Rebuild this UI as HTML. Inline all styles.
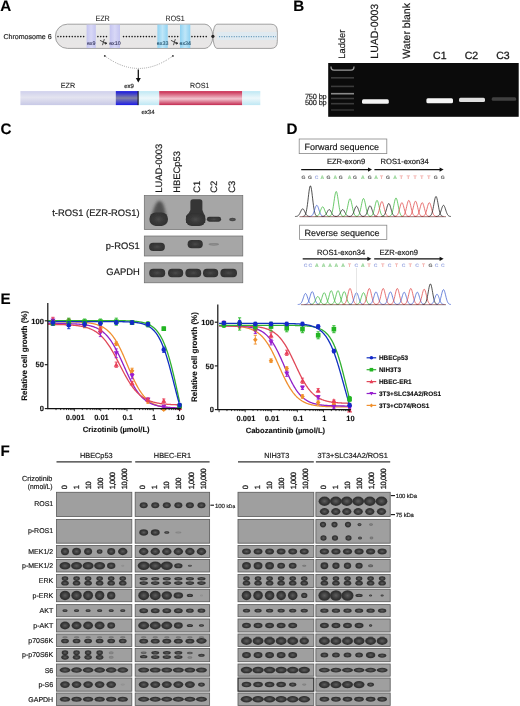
<!DOCTYPE html><html><head><meta charset="utf-8"><style>html,body{margin:0;padding:0;background:#fff;}svg{display:block;filter:blur(0.35px);}text{font-family:"Liberation Sans", sans-serif;text-rendering:geometricPrecision;}</style></head><body>
<svg width="520" height="706" viewBox="0 0 520 706">
<rect width="520" height="706" fill="#fff"/>
<defs>
<linearGradient id="chrom" x1="0" y1="0" x2="0" y2="1"><stop offset="0" stop-color="#ececec"/><stop offset="0.5" stop-color="#e6e6e6"/><stop offset="1" stop-color="#e9e6e6"/></linearGradient>
<linearGradient id="ezrex" x1="0" y1="0" x2="1" y2="0"><stop offset="0" stop-color="#c4c4f0"/><stop offset="0.5" stop-color="#d8d8f6"/><stop offset="1" stop-color="#c4c4f0"/></linearGradient>
<linearGradient id="rosex" x1="0" y1="0" x2="1" y2="0"><stop offset="0" stop-color="#8fd2f2"/><stop offset="0.5" stop-color="#bfe6f8"/><stop offset="1" stop-color="#8fd2f2"/></linearGradient>
<linearGradient id="ezrbar" x1="0" y1="0" x2="0" y2="1"><stop offset="0" stop-color="#cfd0ec"/><stop offset="0.45" stop-color="#e4e4f0"/><stop offset="1" stop-color="#c8c9e6"/></linearGradient>
<linearGradient id="ex9bar" x1="0" y1="0" x2="0" y2="1"><stop offset="0" stop-color="#1616e0"/><stop offset="0.5" stop-color="#8484a4"/><stop offset="1" stop-color="#1a1ae8"/></linearGradient>
<linearGradient id="cyanbar" x1="0" y1="0" x2="0" y2="1"><stop offset="0" stop-color="#bfe8f4"/><stop offset="0.5" stop-color="#eef8fb"/><stop offset="1" stop-color="#bfe8f4"/></linearGradient>
<linearGradient id="redbar" x1="0" y1="0" x2="0" y2="1"><stop offset="0" stop-color="#c8284e"/><stop offset="0.55" stop-color="#f2c4cf"/><stop offset="1" stop-color="#c42a50"/></linearGradient>
<filter id="blur05" x="-20%" y="-50%" width="140%" height="200%"><feGaussianBlur stdDeviation="0.5"/></filter>
<filter id="blur06" x="-20%" y="-50%" width="140%" height="200%"><feGaussianBlur stdDeviation="0.6"/></filter>
<filter id="bb" x="-50%" y="-50%" width="200%" height="200%"><feGaussianBlur stdDeviation="0.7"/></filter>
<radialGradient id="bandg" cx="0.5" cy="0.5" r="0.5"><stop offset="0" stop-color="#5e5e5e"/><stop offset="0.45" stop-color="#444"/><stop offset="0.8" stop-color="#303030"/><stop offset="1" stop-color="#383838"/></radialGradient>
<filter id="bb2" x="-50%" y="-50%" width="200%" height="200%"><feGaussianBlur stdDeviation="0.75"/></filter>
<filter id="blur15" x="-50%" y="-50%" width="200%" height="200%"><feGaussianBlur stdDeviation="1.4"/></filter>
<radialGradient id="bandc" cx="0.5" cy="0.5" r="0.5"><stop offset="0" stop-color="#4a4a4a"/><stop offset="0.5" stop-color="#3a3a3a"/><stop offset="1" stop-color="#323232"/></radialGradient>
</defs>
<text x="0.2" y="10.6" font-size="15.2" text-anchor="start" font-weight="bold" fill="#000" stroke="#000" stroke-width="0.12">A</text>
<text x="293.3" y="10.6" font-size="15.2" text-anchor="start" font-weight="bold" fill="#000" stroke="#000" stroke-width="0.12">B</text>
<text x="0.6" y="134.4" font-size="15.2" text-anchor="start" font-weight="bold" fill="#000" stroke="#000" stroke-width="0.12">C</text>
<text x="286.4" y="134.4" font-size="15.2" text-anchor="start" font-weight="bold" fill="#000" stroke="#000" stroke-width="0.12">D</text>
<text x="0.6" y="303.6" font-size="15.2" text-anchor="start" font-weight="bold" fill="#000" stroke="#000" stroke-width="0.12">E</text>
<text x="0.6" y="455.9" font-size="15.2" text-anchor="start" font-weight="bold" fill="#000" stroke="#000" stroke-width="0.12">F</text>
<text x="3.4" y="38.8" font-size="7.05" text-anchor="start" fill="#222" stroke="#222" stroke-width="0.18">Chromosome 6</text>
<text x="102.55" y="20.7" font-size="7.7" text-anchor="middle" fill="#2a2a2a" textLength="14.3" lengthAdjust="spacingAndGlyphs" stroke="#2a2a2a" stroke-width="0.1">EZR</text>
<text x="175.1" y="20.7" font-size="7.7" text-anchor="middle" fill="#2a2a2a" textLength="19.0" lengthAdjust="spacingAndGlyphs" stroke="#2a2a2a" stroke-width="0.1">ROS1</text>
<path d="M67.4 24.2 L205 24.2 A7.8 12.1 0 0 1 205 48.4 L67.4 48.4 A12 12.1 0 0 1 67.4 24.2 Z" fill="url(#chrom)" stroke="#8c8c8c" stroke-width="0.8"/>
<path d="M216.9 24.2 L271 24.2 Q277.3 24.2 277.3 31 L277.3 41.6 Q277.3 48.4 271 48.4 L216.9 48.4 A3.9 12.1 0 0 1 216.9 24.2 Z" fill="url(#chrom)" stroke="#8c8c8c" stroke-width="0.8"/>
<rect x="86.6" y="24.599999999999998" width="9.200000000000003" height="23.4" fill="url(#ezrex)"/>
<rect x="109.7" y="24.599999999999998" width="10.299999999999997" height="23.4" fill="url(#ezrex)"/>
<rect x="157.4" y="24.599999999999998" width="10.299999999999983" height="23.4" fill="url(#rosex)"/>
<rect x="180" y="24.599999999999998" width="10.300000000000011" height="23.4" fill="url(#rosex)"/>
<rect x="217" y="32" width="60" height="8" fill="#dcebf5" opacity="0.7"/>
<g fill="#151515"><circle cx="58.00" cy="36.599999999999994" r="0.78"/><circle cx="60.85" cy="36.599999999999994" r="0.78"/><circle cx="63.70" cy="36.599999999999994" r="0.78"/><circle cx="66.55" cy="36.599999999999994" r="0.78"/><circle cx="69.40" cy="36.599999999999994" r="0.78"/><circle cx="72.25" cy="36.599999999999994" r="0.78"/><circle cx="75.10" cy="36.599999999999994" r="0.78"/><circle cx="77.95" cy="36.599999999999994" r="0.78"/><circle cx="80.80" cy="36.599999999999994" r="0.78"/><circle cx="83.65" cy="36.599999999999994" r="0.78"/><circle cx="97.90" cy="36.599999999999994" r="0.78"/><circle cx="100.75" cy="36.599999999999994" r="0.78"/><circle cx="103.60" cy="36.599999999999994" r="0.78"/><circle cx="106.45" cy="36.599999999999994" r="0.78"/><circle cx="123.55" cy="36.599999999999994" r="0.78"/><circle cx="126.40" cy="36.599999999999994" r="0.78"/><circle cx="129.25" cy="36.599999999999994" r="0.78"/><circle cx="132.10" cy="36.599999999999994" r="0.78"/><circle cx="134.95" cy="36.599999999999994" r="0.78"/><circle cx="137.80" cy="36.599999999999994" r="0.78"/><circle cx="140.65" cy="36.599999999999994" r="0.78"/><circle cx="143.50" cy="36.599999999999994" r="0.78"/><circle cx="146.35" cy="36.599999999999994" r="0.78"/><circle cx="149.20" cy="36.599999999999994" r="0.78"/><circle cx="152.05" cy="36.599999999999994" r="0.78"/><circle cx="154.90" cy="36.599999999999994" r="0.78"/><circle cx="169.15" cy="36.599999999999994" r="0.78"/><circle cx="172.00" cy="36.599999999999994" r="0.78"/><circle cx="174.85" cy="36.599999999999994" r="0.78"/><circle cx="177.70" cy="36.599999999999994" r="0.78"/><circle cx="191.95" cy="36.599999999999994" r="0.78"/><circle cx="194.80" cy="36.599999999999994" r="0.78"/><circle cx="197.65" cy="36.599999999999994" r="0.78"/><circle cx="200.50" cy="36.599999999999994" r="0.78"/><circle cx="203.35" cy="36.599999999999994" r="0.78"/><circle cx="206.20" cy="36.599999999999994" r="0.78"/></g>
<line x1="219" y1="36.599999999999994" x2="276" y2="36.599999999999994" stroke="#6a9cbc" stroke-width="1.1" stroke-dasharray="1.1 1.35"/>
<circle cx="212.9" cy="36.3" r="1.6" fill="#222"/>
<text x="91.2" y="44.7" font-size="5.3" text-anchor="middle" fill="#34345a" stroke="#34345a" stroke-width="0.1">ex9</text>
<text x="114.9" y="44.7" font-size="5.3" text-anchor="middle" fill="#34345a" stroke="#34345a" stroke-width="0.1">ex10</text>
<text x="162.6" y="44.7" font-size="5.3" text-anchor="middle" fill="#24506a" stroke="#24506a" stroke-width="0.1">ex33</text>
<text x="185.2" y="44.7" font-size="5.3" text-anchor="middle" fill="#24506a" stroke="#24506a" stroke-width="0.1">ex34</text>
<g transform="translate(103.3,42.3)" stroke="#333" stroke-width="0.85" fill="none" stroke-linecap="round"><path d="M-3 -1.8 L2.2 0.9 M0.9 -2.8 L-0.7 2.5"/><circle cx="2.4" cy="1.0" r="0.8" fill="#2a2a2a"/></g>
<g transform="translate(174.3,42.3)" stroke="#333" stroke-width="0.85" fill="none" stroke-linecap="round"><path d="M-3 -1.8 L2.2 0.9 M0.9 -2.8 L-0.7 2.5"/><circle cx="2.4" cy="1.0" r="0.8" fill="#2a2a2a"/></g>
<path d="M104.8 55.9 Q138.7 81 172.9 55.9" fill="none" stroke="#666" stroke-width="0.7" stroke-dasharray="0.8 1.2"/>
<circle cx="104.8" cy="55.9" r="0.9" fill="#333"/><circle cx="172.9" cy="55.9" r="0.9" fill="#333"/>
<line x1="138.3" y1="69.6" x2="138.3" y2="79" stroke="#111" stroke-width="1.3"/>
<path d="M135.8 78 L140.8 78 L138.3 82.6 Z" fill="#111"/>
<rect x="20.4" y="91.1" width="95.5" height="14.0" fill="url(#ezrbar)"/>
<rect x="115.8" y="91.1" width="22.5" height="14.0" fill="url(#ex9bar)"/>
<rect x="137.6" y="91.1" width="1.2" height="14.0" fill="#111"/>
<rect x="138.8" y="91.1" width="20.4" height="14.0" fill="url(#cyanbar)"/>
<rect x="159.2" y="91.1" width="83.1" height="14.0" fill="url(#redbar)"/>
<rect x="242.3" y="91.1" width="18" height="14.0" fill="url(#cyanbar)"/>
<text x="68.0" y="87.5" font-size="7.4" text-anchor="middle" fill="#2a2a2a" textLength="14.5" lengthAdjust="spacingAndGlyphs" stroke="#2a2a2a" stroke-width="0.1">EZR</text>
<text x="199.7" y="87.5" font-size="7.4" text-anchor="middle" fill="#2a2a2a" textLength="19.2" lengthAdjust="spacingAndGlyphs" stroke="#2a2a2a" stroke-width="0.1">ROS1</text>
<text x="129.0" y="88.0" font-size="6.0" text-anchor="middle" fill="#222" stroke="#222" stroke-width="0.18">ex9</text>
<text x="148.0" y="113.6" font-size="6.0" text-anchor="middle" fill="#222" stroke="#222" stroke-width="0.18">ex34</text>
<text x="58.7" y="0" font-size="1" text-anchor="start" fill="#1a1a1a" stroke="#1a1a1a" stroke-width="0.18"></text>
<text x="344.55" y="58.70" font-size="9.3" fill="#1a1a1a" stroke="#1a1a1a" stroke-width="0.18" text-anchor="start" transform="rotate(-90 344.55 58.70)">Ladder</text>
<text x="377.98" y="58.70" font-size="10.5" fill="#1a1a1a" stroke="#1a1a1a" stroke-width="0.18" text-anchor="start" transform="rotate(-90 377.98 58.70)">LUAD-0003</text>
<text x="410.28" y="58.70" font-size="10.5" fill="#1a1a1a" stroke="#1a1a1a" stroke-width="0.18" text-anchor="start" transform="rotate(-90 410.28 58.70)">Water blank</text>
<text x="439.8" y="59.2" font-size="10.5" text-anchor="middle" fill="#1a1a1a" stroke="#1a1a1a" stroke-width="0.3">C1</text>
<text x="471.5" y="59.2" font-size="10.5" text-anchor="middle" fill="#1a1a1a" stroke="#1a1a1a" stroke-width="0.3">C2</text>
<text x="503" y="59.2" font-size="10.5" text-anchor="middle" fill="#1a1a1a" stroke="#1a1a1a" stroke-width="0.3">C3</text>
<rect x="328.2" y="63" width="190.5" height="53.8" fill="#0b0b0b"/>
<g filter="url(#blur06)">
<path d="M331 66.5 Q331 70.2 334 70.2 L351 70.2 Q354 70.2 354 66.5" fill="none" stroke="#9a9a9a" stroke-width="1.3"/>
<rect x="331" y="77.0" width="23" height="1.6" fill="#3a3a3a"/>
<rect x="331" y="85.60000000000001" width="23" height="1.6" fill="#3a3a3a"/>
<rect x="331" y="92.9" width="23" height="1.6" fill="#8a8a8a"/>
<rect x="331" y="97.7" width="23" height="1.6" fill="#3c3c3c"/>
<rect x="331" y="102.9" width="23" height="1.6" fill="#3a3a3a"/>
<rect x="331" y="109.2" width="23" height="1.6" fill="#303030"/>
</g>
<g filter="url(#blur05)">
<rect x="362" y="99.3" width="26.8" height="4.4" rx="1.5" fill="#f4f4f4"/>
<rect x="426.4" y="98.2" width="26.6" height="5" rx="1.5" fill="#f6f6f6"/>
<rect x="459" y="97.8" width="26" height="4.2" rx="1.5" fill="#dedede"/>
<rect x="491.7" y="97.3" width="24.5" height="3.4" rx="1.5" fill="#404040"/>
</g>
<text x="326.6" y="98.8" font-size="7.4" text-anchor="end" fill="#222" letter-spacing="-0.15" stroke="#222" stroke-width="0.18">750 bp</text>
<text x="326.6" y="105.3" font-size="7.4" text-anchor="end" fill="#222" letter-spacing="-0.15" stroke="#222" stroke-width="0.18">500 bp</text>
<text x="162.38" y="192.70" font-size="9.4" fill="#1a1a1a" stroke="#1a1a1a" stroke-width="0.18" text-anchor="start" transform="rotate(-90 162.38 192.70)">LUAD-0003</text>
<text x="180.08" y="192.70" font-size="9.4" fill="#1a1a1a" stroke="#1a1a1a" stroke-width="0.18" text-anchor="start" transform="rotate(-90 180.08 192.70)">HBECp53</text>
<text x="199.88" y="192.70" font-size="9.4" fill="#1a1a1a" stroke="#1a1a1a" stroke-width="0.18" text-anchor="start" transform="rotate(-90 199.88 192.70)">C1</text>
<text x="216.68" y="192.70" font-size="9.4" fill="#1a1a1a" stroke="#1a1a1a" stroke-width="0.18" text-anchor="start" transform="rotate(-90 216.68 192.70)">C2</text>
<text x="234.88" y="192.70" font-size="9.4" fill="#1a1a1a" stroke="#1a1a1a" stroke-width="0.18" text-anchor="start" transform="rotate(-90 234.88 192.70)">C3</text>
<text x="139.7" y="216.0" font-size="9.4" text-anchor="end" fill="#1a1a1a" stroke="#1a1a1a" stroke-width="0.18">t-ROS1 (EZR-ROS1)</text>
<text x="139.7" y="249.3" font-size="9.4" text-anchor="end" fill="#1a1a1a" stroke="#1a1a1a" stroke-width="0.18">p-ROS1</text>
<text x="139.7" y="275.3" font-size="9.4" text-anchor="end" fill="#1a1a1a" stroke="#1a1a1a" stroke-width="0.18">GAPDH</text>
<rect x="144.3" y="195.6" width="98.50" height="33.90" fill="#a6a6a6" stroke="#6a6a6a" stroke-width="0.7"/>
<rect x="144.3" y="236.0" width="98.50" height="20.00" fill="#a6a6a6" stroke="#6a6a6a" stroke-width="0.7"/>
<rect x="144.3" y="262.8" width="98.50" height="20.00" fill="#a6a6a6" stroke="#6a6a6a" stroke-width="0.7"/>
<path d="M151.5 216 Q154.5 205 157.5 201.5 Q159.5 200.5 161.5 201.5 Q164.5 205 166 216 Z" fill="#3e3e3e" opacity="0.8" filter="url(#blur15)"/>
<rect x="149.45" y="212.50" width="18.50" height="13.40" rx="6.2" fill="url(#bandc)" opacity="1.0" filter="url(#bb2)"/>
<path d="M186 223 L186 216 Q189.5 213 190.4 210 L190.4 201.8 Q190.4 199.2 193 199.2 L199.8 199.2 Q202.4 199.2 202.4 201.8 L202.4 210 Q203.3 213 205.2 216 L205.2 223 Z" fill="#363636" filter="url(#bb2)"/>
<rect x="185.80" y="213.10" width="19.60" height="12.80" rx="6" fill="url(#bandc)" opacity="1.0" filter="url(#bb2)"/>
<rect x="206.90" y="216.85" width="14.20" height="4.90" rx="2.4" fill="url(#bandc)" opacity="1.0" filter="url(#bb2)"/>
<ellipse cx="232.50" cy="219.50" rx="3.25" ry="1.70" fill="url(#bandc)" opacity="0.85" filter="url(#bb2)"/>
<rect x="149.10" y="242.70" width="15.80" height="8.40" rx="4" fill="url(#bandc)" opacity="1.0" filter="url(#bb2)"/>
<rect x="187.60" y="239.90" width="15.20" height="8.40" rx="4" fill="url(#bandc)" opacity="1.0" filter="url(#bb2)"/>
<ellipse cx="213.80" cy="244.30" rx="5.25" ry="1.40" fill="url(#bandg)" opacity="0.3" filter="url(#bb2)"/>
<rect x="149.20" y="268.80" width="16.00" height="8.40" rx="4" fill="url(#bandc)" opacity="1.0" filter="url(#bb2)"/>
<rect x="168.00" y="268.80" width="15.20" height="8.40" rx="4" fill="url(#bandc)" opacity="1.0" filter="url(#bb2)"/>
<rect x="185.40" y="268.80" width="15.80" height="8.40" rx="4" fill="url(#bandc)" opacity="1.0" filter="url(#bb2)"/>
<rect x="203.00" y="268.80" width="15.20" height="8.40" rx="4" fill="url(#bandc)" opacity="1.0" filter="url(#bb2)"/>
<rect x="220.40" y="268.80" width="16.60" height="8.40" rx="4" fill="url(#bandc)" opacity="1.0" filter="url(#bb2)"/>
<rect x="299.2" y="139" width="87.6" height="14.6" fill="#fff" stroke="#888" stroke-width="0.8"/>
<text x="304.5" y="150.2" font-size="9.0" text-anchor="start" fill="#1a1a1a" stroke="#1a1a1a" stroke-width="0.18">Forward sequence</text>
<line x1="301.2" y1="169.6" x2="369" y2="169.6" stroke="#111" stroke-width="1.2"/>
<path d="M368 167.5 L372 169.6 L368 171.7 Z" fill="#111"/>
<line x1="374.4" y1="169.6" x2="440.6" y2="169.6" stroke="#111" stroke-width="1.2"/>
<path d="M439.6 167.5 L443.6 169.6 L439.6 171.7 Z" fill="#111"/>
<text x="326.9" y="164.3" font-size="7.6" text-anchor="start" fill="#1a1a1a" stroke="#1a1a1a" stroke-width="0.18">EZR-exon9</text>
<text x="380.5" y="164.3" font-size="7.6" text-anchor="start" fill="#1a1a1a" stroke="#1a1a1a" stroke-width="0.18">ROS1-exon34</text>
<text x="303.5" y="178.6" font-size="5.0" text-anchor="middle" font-weight="bold" fill="#666" stroke="#666" stroke-width="0.12">G</text>
<text x="310" y="178.6" font-size="5.0" text-anchor="middle" font-weight="bold" fill="#666" stroke="#666" stroke-width="0.12">G</text>
<text x="316.5" y="178.6" font-size="5.0" text-anchor="middle" font-weight="bold" fill="#a4b0e4" stroke="#a4b0e4" stroke-width="0.12">C</text>
<text x="322.4" y="178.6" font-size="5.0" text-anchor="middle" font-weight="bold" fill="#96d496" stroke="#96d496" stroke-width="0.12">A</text>
<text x="328.5" y="178.6" font-size="5.0" text-anchor="middle" font-weight="bold" fill="#666" stroke="#666" stroke-width="0.12">G</text>
<text x="335.2" y="178.6" font-size="5.0" text-anchor="middle" font-weight="bold" fill="#96d496" stroke="#96d496" stroke-width="0.12">A</text>
<text x="340.8" y="178.6" font-size="5.0" text-anchor="middle" font-weight="bold" fill="#666" stroke="#666" stroke-width="0.12">G</text>
<text x="349.6" y="178.6" font-size="5.0" text-anchor="middle" font-weight="bold" fill="#96d496" stroke="#96d496" stroke-width="0.12">A</text>
<text x="355" y="178.6" font-size="5.0" text-anchor="middle" font-weight="bold" fill="#666" stroke="#666" stroke-width="0.12">G</text>
<text x="362.7" y="178.6" font-size="5.0" text-anchor="middle" font-weight="bold" fill="#96d496" stroke="#96d496" stroke-width="0.12">A</text>
<text x="369.6" y="178.6" font-size="5.0" text-anchor="middle" font-weight="bold" fill="#666" stroke="#666" stroke-width="0.12">G</text>
<text x="376" y="178.6" font-size="5.0" text-anchor="middle" font-weight="bold" fill="#96d496" stroke="#96d496" stroke-width="0.12">A</text>
<text x="381.6" y="178.6" font-size="5.0" text-anchor="middle" font-weight="bold" fill="#f2aaa6" stroke="#f2aaa6" stroke-width="0.12">T</text>
<text x="388" y="178.6" font-size="5.0" text-anchor="middle" font-weight="bold" fill="#666" stroke="#666" stroke-width="0.12">G</text>
<text x="395" y="178.6" font-size="5.0" text-anchor="middle" font-weight="bold" fill="#96d496" stroke="#96d496" stroke-width="0.12">A</text>
<text x="401.2" y="178.6" font-size="5.0" text-anchor="middle" font-weight="bold" fill="#f2aaa6" stroke="#f2aaa6" stroke-width="0.12">T</text>
<text x="408.4" y="178.6" font-size="5.0" text-anchor="middle" font-weight="bold" fill="#f2aaa6" stroke="#f2aaa6" stroke-width="0.12">T</text>
<text x="415" y="178.6" font-size="5.0" text-anchor="middle" font-weight="bold" fill="#f2aaa6" stroke="#f2aaa6" stroke-width="0.12">T</text>
<text x="421.9" y="178.6" font-size="5.0" text-anchor="middle" font-weight="bold" fill="#f2aaa6" stroke="#f2aaa6" stroke-width="0.12">T</text>
<text x="428.8" y="178.6" font-size="5.0" text-anchor="middle" font-weight="bold" fill="#f2aaa6" stroke="#f2aaa6" stroke-width="0.12">T</text>
<text x="435.8" y="178.6" font-size="5.0" text-anchor="middle" font-weight="bold" fill="#666" stroke="#666" stroke-width="0.12">G</text>
<text x="442.7" y="178.6" font-size="5.0" text-anchor="middle" font-weight="bold" fill="#666" stroke="#666" stroke-width="0.12">G</text>
<polyline points="294.96,216.49 295.36,216.48 295.76,216.46 296.16,216.42 296.56,216.37 296.96,216.28 297.36,216.15 297.76,215.95 298.16,215.67 298.56,215.29 298.96,214.80 299.36,214.20 299.76,213.48 300.16,212.67 300.56,211.81 300.96,210.95 301.36,210.16 301.76,209.50 302.16,209.04 302.56,208.82 302.96,208.86 303.36,209.15 303.76,209.68 304.16,210.39 304.56,211.20 304.96,212.07 305.36,212.92 305.76,213.70 306.16,214.39 306.56,214.96 306.96,215.42 307.36,215.76 307.76,216.02 308.16,216.19 308.56,216.31 308.96,216.39 309.36,216.44 309.76,216.46 310.16,216.48" fill="none" stroke="#1a1a1a" stroke-width="0.9" opacity="0.85"/>
<polyline points="302.66,216.45 303.06,216.41 303.46,216.33 303.86,216.20 304.26,215.98 304.66,215.63 305.06,215.10 305.46,214.31 305.86,213.20 306.26,211.69 306.66,209.74 307.06,207.31 307.46,204.45 307.86,201.22 308.26,197.79 308.66,194.37 309.06,191.22 309.46,188.60 309.86,186.75 310.26,185.87 310.66,186.02 311.06,187.21 311.46,189.31 311.86,192.12 312.26,195.38 312.66,198.83 313.06,202.22 313.46,205.35 313.86,208.09 314.26,210.37 314.66,212.19 315.06,213.57 315.46,214.58 315.86,215.28 316.26,215.75 316.66,216.06 317.06,216.25 317.46,216.36 317.86,216.43" fill="none" stroke="#1a1a1a" stroke-width="0.9" opacity="0.85"/>
<polyline points="309.06,216.48 309.46,216.47 309.86,216.44 310.26,216.39 310.66,216.31 311.06,216.18 311.46,215.99 311.86,215.70 312.26,215.30 312.66,214.75 313.06,214.03 313.46,213.15 313.86,212.10 314.26,210.93 314.66,209.68 315.06,208.43 315.46,207.28 315.86,206.32 316.26,205.65 316.66,205.32 317.06,205.38 317.46,205.82 317.86,206.58 318.26,207.61 318.66,208.80 319.06,210.05 319.46,211.29 319.86,212.43 320.26,213.43 320.66,214.26 321.06,214.93 321.46,215.43 321.86,215.80 322.26,216.05 322.66,216.23 323.06,216.34 323.46,216.41 323.86,216.45 324.26,216.47" fill="none" stroke="#4060d0" stroke-width="0.9" opacity="0.85"/>
<polyline points="314.96,216.49 315.36,216.47 315.76,216.45 316.16,216.41 316.56,216.34 316.96,216.23 317.36,216.06 317.76,215.81 318.16,215.46 318.56,214.98 318.96,214.36 319.36,213.60 319.76,212.69 320.16,211.67 320.56,210.59 320.96,209.51 321.36,208.51 321.76,207.68 322.16,207.10 322.56,206.82 322.96,206.87 323.36,207.25 323.76,207.91 324.16,208.80 324.56,209.83 324.96,210.92 325.36,211.99 325.76,212.98 326.16,213.84 326.56,214.56 326.96,215.14 327.36,215.57 327.76,215.89 328.16,216.11 328.56,216.26 328.96,216.36 329.36,216.42 329.76,216.46 330.16,216.48" fill="none" stroke="#3cb83c" stroke-width="0.9" opacity="0.85"/>
<polyline points="321.46,216.49 321.86,216.48 322.26,216.46 322.66,216.43 323.06,216.38 323.46,216.30 323.86,216.18 324.26,216.01 324.66,215.76 325.06,215.42 325.46,214.98 325.86,214.44 326.26,213.79 326.66,213.07 327.06,212.30 327.46,211.53 327.86,210.82 328.26,210.23 328.66,209.81 329.06,209.61 329.46,209.65 329.86,209.92 330.26,210.39 330.66,211.02 331.06,211.75 331.46,212.53 331.86,213.29 332.26,213.99 332.66,214.61 333.06,215.12 333.46,215.53 333.86,215.84 334.26,216.07 334.66,216.23 335.06,216.33 335.46,216.40 335.86,216.44 336.26,216.47 336.66,216.48" fill="none" stroke="#1a1a1a" stroke-width="0.9" opacity="0.85"/>
<polyline points="328.46,216.46 328.86,216.43 329.26,216.36 329.66,216.26 330.06,216.08 330.46,215.79 330.86,215.36 331.26,214.72 331.66,213.81 332.06,212.58 332.46,210.99 332.86,209.02 333.26,206.68 333.66,204.06 334.06,201.27 334.46,198.48 334.86,195.91 335.26,193.78 335.66,192.28 336.06,191.55 336.46,191.68 336.86,192.65 337.26,194.36 337.66,196.65 338.06,199.30 338.46,202.11 338.86,204.87 339.26,207.42 339.66,209.65 340.06,211.51 340.46,212.99 340.86,214.11 341.26,214.93 341.66,215.51 342.06,215.89 342.46,216.14 342.86,216.29 343.26,216.39 343.66,216.44" fill="none" stroke="#3cb83c" stroke-width="0.9" opacity="0.85"/>
<polyline points="334.96,216.49 335.36,216.48 335.76,216.46 336.16,216.43 336.56,216.38 336.96,216.30 337.36,216.18 337.76,216.01 338.16,215.76 338.56,215.42 338.96,214.98 339.36,214.44 339.76,213.79 340.16,213.07 340.56,212.30 340.96,211.53 341.36,210.82 341.76,210.23 342.16,209.81 342.56,209.61 342.96,209.65 343.36,209.92 343.76,210.39 344.16,211.02 344.56,211.75 344.96,212.53 345.36,213.29 345.76,213.99 346.16,214.61 346.56,215.12 346.96,215.53 347.36,215.84 347.76,216.07 348.16,216.23 348.56,216.33 348.96,216.40 349.36,216.44 349.76,216.47 350.16,216.48" fill="none" stroke="#1a1a1a" stroke-width="0.9" opacity="0.85"/>
<polyline points="342.26,216.47 342.66,216.45 343.06,216.40 343.46,216.33 343.86,216.20 344.26,216.00 344.66,215.69 345.06,215.24 345.46,214.60 345.86,213.73 346.26,212.60 346.66,211.20 347.06,209.55 347.46,207.69 347.86,205.71 348.26,203.74 348.66,201.92 349.06,200.41 349.46,199.35 349.86,198.84 350.26,198.93 350.66,199.61 351.06,200.83 351.46,202.44 351.86,204.33 352.26,206.31 352.66,208.27 353.06,210.07 353.46,211.65 353.86,212.97 354.26,214.01 354.66,214.81 355.06,215.39 355.46,215.80 355.86,216.07 356.26,216.24 356.66,216.35 357.06,216.42 357.46,216.46" fill="none" stroke="#3cb83c" stroke-width="0.9" opacity="0.85"/>
<polyline points="348.76,216.48 349.16,216.47 349.56,216.44 349.96,216.40 350.36,216.33 350.76,216.21 351.16,216.03 351.56,215.76 351.96,215.39 352.36,214.89 352.76,214.23 353.16,213.42 353.56,212.46 353.96,211.37 354.36,210.22 354.76,209.08 355.16,208.02 355.56,207.14 355.96,206.52 356.36,206.22 356.76,206.28 357.16,206.67 357.56,207.38 357.96,208.32 358.36,209.42 358.76,210.57 359.16,211.71 359.56,212.76 359.96,213.68 360.36,214.44 360.76,215.05 361.16,215.52 361.56,215.85 361.96,216.09 362.36,216.25 362.76,216.35 363.16,216.42 363.56,216.45 363.96,216.47" fill="none" stroke="#1a1a1a" stroke-width="0.9" opacity="0.85"/>
<polyline points="355.76,216.47 356.16,216.45 356.56,216.40 356.96,216.32 357.36,216.20 357.76,215.99 358.16,215.68 358.56,215.22 358.96,214.56 359.36,213.68 359.76,212.54 360.16,211.11 360.56,209.43 360.96,207.54 361.36,205.53 361.76,203.53 362.16,201.68 362.56,200.14 362.96,199.06 363.36,198.54 363.76,198.63 364.16,199.33 364.56,200.56 364.96,202.21 365.36,204.12 365.76,206.14 366.16,208.13 366.56,209.96 366.96,211.57 367.36,212.91 367.76,213.97 368.16,214.78 368.56,215.37 368.96,215.78 369.36,216.06 369.76,216.24 370.16,216.35 370.56,216.42 370.96,216.46" fill="none" stroke="#3cb83c" stroke-width="0.9" opacity="0.85"/>
<polyline points="362.26,216.48 362.66,216.47 363.06,216.44 363.46,216.40 363.86,216.32 364.26,216.20 364.66,216.01 365.06,215.74 365.46,215.35 365.86,214.82 366.26,214.14 366.66,213.30 367.06,212.30 367.46,211.18 367.86,209.98 368.26,208.79 368.66,207.69 369.06,206.78 369.46,206.13 369.86,205.82 370.26,205.88 370.66,206.29 371.06,207.02 371.46,208.00 371.86,209.14 372.26,210.34 372.66,211.52 373.06,212.61 373.46,213.57 373.86,214.36 374.26,215.00 374.66,215.48 375.06,215.83 375.46,216.07 375.86,216.24 376.26,216.35 376.66,216.41 377.06,216.45 377.46,216.47" fill="none" stroke="#1a1a1a" stroke-width="0.9" opacity="0.85"/>
<polyline points="369.26,216.48 369.66,216.45 370.06,216.41 370.46,216.34 370.86,216.23 371.26,216.04 371.66,215.76 372.06,215.35 372.46,214.77 372.86,213.98 373.26,212.95 373.66,211.68 374.06,210.18 374.46,208.49 374.86,206.69 375.26,204.90 375.66,203.24 376.06,201.87 376.46,200.90 376.86,200.43 377.26,200.52 377.66,201.14 378.06,202.24 378.46,203.72 378.86,205.43 379.26,207.23 379.66,209.01 380.06,210.65 380.46,212.09 380.86,213.29 381.26,214.24 381.66,214.96 382.06,215.49 382.46,215.86 382.86,216.11 383.26,216.27 383.66,216.37 384.06,216.43 384.46,216.46" fill="none" stroke="#3cb83c" stroke-width="0.9" opacity="0.85"/>
<polyline points="374.16,216.48 374.56,216.46 374.96,216.42 375.36,216.35 375.76,216.25 376.16,216.08 376.56,215.82 376.96,215.44 377.36,214.90 377.76,214.17 378.16,213.22 378.56,212.04 378.96,210.65 379.36,209.08 379.76,207.42 380.16,205.76 380.56,204.23 380.96,202.96 381.36,202.06 381.76,201.63 382.16,201.71 382.56,202.29 382.96,203.31 383.36,204.67 383.76,206.25 384.16,207.92 384.56,209.57 384.96,211.09 385.36,212.42 385.76,213.53 386.16,214.41 386.56,215.08 386.96,215.57 387.36,215.91 387.76,216.14 388.16,216.29 388.56,216.38 388.96,216.43 389.36,216.46" fill="none" stroke="#e04848" stroke-width="0.9" opacity="0.85"/>
<polyline points="381.06,216.48 381.46,216.46 381.86,216.43 382.26,216.37 382.66,216.28 383.06,216.13 383.46,215.91 383.86,215.57 384.26,215.10 384.66,214.46 385.06,213.64 385.46,212.61 385.86,211.40 386.26,210.03 386.66,208.58 387.06,207.13 387.46,205.79 387.86,204.68 388.26,203.90 388.66,203.53 389.06,203.59 389.46,204.10 389.86,204.99 390.26,206.18 390.66,207.56 391.06,209.02 391.46,210.45 391.86,211.78 392.26,212.94 392.66,213.91 393.06,214.67 393.46,215.26 393.86,215.68 394.26,215.98 394.66,216.18 395.06,216.31 395.46,216.39 395.86,216.44 396.26,216.47" fill="none" stroke="#1a1a1a" stroke-width="0.9" opacity="0.85"/>
<polyline points="388.26,216.47 388.66,216.45 389.06,216.40 389.46,216.32 389.86,216.19 390.26,215.98 390.66,215.65 391.06,215.18 391.46,214.51 391.86,213.60 392.26,212.43 392.66,210.96 393.06,209.24 393.46,207.29 393.86,205.23 394.26,203.17 394.66,201.27 395.06,199.69 395.46,198.57 395.86,198.04 396.26,198.13 396.66,198.85 397.06,200.12 397.46,201.81 397.86,203.78 398.26,205.85 398.66,207.89 399.06,209.78 399.46,211.43 399.86,212.81 400.26,213.90 400.66,214.73 401.06,215.34 401.46,215.76 401.86,216.05 402.26,216.23 402.66,216.35 403.06,216.42 403.46,216.46" fill="none" stroke="#3cb83c" stroke-width="0.9" opacity="0.85"/>
<polyline points="394.16,216.48 394.56,216.46 394.96,216.42 395.36,216.36 395.76,216.27 396.16,216.11 396.56,215.87 396.96,215.51 397.36,215.02 397.76,214.34 398.16,213.46 398.56,212.37 398.96,211.08 399.36,209.63 399.76,208.09 400.16,206.55 400.56,205.14 400.96,203.96 401.36,203.13 401.76,202.73 402.16,202.80 402.56,203.34 402.96,204.28 403.36,205.54 403.76,207.01 404.16,208.56 404.56,210.08 404.96,211.49 405.36,212.72 405.76,213.75 406.16,214.56 406.56,215.18 406.96,215.63 407.36,215.95 407.76,216.16 408.16,216.30 408.56,216.39 408.96,216.44 409.36,216.47" fill="none" stroke="#e04848" stroke-width="0.9" opacity="0.85"/>
<polyline points="401.06,216.48 401.46,216.45 401.86,216.41 402.26,216.34 402.66,216.23 403.06,216.04 403.46,215.76 403.86,215.35 404.26,214.77 404.66,213.98 405.06,212.95 405.46,211.68 405.86,210.18 406.26,208.49 406.66,206.69 407.06,204.90 407.46,203.24 407.86,201.87 408.26,200.90 408.66,200.43 409.06,200.52 409.46,201.14 409.86,202.24 410.26,203.72 410.66,205.43 411.06,207.23 411.46,209.01 411.86,210.65 412.26,212.09 412.66,213.29 413.06,214.24 413.46,214.96 413.86,215.49 414.26,215.86 414.66,216.11 415.06,216.27 415.46,216.37 415.86,216.43 416.26,216.46" fill="none" stroke="#e04848" stroke-width="0.9" opacity="0.85"/>
<polyline points="407.76,216.48 408.16,216.45 408.56,216.42 408.96,216.35 409.36,216.24 409.76,216.07 410.16,215.80 410.56,215.41 410.96,214.85 411.36,214.10 411.76,213.13 412.16,211.92 412.56,210.49 412.96,208.89 413.36,207.18 413.76,205.47 414.16,203.90 414.56,202.59 414.96,201.68 415.36,201.23 415.76,201.31 416.16,201.90 416.56,202.95 416.96,204.35 417.36,205.98 417.76,207.69 418.16,209.38 418.56,210.94 418.96,212.31 419.36,213.45 419.76,214.35 420.16,215.04 420.56,215.54 420.96,215.89 421.36,216.13 421.76,216.28 422.16,216.37 422.56,216.43 422.96,216.46" fill="none" stroke="#e04848" stroke-width="0.9" opacity="0.85"/>
<polyline points="414.46,216.48 414.86,216.46 415.26,216.42 415.66,216.36 416.06,216.27 416.46,216.11 416.86,215.87 417.26,215.51 417.66,215.02 418.06,214.34 418.46,213.46 418.86,212.37 419.26,211.08 419.66,209.63 420.06,208.09 420.46,206.55 420.86,205.14 421.26,203.96 421.66,203.13 422.06,202.73 422.46,202.80 422.86,203.34 423.26,204.28 423.66,205.54 424.06,207.01 424.46,208.56 424.86,210.08 425.26,211.49 425.66,212.72 426.06,213.75 426.46,214.56 426.86,215.18 427.26,215.63 427.66,215.95 428.06,216.16 428.46,216.30 428.86,216.39 429.26,216.44 429.66,216.47" fill="none" stroke="#e04848" stroke-width="0.9" opacity="0.85"/>
<polyline points="421.56,216.48 421.96,216.46 422.36,216.42 422.76,216.36 423.16,216.27 423.56,216.11 423.96,215.87 424.36,215.51 424.76,215.02 425.16,214.34 425.56,213.46 425.96,212.37 426.36,211.08 426.76,209.63 427.16,208.09 427.56,206.55 427.96,205.14 428.36,203.96 428.76,203.13 429.16,202.73 429.56,202.80 429.96,203.34 430.36,204.28 430.76,205.54 431.16,207.01 431.56,208.56 431.96,210.08 432.36,211.49 432.76,212.72 433.16,213.75 433.56,214.56 433.96,215.18 434.36,215.63 434.76,215.95 435.16,216.16 435.56,216.30 435.96,216.39 436.36,216.44 436.76,216.47" fill="none" stroke="#e04848" stroke-width="0.9" opacity="0.85"/>
<polyline points="428.26,216.47 428.66,216.44 429.06,216.39 429.46,216.30 429.86,216.16 430.26,215.93 430.66,215.58 431.06,215.07 431.46,214.35 431.86,213.37 432.26,212.09 432.66,210.52 433.06,208.65 433.46,206.55 433.86,204.31 434.26,202.09 434.66,200.03 435.06,198.32 435.46,197.12 435.86,196.54 436.26,196.65 436.66,197.42 437.06,198.79 437.46,200.62 437.86,202.74 438.26,204.99 438.66,207.20 439.06,209.24 439.46,211.02 439.86,212.51 440.26,213.69 440.66,214.59 441.06,215.25 441.46,215.70 441.86,216.01 442.26,216.21 442.66,216.34 443.06,216.41 443.46,216.45" fill="none" stroke="#1a1a1a" stroke-width="0.9" opacity="0.85"/>
<polyline points="435.76,216.48 436.16,216.47 436.56,216.44 436.96,216.39 437.36,216.31 437.76,216.18 438.16,215.99 438.56,215.70 438.96,215.30 439.36,214.75 439.76,214.03 440.16,213.15 440.56,212.10 440.96,210.93 441.36,209.68 441.76,208.43 442.16,207.28 442.56,206.32 442.96,205.65 443.36,205.32 443.76,205.38 444.16,205.82 444.56,206.58 444.96,207.61 445.36,208.80 445.76,210.05 446.16,211.29 446.56,212.43 446.96,213.43 447.36,214.26 447.76,214.93 448.16,215.43 448.56,215.80 448.96,216.05 449.36,216.23 449.76,216.34 450.16,216.41 450.56,216.45 450.96,216.47" fill="none" stroke="#1a1a1a" stroke-width="0.9" opacity="0.85"/>
<line x1="299.5" y1="216.5" x2="446" y2="216.5" stroke="#c04040" stroke-width="0.7" opacity="0.6"/>
<line x1="299.5" y1="216.8" x2="446" y2="216.8" stroke="#222" stroke-width="0.6" opacity="0.6"/>
<rect x="299.6" y="225.2" width="87.2" height="14.4" fill="#fff" stroke="#888" stroke-width="0.8"/>
<text x="304.5" y="236.3" font-size="9.0" text-anchor="start" fill="#1a1a1a" stroke="#1a1a1a" stroke-width="0.18">Reverse sequence</text>
<line x1="302.7" y1="258.8" x2="368.4" y2="258.8" stroke="#111" stroke-width="1.2"/>
<path d="M367.4 256.7 L371.4 258.8 L367.4 260.90000000000003 Z" fill="#111"/>
<line x1="374.2" y1="258.8" x2="440.6" y2="258.8" stroke="#111" stroke-width="1.2"/>
<path d="M439.6 256.7 L443.6 258.8 L439.6 260.90000000000003 Z" fill="#111"/>
<text x="317.0" y="255.0" font-size="7.6" text-anchor="start" fill="#1a1a1a" stroke="#1a1a1a" stroke-width="0.18">ROS1-exon34</text>
<text x="379.5" y="255.0" font-size="7.6" text-anchor="start" fill="#1a1a1a" stroke="#1a1a1a" stroke-width="0.18">EZR-exon9</text>
<text x="305.5" y="266.8" font-size="5.0" text-anchor="middle" font-weight="bold" fill="#a4b0e4" stroke="#a4b0e4" stroke-width="0.12">C</text>
<text x="310.4" y="266.8" font-size="5.0" text-anchor="middle" font-weight="bold" fill="#a4b0e4" stroke="#a4b0e4" stroke-width="0.12">C</text>
<text x="316.8" y="266.8" font-size="5.0" text-anchor="middle" font-weight="bold" fill="#96d496" stroke="#96d496" stroke-width="0.12">A</text>
<text x="323.5" y="266.8" font-size="5.0" text-anchor="middle" font-weight="bold" fill="#96d496" stroke="#96d496" stroke-width="0.12">A</text>
<text x="330" y="266.8" font-size="5.0" text-anchor="middle" font-weight="bold" fill="#96d496" stroke="#96d496" stroke-width="0.12">A</text>
<text x="336.2" y="266.8" font-size="5.0" text-anchor="middle" font-weight="bold" fill="#96d496" stroke="#96d496" stroke-width="0.12">A</text>
<text x="343" y="266.8" font-size="5.0" text-anchor="middle" font-weight="bold" fill="#96d496" stroke="#96d496" stroke-width="0.12">A</text>
<text x="349.6" y="266.8" font-size="5.0" text-anchor="middle" font-weight="bold" fill="#f2aaa6" stroke="#f2aaa6" stroke-width="0.12">T</text>
<text x="356.2" y="266.8" font-size="5.0" text-anchor="middle" font-weight="bold" fill="#a4b0e4" stroke="#a4b0e4" stroke-width="0.12">C</text>
<text x="362.7" y="266.8" font-size="5.0" text-anchor="middle" font-weight="bold" fill="#96d496" stroke="#96d496" stroke-width="0.12">A</text>
<text x="369" y="266.8" font-size="5.0" text-anchor="middle" font-weight="bold" fill="#f2aaa6" stroke="#f2aaa6" stroke-width="0.12">T</text>
<text x="375.5" y="266.8" font-size="5.0" text-anchor="middle" font-weight="bold" fill="#a4b0e4" stroke="#a4b0e4" stroke-width="0.12">C</text>
<text x="382.7" y="266.8" font-size="5.0" text-anchor="middle" font-weight="bold" fill="#f2aaa6" stroke="#f2aaa6" stroke-width="0.12">T</text>
<text x="389.6" y="266.8" font-size="5.0" text-anchor="middle" font-weight="bold" fill="#a4b0e4" stroke="#a4b0e4" stroke-width="0.12">C</text>
<text x="396.5" y="266.8" font-size="5.0" text-anchor="middle" font-weight="bold" fill="#f2aaa6" stroke="#f2aaa6" stroke-width="0.12">T</text>
<text x="403.5" y="266.8" font-size="5.0" text-anchor="middle" font-weight="bold" fill="#a4b0e4" stroke="#a4b0e4" stroke-width="0.12">C</text>
<text x="410.4" y="266.8" font-size="5.0" text-anchor="middle" font-weight="bold" fill="#f2aaa6" stroke="#f2aaa6" stroke-width="0.12">T</text>
<text x="417" y="266.8" font-size="5.0" text-anchor="middle" font-weight="bold" fill="#a4b0e4" stroke="#a4b0e4" stroke-width="0.12">C</text>
<text x="423.5" y="266.8" font-size="5.0" text-anchor="middle" font-weight="bold" fill="#f2aaa6" stroke="#f2aaa6" stroke-width="0.12">T</text>
<text x="430.4" y="266.8" font-size="5.0" text-anchor="middle" font-weight="bold" fill="#666" stroke="#666" stroke-width="0.12">G</text>
<text x="436.5" y="266.8" font-size="5.0" text-anchor="middle" font-weight="bold" fill="#a4b0e4" stroke="#a4b0e4" stroke-width="0.12">C</text>
<text x="442.7" y="266.8" font-size="5.0" text-anchor="middle" font-weight="bold" fill="#a4b0e4" stroke="#a4b0e4" stroke-width="0.12">C</text>
<polyline points="297.76,304.48 298.16,304.47 298.56,304.44 298.96,304.39 299.36,304.31 299.76,304.19 300.16,304.00 300.56,303.71 300.96,303.32 301.36,302.78 301.76,302.08 302.16,301.21 302.56,300.18 302.96,299.03 303.36,297.80 303.76,296.57 304.16,295.44 304.56,294.50 304.96,293.84 305.36,293.52 305.76,293.58 306.16,294.01 306.56,294.76 306.96,295.77 307.36,296.93 307.76,298.17 308.16,299.38 308.56,300.50 308.96,301.49 309.36,302.30 309.76,302.96 310.16,303.45 310.56,303.81 310.96,304.06 311.36,304.23 311.76,304.34 312.16,304.41 312.56,304.45 312.96,304.47" fill="none" stroke="#4060d0" stroke-width="0.9" opacity="0.85"/>
<polyline points="304.46,304.48 304.86,304.46 305.26,304.43 305.66,304.37 306.06,304.28 306.46,304.13 306.86,303.91 307.26,303.58 307.66,303.11 308.06,302.48 308.46,301.66 308.86,300.64 309.26,299.44 309.66,298.08 310.06,296.64 310.46,295.20 310.86,293.88 311.26,292.78 311.66,292.00 312.06,291.63 312.46,291.69 312.86,292.19 313.26,293.08 313.66,294.26 314.06,295.63 314.46,297.08 314.86,298.50 315.26,299.81 315.66,300.97 316.06,301.93 316.46,302.69 316.86,303.27 317.26,303.69 317.66,303.99 318.06,304.19 318.46,304.31 318.86,304.39 319.26,304.44 319.66,304.47" fill="none" stroke="#4060d0" stroke-width="0.9" opacity="0.85"/>
<polyline points="310.06,304.49 310.46,304.48 310.86,304.46 311.26,304.42 311.66,304.36 312.06,304.27 312.46,304.13 312.86,303.93 313.26,303.64 313.66,303.25 314.06,302.74 314.46,302.11 314.86,301.36 315.26,300.52 315.66,299.63 316.06,298.73 316.46,297.91 316.86,297.23 317.26,296.75 317.66,296.52 318.06,296.56 318.46,296.87 318.86,297.42 319.26,298.15 319.66,299.00 320.06,299.90 320.46,300.78 320.86,301.59 321.26,302.31 321.66,302.90 322.06,303.38 322.46,303.74 322.86,304.00 323.26,304.18 323.66,304.31 324.06,304.38 324.46,304.43 324.86,304.46 325.26,304.48" fill="none" stroke="#3cb83c" stroke-width="0.9" opacity="0.85"/>
<polyline points="316.46,304.48 316.86,304.47 317.26,304.44 317.66,304.38 318.06,304.30 318.46,304.17 318.86,303.96 319.26,303.66 319.66,303.23 320.06,302.65 320.46,301.90 320.86,300.97 321.26,299.87 321.66,298.63 322.06,297.31 322.46,296.00 322.86,294.78 323.26,293.78 323.66,293.07 324.06,292.72 324.46,292.79 324.86,293.24 325.26,294.05 325.66,295.13 326.06,296.38 326.46,297.71 326.86,299.01 327.26,300.21 327.66,301.27 328.06,302.15 328.46,302.84 328.86,303.37 329.26,303.76 329.66,304.03 330.06,304.21 330.46,304.33 330.86,304.40 331.26,304.45 331.66,304.47" fill="none" stroke="#3cb83c" stroke-width="0.9" opacity="0.85"/>
<polyline points="323.46,304.48 323.86,304.46 324.26,304.42 324.66,304.36 325.06,304.27 325.46,304.11 325.86,303.87 326.26,303.51 326.66,303.02 327.06,302.34 327.46,301.46 327.86,300.37 328.26,299.08 328.66,297.63 329.06,296.09 329.46,294.55 329.86,293.14 330.26,291.96 330.66,291.13 331.06,290.73 331.46,290.80 331.86,291.34 332.26,292.28 332.66,293.54 333.06,295.01 333.46,296.56 333.86,298.08 334.26,299.49 334.66,300.72 335.06,301.75 335.46,302.56 335.86,303.18 336.26,303.63 336.66,303.95 337.06,304.16 337.46,304.30 337.86,304.39 338.26,304.44 338.66,304.47" fill="none" stroke="#3cb83c" stroke-width="0.9" opacity="0.85"/>
<polyline points="330.26,304.48 330.66,304.46 331.06,304.42 331.46,304.36 331.86,304.27 332.26,304.11 332.66,303.87 333.06,303.51 333.46,303.02 333.86,302.34 334.26,301.46 334.66,300.37 335.06,299.08 335.46,297.63 335.86,296.09 336.26,294.55 336.66,293.14 337.06,291.96 337.46,291.13 337.86,290.73 338.26,290.80 338.66,291.34 339.06,292.28 339.46,293.54 339.86,295.01 340.26,296.56 340.66,298.08 341.06,299.49 341.46,300.72 341.86,301.75 342.26,302.56 342.66,303.18 343.06,303.63 343.46,303.95 343.86,304.16 344.26,304.30 344.66,304.39 345.06,304.44 345.46,304.47" fill="none" stroke="#3cb83c" stroke-width="0.9" opacity="0.85"/>
<polyline points="336.46,304.48 336.86,304.46 337.26,304.43 337.66,304.37 338.06,304.28 338.46,304.13 338.86,303.91 339.26,303.58 339.66,303.11 340.06,302.48 340.46,301.66 340.86,300.64 341.26,299.44 341.66,298.08 342.06,296.64 342.46,295.20 342.86,293.88 343.26,292.78 343.66,292.00 344.06,291.63 344.46,291.69 344.86,292.19 345.26,293.08 345.66,294.26 346.06,295.63 346.46,297.08 346.86,298.50 347.26,299.81 347.66,300.97 348.06,301.93 348.46,302.69 348.86,303.27 349.26,303.69 349.66,303.99 350.06,304.19 350.46,304.31 350.86,304.39 351.26,304.44 351.66,304.47" fill="none" stroke="#3cb83c" stroke-width="0.9" opacity="0.85"/>
<polyline points="342.26,304.48 342.66,304.45 343.06,304.41 343.46,304.34 343.86,304.23 344.26,304.05 344.66,303.77 345.06,303.36 345.46,302.78 345.86,301.99 346.26,300.98 346.66,299.71 347.06,298.22 347.46,296.54 347.86,294.75 348.26,292.97 348.66,291.32 349.06,289.96 349.46,289.00 349.86,288.53 350.26,288.62 350.66,289.24 351.06,290.33 351.46,291.79 351.86,293.49 352.26,295.29 352.66,297.06 353.06,298.69 353.46,300.12 353.86,301.31 354.26,302.25 354.66,302.97 355.06,303.50 355.46,303.86 355.86,304.11 356.26,304.27 356.66,304.37 357.06,304.43 357.46,304.46" fill="none" stroke="#e04848" stroke-width="0.9" opacity="0.85"/>
<polyline points="348.76,304.48 349.16,304.47 349.56,304.44 349.96,304.38 350.36,304.30 350.76,304.17 351.16,303.96 351.56,303.66 351.96,303.23 352.36,302.65 352.76,301.90 353.16,300.97 353.56,299.87 353.96,298.63 354.36,297.31 354.76,296.00 355.16,294.78 355.56,293.78 355.96,293.07 356.36,292.72 356.76,292.79 357.16,293.24 357.56,294.05 357.96,295.13 358.36,296.38 358.76,297.71 359.16,299.01 359.56,300.21 359.96,301.27 360.36,302.15 360.76,302.84 361.16,303.37 361.56,303.76 361.96,304.03 362.36,304.21 362.76,304.33 363.16,304.40 363.56,304.45 363.96,304.47" fill="none" stroke="#4060d0" stroke-width="0.9" opacity="0.85"/>
<polyline points="355.76,304.48 356.16,304.47 356.56,304.44 356.96,304.38 357.36,304.30 357.76,304.17 358.16,303.96 358.56,303.66 358.96,303.23 359.36,302.65 359.76,301.90 360.16,300.97 360.56,299.87 360.96,298.63 361.36,297.31 361.76,296.00 362.16,294.78 362.56,293.78 362.96,293.07 363.36,292.72 363.76,292.79 364.16,293.24 364.56,294.05 364.96,295.13 365.36,296.38 365.76,297.71 366.16,299.01 366.56,300.21 366.96,301.27 367.36,302.15 367.76,302.84 368.16,303.37 368.56,303.76 368.96,304.03 369.36,304.21 369.76,304.33 370.16,304.40 370.56,304.45 370.96,304.47" fill="none" stroke="#3cb83c" stroke-width="0.9" opacity="0.85"/>
<polyline points="361.56,304.48 361.96,304.45 362.36,304.41 362.76,304.34 363.16,304.23 363.56,304.05 363.96,303.77 364.36,303.36 364.76,302.78 365.16,301.99 365.56,300.98 365.96,299.71 366.36,298.22 366.76,296.54 367.16,294.75 367.56,292.97 367.96,291.32 368.36,289.96 368.76,289.00 369.16,288.53 369.56,288.62 369.96,289.24 370.36,290.33 370.76,291.79 371.16,293.49 371.56,295.29 371.96,297.06 372.36,298.69 372.76,300.12 373.16,301.31 373.56,302.25 373.96,302.97 374.36,303.50 374.76,303.86 375.16,304.11 375.56,304.27 375.96,304.37 376.36,304.43 376.76,304.46" fill="none" stroke="#e04848" stroke-width="0.9" opacity="0.85"/>
<polyline points="368.26,304.48 368.66,304.46 369.06,304.43 369.46,304.38 369.86,304.29 370.26,304.14 370.66,303.92 371.06,303.60 371.46,303.14 371.86,302.53 372.26,301.72 372.66,300.73 373.06,299.55 373.46,298.23 373.86,296.82 374.26,295.42 374.66,294.12 375.06,293.05 375.46,292.29 375.86,291.93 376.26,291.99 376.66,292.48 377.06,293.34 377.46,294.49 377.86,295.83 378.26,297.25 378.66,298.64 379.06,299.92 379.46,301.05 379.86,301.99 380.26,302.73 380.66,303.30 381.06,303.71 381.46,304.00 381.86,304.19 382.26,304.32 382.66,304.40 383.06,304.44 383.46,304.47" fill="none" stroke="#4060d0" stroke-width="0.9" opacity="0.85"/>
<polyline points="375.46,304.48 375.86,304.45 376.26,304.41 376.66,304.34 377.06,304.23 377.46,304.05 377.86,303.77 378.26,303.36 378.66,302.78 379.06,301.99 379.46,300.98 379.86,299.71 380.26,298.22 380.66,296.54 381.06,294.75 381.46,292.97 381.86,291.32 382.26,289.96 382.66,289.00 383.06,288.53 383.46,288.62 383.86,289.24 384.26,290.33 384.66,291.79 385.06,293.49 385.46,295.29 385.86,297.06 386.26,298.69 386.66,300.12 387.06,301.31 387.46,302.25 387.86,302.97 388.26,303.50 388.66,303.86 389.06,304.11 389.46,304.27 389.86,304.37 390.26,304.43 390.66,304.46" fill="none" stroke="#e04848" stroke-width="0.9" opacity="0.85"/>
<polyline points="382.66,304.48 383.06,304.46 383.46,304.43 383.86,304.38 384.26,304.29 384.66,304.14 385.06,303.92 385.46,303.60 385.86,303.14 386.26,302.53 386.66,301.72 387.06,300.73 387.46,299.55 387.86,298.23 388.26,296.82 388.66,295.42 389.06,294.12 389.46,293.05 389.86,292.29 390.26,291.93 390.66,291.99 391.06,292.48 391.46,293.34 391.86,294.49 392.26,295.83 392.66,297.25 393.06,298.64 393.46,299.92 393.86,301.05 394.26,301.99 394.66,302.73 395.06,303.30 395.46,303.71 395.86,304.00 396.26,304.19 396.66,304.32 397.06,304.40 397.46,304.44 397.86,304.47" fill="none" stroke="#4060d0" stroke-width="0.9" opacity="0.85"/>
<polyline points="389.56,304.48 389.96,304.45 390.36,304.41 390.76,304.34 391.16,304.23 391.56,304.05 391.96,303.77 392.36,303.36 392.76,302.78 393.16,301.99 393.56,300.98 393.96,299.71 394.36,298.22 394.76,296.54 395.16,294.75 395.56,292.97 395.96,291.32 396.36,289.96 396.76,289.00 397.16,288.53 397.56,288.62 397.96,289.24 398.36,290.33 398.76,291.79 399.16,293.49 399.56,295.29 399.96,297.06 400.36,298.69 400.76,300.12 401.16,301.31 401.56,302.25 401.96,302.97 402.36,303.50 402.76,303.86 403.16,304.11 403.56,304.27 403.96,304.37 404.36,304.43 404.76,304.46" fill="none" stroke="#e04848" stroke-width="0.9" opacity="0.85"/>
<polyline points="396.46,304.48 396.86,304.46 397.26,304.43 397.66,304.38 398.06,304.29 398.46,304.15 398.86,303.94 399.26,303.62 399.66,303.18 400.06,302.57 400.46,301.79 400.86,300.82 401.26,299.67 401.66,298.38 402.06,297.00 402.46,295.63 402.86,294.37 403.26,293.32 403.66,292.58 404.06,292.23 404.46,292.29 404.86,292.77 405.26,293.61 405.66,294.73 406.06,296.04 406.46,297.42 406.86,298.78 407.26,300.03 407.66,301.13 408.06,302.05 408.46,302.77 408.86,303.33 409.26,303.73 409.66,304.01 410.06,304.20 410.46,304.32 410.86,304.40 411.26,304.44 411.66,304.47" fill="none" stroke="#4060d0" stroke-width="0.9" opacity="0.85"/>
<polyline points="403.06,304.48 403.46,304.45 403.86,304.41 404.26,304.34 404.66,304.23 405.06,304.05 405.46,303.77 405.86,303.36 406.26,302.78 406.66,301.99 407.06,300.98 407.46,299.71 407.86,298.22 408.26,296.54 408.66,294.75 409.06,292.97 409.46,291.32 409.86,289.96 410.26,289.00 410.66,288.53 411.06,288.62 411.46,289.24 411.86,290.33 412.26,291.79 412.66,293.49 413.06,295.29 413.46,297.06 413.86,298.69 414.26,300.12 414.66,301.31 415.06,302.25 415.46,302.97 415.86,303.50 416.26,303.86 416.66,304.11 417.06,304.27 417.46,304.37 417.86,304.43 418.26,304.46" fill="none" stroke="#e04848" stroke-width="0.9" opacity="0.85"/>
<polyline points="409.56,304.48 409.96,304.46 410.36,304.43 410.76,304.38 411.16,304.29 411.56,304.15 411.96,303.94 412.36,303.62 412.76,303.18 413.16,302.57 413.56,301.79 413.96,300.82 414.36,299.67 414.76,298.38 415.16,297.00 415.56,295.63 415.96,294.37 416.36,293.32 416.76,292.58 417.16,292.23 417.56,292.29 417.96,292.77 418.36,293.61 418.76,294.73 419.16,296.04 419.56,297.42 419.96,298.78 420.36,300.03 420.76,301.13 421.16,302.05 421.56,302.77 421.96,303.33 422.36,303.73 422.76,304.01 423.16,304.20 423.56,304.32 423.96,304.40 424.36,304.44 424.76,304.47" fill="none" stroke="#4060d0" stroke-width="0.9" opacity="0.85"/>
<polyline points="416.46,304.48 416.86,304.45 417.26,304.42 417.66,304.35 418.06,304.24 418.46,304.07 418.86,303.80 419.26,303.41 419.66,302.85 420.06,302.10 420.46,301.13 420.86,299.92 421.26,298.49 421.66,296.89 422.06,295.18 422.46,293.47 422.86,291.90 423.26,290.59 423.66,289.68 424.06,289.23 424.46,289.31 424.86,289.90 425.26,290.95 425.66,292.35 426.06,293.98 426.46,295.69 426.86,297.38 427.26,298.94 427.66,300.31 428.06,301.45 428.46,302.35 428.86,303.04 429.26,303.54 429.66,303.89 430.06,304.13 430.46,304.28 430.86,304.37 431.26,304.43 431.66,304.46" fill="none" stroke="#e04848" stroke-width="0.9" opacity="0.85"/>
<polyline points="422.66,304.47 423.06,304.44 423.46,304.39 423.86,304.30 424.26,304.15 424.66,303.92 425.06,303.56 425.46,303.03 425.86,302.28 426.26,301.27 426.66,299.96 427.06,298.34 427.46,296.41 427.86,294.25 428.26,291.95 428.66,289.65 429.06,287.54 429.46,285.78 429.86,284.54 430.26,283.94 430.66,284.05 431.06,284.85 431.46,286.26 431.86,288.14 432.26,290.33 432.66,292.64 433.06,294.92 433.46,297.02 433.86,298.86 434.26,300.39 434.66,301.61 435.06,302.53 435.46,303.21 435.86,303.68 436.26,304.00 436.66,304.20 437.06,304.33 437.46,304.41 437.86,304.45" fill="none" stroke="#1a1a1a" stroke-width="0.9" opacity="0.85"/>
<polyline points="429.26,304.48 429.66,304.47 430.06,304.44 430.46,304.40 430.86,304.33 431.26,304.21 431.66,304.03 432.06,303.76 432.46,303.39 432.86,302.89 433.26,302.23 433.66,301.42 434.06,300.46 434.46,299.37 434.86,298.22 435.26,297.08 435.66,296.02 436.06,295.14 436.46,294.52 436.86,294.22 437.26,294.28 437.66,294.67 438.06,295.38 438.46,296.32 438.86,297.42 439.26,298.57 439.66,299.71 440.06,300.76 440.46,301.68 440.86,302.44 441.26,303.05 441.66,303.52 442.06,303.85 442.46,304.09 442.86,304.25 443.26,304.35 443.66,304.42 444.06,304.45 444.46,304.47" fill="none" stroke="#4060d0" stroke-width="0.9" opacity="0.85"/>
<polyline points="435.76,304.48 436.16,304.46 436.56,304.42 436.96,304.35 437.36,304.25 437.76,304.08 438.16,303.82 438.56,303.44 438.96,302.90 439.36,302.17 439.76,301.22 440.16,300.04 440.56,298.65 440.96,297.08 441.36,295.42 441.76,293.76 442.16,292.23 442.56,290.96 442.96,290.06 443.36,289.63 443.76,289.71 444.16,290.29 444.56,291.31 444.96,292.67 445.36,294.25 445.76,295.92 446.16,297.57 446.56,299.09 446.96,300.42 447.36,301.53 447.76,302.41 448.16,303.08 448.56,303.57 448.96,303.91 449.36,304.14 449.76,304.29 450.16,304.38 450.56,304.43 450.96,304.46" fill="none" stroke="#4060d0" stroke-width="0.9" opacity="0.85"/>
<line x1="301" y1="304.5" x2="446" y2="304.5" stroke="#c04040" stroke-width="0.7" opacity="0.6"/>
<line x1="301" y1="304.8" x2="446" y2="304.8" stroke="#222" stroke-width="0.6" opacity="0.6"/>
<line x1="356.5" y1="268" x2="356.5" y2="304" stroke="#ccc" stroke-width="0.5"/>
<polyline points="48.10,321.69 48.63,321.69 49.15,321.69 49.68,321.70 50.20,321.70 50.73,321.70 51.26,321.70 51.78,321.70 52.31,321.70 52.83,321.70 53.36,321.70 53.89,321.71 54.41,321.71 54.94,321.71 55.46,321.71 55.99,321.71 56.52,321.71 57.04,321.72 57.57,321.72 58.09,321.72 58.62,321.72 59.15,321.73 59.67,321.73 60.20,321.73 60.72,321.74 61.25,321.74 61.78,321.74 62.30,321.75 62.83,321.75 63.35,321.76 63.88,321.76 64.41,321.76 64.93,321.77 65.46,321.78 65.98,321.78 66.51,321.79 67.04,321.79 67.56,321.80 68.09,321.81 68.61,321.82 69.14,321.82 69.67,321.83 70.19,321.84 70.72,321.85 71.24,321.86 71.77,321.87 72.30,321.88 72.82,321.90 73.35,321.91 73.87,321.92 74.40,321.94 74.93,321.95 75.45,321.97 75.98,321.99 76.50,322.00 77.03,322.02 77.56,322.04 78.08,322.06 78.61,322.09 79.13,322.11 79.66,322.14 80.19,322.16 80.71,322.19 81.24,322.22 81.76,322.26 82.29,322.29 82.82,322.32 83.34,322.36 83.87,322.40 84.39,322.45 84.92,322.49 85.45,322.54 85.97,322.59 86.50,322.64 87.02,322.70 87.55,322.76 88.08,322.82 88.60,322.89 89.13,322.96 89.65,323.03 90.18,323.11 90.71,323.20 91.23,323.29 91.76,323.38 92.28,323.48 92.81,323.58 93.34,323.69 93.86,323.81 94.39,323.93 94.91,324.06 95.44,324.20 95.97,324.34 96.49,324.50 97.02,324.66 97.54,324.83 98.07,325.01 98.60,325.20 99.12,325.39 99.65,325.60 100.17,325.83 100.70,326.06 101.23,326.31 101.75,326.56 102.28,326.84 102.80,327.12 103.33,327.42 103.86,327.74 104.38,328.07 104.91,328.42 105.43,328.79 105.96,329.18 106.49,329.58 107.01,330.00 107.54,330.45 108.06,330.91 108.59,331.40 109.12,331.91 109.64,332.44 110.17,332.99 110.69,333.57 111.22,334.17 111.75,334.80 112.27,335.46 112.80,336.14 113.32,336.84 113.85,337.58 114.38,338.34 114.90,339.13 115.43,339.95 115.95,340.79 116.48,341.66 117.01,342.56 117.53,343.49 118.06,344.44 118.58,345.42 119.11,346.43 119.64,347.46 120.16,348.52 120.69,349.60 121.21,350.70 121.74,351.82 122.27,352.96 122.79,354.13 123.32,355.30 123.84,356.50 124.37,357.71 124.90,358.93 125.42,360.16 125.95,361.40 126.47,362.64 127.00,363.89 127.53,365.14 128.05,366.39 128.58,367.64 129.10,368.88 129.63,370.12 130.16,371.35 130.68,372.57 131.21,373.78 131.73,374.97 132.26,376.15 132.79,377.31 133.31,378.46 133.84,379.58 134.36,380.68 134.89,381.76 135.42,382.82 135.94,383.85 136.47,384.86 136.99,385.84 137.52,386.79 138.05,387.72 138.57,388.62 139.10,389.49 139.62,390.33 140.15,391.15 140.68,391.94 141.20,392.70 141.73,393.43 142.25,394.14 142.78,394.82 143.31,395.48 143.83,396.11 144.36,396.71 144.88,397.29 145.41,397.84 145.94,398.37 146.46,398.88 146.99,399.37 147.51,399.83 148.04,400.27 148.57,400.70 149.09,401.10 149.62,401.49 150.14,401.85 150.67,402.20 151.20,402.54 151.72,402.85 152.25,403.15 152.77,403.44 153.30,403.71 153.83,403.97 154.35,404.22 154.88,404.45 155.40,404.67 155.93,404.88 156.46,405.08 156.98,405.27 157.51,405.45 158.03,405.62 158.56,405.78 159.09,405.94 159.61,406.08 160.14,406.22 160.66,406.35 161.19,406.47 161.72,406.59 162.24,406.70 162.77,406.80 163.29,406.90 163.82,406.99 164.35,407.08 164.87,407.16 165.40,407.24 165.92,407.32 166.45,407.39 166.98,407.46 167.50,407.52 168.03,407.58 168.55,407.64 169.08,407.69 169.61,407.74 170.13,407.79 170.66,407.83 171.18,407.87 171.71,407.91 172.24,407.95 172.76,407.99 173.29,408.02 173.81,408.05 174.34,408.09 174.87,408.11 175.39,408.14 175.92,408.17 176.44,408.19 176.97,408.21 177.50,408.23 178.02,408.26 178.55,408.27 179.07,408.29 179.60,408.31" fill="none" stroke="#f09030" stroke-width="1.3"/>
<polyline points="48.10,323.46 48.63,323.47 49.15,323.47 49.68,323.47 50.20,323.47 50.73,323.47 51.26,323.48 51.78,323.48 52.31,323.48 52.83,323.48 53.36,323.49 53.89,323.49 54.41,323.49 54.94,323.49 55.46,323.50 55.99,323.50 56.52,323.51 57.04,323.51 57.57,323.51 58.09,323.52 58.62,323.52 59.15,323.53 59.67,323.53 60.20,323.54 60.72,323.55 61.25,323.55 61.78,323.56 62.30,323.57 62.83,323.57 63.35,323.58 63.88,323.59 64.41,323.60 64.93,323.61 65.46,323.62 65.98,323.63 66.51,323.64 67.04,323.65 67.56,323.66 68.09,323.68 68.61,323.69 69.14,323.70 69.67,323.72 70.19,323.73 70.72,323.75 71.24,323.77 71.77,323.79 72.30,323.81 72.82,323.83 73.35,323.85 73.87,323.88 74.40,323.90 74.93,323.93 75.45,323.96 75.98,323.99 76.50,324.02 77.03,324.05 77.56,324.08 78.08,324.12 78.61,324.16 79.13,324.20 79.66,324.24 80.19,324.29 80.71,324.34 81.24,324.39 81.76,324.44 82.29,324.50 82.82,324.56 83.34,324.62 83.87,324.69 84.39,324.76 84.92,324.83 85.45,324.91 85.97,324.99 86.50,325.08 87.02,325.17 87.55,325.26 88.08,325.37 88.60,325.47 89.13,325.59 89.65,325.71 90.18,325.83 90.71,325.96 91.23,326.10 91.76,326.25 92.28,326.40 92.81,326.56 93.34,326.74 93.86,326.92 94.39,327.11 94.91,327.30 95.44,327.51 95.97,327.73 96.49,327.96 97.02,328.21 97.54,328.46 98.07,328.73 98.60,329.01 99.12,329.31 99.65,329.62 100.17,329.94 100.70,330.28 101.23,330.64 101.75,331.01 102.28,331.40 102.80,331.81 103.33,332.23 103.86,332.68 104.38,333.14 104.91,333.63 105.43,334.13 105.96,334.66 106.49,335.21 107.01,335.78 107.54,336.38 108.06,336.99 108.59,337.64 109.12,338.30 109.64,338.99 110.17,339.70 110.69,340.44 111.22,341.21 111.75,342.00 112.27,342.81 112.80,343.65 113.32,344.51 113.85,345.40 114.38,346.31 114.90,347.24 115.43,348.20 115.95,349.18 116.48,350.18 117.01,351.20 117.53,352.24 118.06,353.30 118.58,354.38 119.11,355.47 119.64,356.58 120.16,357.70 120.69,358.84 121.21,359.98 121.74,361.13 122.27,362.29 122.79,363.46 123.32,364.63 123.84,365.80 124.37,366.97 124.90,368.14 125.42,369.30 125.95,370.46 126.47,371.61 127.00,372.76 127.53,373.89 128.05,375.01 128.58,376.12 129.10,377.21 129.63,378.29 130.16,379.35 130.68,380.39 131.21,381.41 131.73,382.41 132.26,383.39 132.79,384.35 133.31,385.29 133.84,386.20 134.36,387.08 134.89,387.95 135.42,388.79 135.94,389.60 136.47,390.39 136.99,391.15 137.52,391.89 138.05,392.60 138.57,393.29 139.10,393.96 139.62,394.60 140.15,395.22 140.68,395.81 141.20,396.38 141.73,396.93 142.25,397.46 142.78,397.97 143.31,398.45 143.83,398.92 144.36,399.36 144.88,399.79 145.41,400.20 145.94,400.59 146.46,400.96 146.99,401.32 147.51,401.65 148.04,401.98 148.57,402.29 149.09,402.58 149.62,402.86 150.14,403.13 150.67,403.39 151.20,403.63 151.72,403.86 152.25,404.08 152.77,404.29 153.30,404.49 153.83,404.68 154.35,404.86 154.88,405.03 155.40,405.19 155.93,405.35 156.46,405.49 156.98,405.63 157.51,405.76 158.03,405.89 158.56,406.01 159.09,406.12 159.61,406.23 160.14,406.33 160.66,406.43 161.19,406.52 161.72,406.61 162.24,406.69 162.77,406.77 163.29,406.84 163.82,406.91 164.35,406.98 164.87,407.04 165.40,407.10 165.92,407.15 166.45,407.21 166.98,407.26 167.50,407.31 168.03,407.35 168.55,407.40 169.08,407.44 169.61,407.47 170.13,407.51 170.66,407.55 171.18,407.58 171.71,407.61 172.24,407.64 172.76,407.67 173.29,407.69 173.81,407.72 174.34,407.74 174.87,407.76 175.39,407.79 175.92,407.81 176.44,407.83 176.97,407.84 177.50,407.86 178.02,407.88 178.55,407.89 179.07,407.91 179.60,407.92" fill="none" stroke="#9020c8" stroke-width="1.3"/>
<polyline points="48.10,324.39 48.63,324.40 49.15,324.40 49.68,324.41 50.20,324.41 50.73,324.42 51.26,324.42 51.78,324.43 52.31,324.44 52.83,324.44 53.36,324.45 53.89,324.46 54.41,324.46 54.94,324.47 55.46,324.48 55.99,324.49 56.52,324.50 57.04,324.51 57.57,324.52 58.09,324.53 58.62,324.54 59.15,324.55 59.67,324.56 60.20,324.57 60.72,324.59 61.25,324.60 61.78,324.62 62.30,324.63 62.83,324.65 63.35,324.67 63.88,324.69 64.41,324.71 64.93,324.73 65.46,324.75 65.98,324.77 66.51,324.79 67.04,324.82 67.56,324.84 68.09,324.87 68.61,324.90 69.14,324.93 69.67,324.96 70.19,325.00 70.72,325.03 71.24,325.07 71.77,325.11 72.30,325.15 72.82,325.19 73.35,325.24 73.87,325.28 74.40,325.33 74.93,325.39 75.45,325.44 75.98,325.50 76.50,325.56 77.03,325.62 77.56,325.69 78.08,325.76 78.61,325.84 79.13,325.91 79.66,326.00 80.19,326.08 80.71,326.17 81.24,326.26 81.76,326.36 82.29,326.47 82.82,326.58 83.34,326.69 83.87,326.81 84.39,326.94 84.92,327.07 85.45,327.21 85.97,327.35 86.50,327.50 87.02,327.66 87.55,327.83 88.08,328.00 88.60,328.18 89.13,328.38 89.65,328.58 90.18,328.78 90.71,329.00 91.23,329.23 91.76,329.47 92.28,329.72 92.81,329.98 93.34,330.26 93.86,330.54 94.39,330.84 94.91,331.15 95.44,331.47 95.97,331.81 96.49,332.16 97.02,332.53 97.54,332.91 98.07,333.31 98.60,333.72 99.12,334.15 99.65,334.60 100.17,335.06 100.70,335.54 101.23,336.04 101.75,336.56 102.28,337.09 102.80,337.65 103.33,338.22 103.86,338.81 104.38,339.42 104.91,340.06 105.43,340.71 105.96,341.38 106.49,342.07 107.01,342.78 107.54,343.52 108.06,344.27 108.59,345.04 109.12,345.83 109.64,346.64 110.17,347.46 110.69,348.31 111.22,349.17 111.75,350.05 112.27,350.95 112.80,351.86 113.32,352.79 113.85,353.73 114.38,354.68 114.90,355.65 115.43,356.63 115.95,357.61 116.48,358.61 117.01,359.61 117.53,360.62 118.06,361.64 118.58,362.66 119.11,363.68 119.64,364.70 120.16,365.72 120.69,366.74 121.21,367.76 121.74,368.78 122.27,369.79 122.79,370.79 123.32,371.79 123.84,372.77 124.37,373.75 124.90,374.72 125.42,375.67 125.95,376.61 126.47,377.54 127.00,378.45 127.53,379.35 128.05,380.23 128.58,381.09 129.10,381.94 129.63,382.76 130.16,383.57 130.68,384.36 131.21,385.13 131.73,385.88 132.26,386.62 132.79,387.33 133.31,388.02 133.84,388.69 134.36,389.34 134.89,389.98 135.42,390.59 135.94,391.18 136.47,391.75 136.99,392.31 137.52,392.84 138.05,393.36 138.57,393.86 139.10,394.34 139.62,394.80 140.15,395.25 140.68,395.68 141.20,396.09 141.73,396.49 142.25,396.87 142.78,397.24 143.31,397.59 143.83,397.93 144.36,398.25 144.88,398.56 145.41,398.86 145.94,399.14 146.46,399.42 146.99,399.68 147.51,399.93 148.04,400.17 148.57,400.40 149.09,400.62 149.62,400.82 150.14,401.02 150.67,401.22 151.20,401.40 151.72,401.57 152.25,401.74 152.77,401.90 153.30,402.05 153.83,402.19 154.35,402.33 154.88,402.46 155.40,402.59 155.93,402.71 156.46,402.82 156.98,402.93 157.51,403.04 158.03,403.14 158.56,403.23 159.09,403.32 159.61,403.40 160.14,403.49 160.66,403.56 161.19,403.64 161.72,403.71 162.24,403.78 162.77,403.84 163.29,403.90 163.82,403.96 164.35,404.01 164.87,404.07 165.40,404.12 165.92,404.16 166.45,404.21 166.98,404.25 167.50,404.29 168.03,404.33 168.55,404.37 169.08,404.40 169.61,404.44 170.13,404.47 170.66,404.50 171.18,404.53 171.71,404.56 172.24,404.58 172.76,404.61 173.29,404.63 173.81,404.65 174.34,404.67 174.87,404.69 175.39,404.71 175.92,404.73 176.44,404.75 176.97,404.77 177.50,404.78 178.02,404.80 178.55,404.81 179.07,404.83 179.60,404.84" fill="none" stroke="#e04858" stroke-width="1.3"/>
<polyline points="48.10,320.54 48.63,320.54 49.15,320.54 49.68,320.54 50.20,320.54 50.73,320.54 51.26,320.54 51.78,320.54 52.31,320.54 52.83,320.54 53.36,320.54 53.89,320.54 54.41,320.54 54.94,320.54 55.46,320.54 55.99,320.54 56.52,320.54 57.04,320.54 57.57,320.54 58.09,320.54 58.62,320.54 59.15,320.54 59.67,320.54 60.20,320.54 60.72,320.54 61.25,320.54 61.78,320.54 62.30,320.54 62.83,320.54 63.35,320.54 63.88,320.54 64.41,320.54 64.93,320.54 65.46,320.54 65.98,320.54 66.51,320.54 67.04,320.54 67.56,320.54 68.09,320.54 68.61,320.54 69.14,320.54 69.67,320.54 70.19,320.54 70.72,320.54 71.24,320.54 71.77,320.54 72.30,320.54 72.82,320.54 73.35,320.54 73.87,320.54 74.40,320.54 74.93,320.54 75.45,320.54 75.98,320.54 76.50,320.54 77.03,320.54 77.56,320.54 78.08,320.54 78.61,320.54 79.13,320.54 79.66,320.54 80.19,320.54 80.71,320.54 81.24,320.54 81.76,320.54 82.29,320.54 82.82,320.54 83.34,320.54 83.87,320.54 84.39,320.54 84.92,320.54 85.45,320.54 85.97,320.54 86.50,320.54 87.02,320.54 87.55,320.54 88.08,320.54 88.60,320.54 89.13,320.54 89.65,320.54 90.18,320.54 90.71,320.54 91.23,320.54 91.76,320.54 92.28,320.54 92.81,320.54 93.34,320.54 93.86,320.54 94.39,320.54 94.91,320.54 95.44,320.54 95.97,320.54 96.49,320.54 97.02,320.54 97.54,320.54 98.07,320.54 98.60,320.55 99.12,320.55 99.65,320.55 100.17,320.55 100.70,320.55 101.23,320.55 101.75,320.55 102.28,320.55 102.80,320.55 103.33,320.55 103.86,320.55 104.38,320.55 104.91,320.56 105.43,320.56 105.96,320.56 106.49,320.56 107.01,320.56 107.54,320.56 108.06,320.56 108.59,320.57 109.12,320.57 109.64,320.57 110.17,320.57 110.69,320.58 111.22,320.58 111.75,320.58 112.27,320.58 112.80,320.59 113.32,320.59 113.85,320.59 114.38,320.60 114.90,320.60 115.43,320.61 115.95,320.61 116.48,320.62 117.01,320.62 117.53,320.63 118.06,320.63 118.58,320.64 119.11,320.64 119.64,320.65 120.16,320.66 120.69,320.67 121.21,320.68 121.74,320.69 122.27,320.70 122.79,320.71 123.32,320.72 123.84,320.73 124.37,320.74 124.90,320.76 125.42,320.77 125.95,320.79 126.47,320.80 127.00,320.82 127.53,320.84 128.05,320.86 128.58,320.88 129.10,320.90 129.63,320.93 130.16,320.96 130.68,320.98 131.21,321.01 131.73,321.04 132.26,321.08 132.79,321.11 133.31,321.15 133.84,321.19 134.36,321.24 134.89,321.28 135.42,321.33 135.94,321.38 136.47,321.44 136.99,321.50 137.52,321.56 138.05,321.63 138.57,321.70 139.10,321.78 139.62,321.86 140.15,321.95 140.68,322.04 141.20,322.14 141.73,322.25 142.25,322.36 142.78,322.48 143.31,322.61 143.83,322.75 144.36,322.89 144.88,323.05 145.41,323.21 145.94,323.38 146.46,323.57 146.99,323.77 147.51,323.98 148.04,324.20 148.57,324.44 149.09,324.69 149.62,324.96 150.14,325.24 150.67,325.55 151.20,325.87 151.72,326.21 152.25,326.57 152.77,326.96 153.30,327.37 153.83,327.80 154.35,328.26 154.88,328.74 155.40,329.26 155.93,329.80 156.46,330.38 156.98,330.99 157.51,331.63 158.03,332.31 158.56,333.03 159.09,333.79 159.61,334.58 160.14,335.43 160.66,336.31 161.19,337.24 161.72,338.22 162.24,339.25 162.77,340.33 163.29,341.47 163.82,342.65 164.35,343.89 164.87,345.19 165.40,346.54 165.92,347.95 166.45,349.42 166.98,350.95 167.50,352.54 168.03,354.19 168.55,355.90 169.08,357.66 169.61,359.48 170.13,361.36 170.66,363.30 171.18,365.28 171.71,367.32 172.24,369.41 172.76,371.55 173.29,373.72 173.81,375.94 174.34,378.20 174.87,380.48 175.39,382.80 175.92,385.14 176.44,387.50 176.97,389.87 177.50,392.25 178.02,394.64 178.55,397.03 179.07,399.41 179.60,401.78" fill="none" stroke="#30b030" stroke-width="1.3"/>
<polyline points="48.10,321.54 48.63,321.54 49.15,321.54 49.68,321.54 50.20,321.54 50.73,321.54 51.26,321.54 51.78,321.54 52.31,321.54 52.83,321.54 53.36,321.54 53.89,321.54 54.41,321.54 54.94,321.54 55.46,321.54 55.99,321.54 56.52,321.54 57.04,321.54 57.57,321.54 58.09,321.54 58.62,321.54 59.15,321.54 59.67,321.54 60.20,321.54 60.72,321.54 61.25,321.54 61.78,321.54 62.30,321.54 62.83,321.54 63.35,321.54 63.88,321.54 64.41,321.54 64.93,321.54 65.46,321.54 65.98,321.54 66.51,321.54 67.04,321.54 67.56,321.54 68.09,321.54 68.61,321.54 69.14,321.54 69.67,321.54 70.19,321.54 70.72,321.54 71.24,321.54 71.77,321.54 72.30,321.54 72.82,321.54 73.35,321.54 73.87,321.54 74.40,321.54 74.93,321.54 75.45,321.54 75.98,321.54 76.50,321.54 77.03,321.54 77.56,321.54 78.08,321.54 78.61,321.54 79.13,321.54 79.66,321.54 80.19,321.54 80.71,321.54 81.24,321.54 81.76,321.54 82.29,321.54 82.82,321.54 83.34,321.54 83.87,321.54 84.39,321.54 84.92,321.54 85.45,321.54 85.97,321.54 86.50,321.54 87.02,321.54 87.55,321.54 88.08,321.54 88.60,321.54 89.13,321.54 89.65,321.54 90.18,321.54 90.71,321.54 91.23,321.54 91.76,321.54 92.28,321.54 92.81,321.54 93.34,321.54 93.86,321.54 94.39,321.54 94.91,321.54 95.44,321.54 95.97,321.54 96.49,321.54 97.02,321.54 97.54,321.55 98.07,321.55 98.60,321.55 99.12,321.55 99.65,321.55 100.17,321.55 100.70,321.55 101.23,321.55 101.75,321.55 102.28,321.55 102.80,321.55 103.33,321.55 103.86,321.55 104.38,321.56 104.91,321.56 105.43,321.56 105.96,321.56 106.49,321.56 107.01,321.56 107.54,321.56 108.06,321.57 108.59,321.57 109.12,321.57 109.64,321.57 110.17,321.58 110.69,321.58 111.22,321.58 111.75,321.58 112.27,321.59 112.80,321.59 113.32,321.59 113.85,321.60 114.38,321.60 114.90,321.61 115.43,321.61 115.95,321.62 116.48,321.62 117.01,321.63 117.53,321.63 118.06,321.64 118.58,321.65 119.11,321.66 119.64,321.66 120.16,321.67 120.69,321.68 121.21,321.69 121.74,321.70 122.27,321.71 122.79,321.73 123.32,321.74 123.84,321.75 124.37,321.77 124.90,321.78 125.42,321.80 125.95,321.82 126.47,321.84 127.00,321.86 127.53,321.88 128.05,321.90 128.58,321.93 129.10,321.96 129.63,321.99 130.16,322.02 130.68,322.05 131.21,322.08 131.73,322.12 132.26,322.16 132.79,322.20 133.31,322.25 133.84,322.30 134.36,322.35 134.89,322.41 135.42,322.47 135.94,322.53 136.47,322.60 136.99,322.67 137.52,322.75 138.05,322.83 138.57,322.92 139.10,323.01 139.62,323.11 140.15,323.22 140.68,323.33 141.20,323.46 141.73,323.59 142.25,323.72 142.78,323.87 143.31,324.03 143.83,324.20 144.36,324.38 144.88,324.57 145.41,324.77 145.94,324.99 146.46,325.22 146.99,325.46 147.51,325.72 148.04,326.00 148.57,326.30 149.09,326.61 149.62,326.95 150.14,327.30 150.67,327.68 151.20,328.08 151.72,328.51 152.25,328.96 152.77,329.44 153.30,329.95 153.83,330.48 154.35,331.05 154.88,331.66 155.40,332.29 155.93,332.97 156.46,333.68 156.98,334.43 157.51,335.22 158.03,336.05 158.56,336.93 159.09,337.85 159.61,338.82 160.14,339.83 160.66,340.90 161.19,342.01 161.72,343.18 162.24,344.40 162.77,345.67 163.29,346.99 163.82,348.36 164.35,349.79 164.87,351.28 165.40,352.81 165.92,354.40 166.45,356.03 166.98,357.72 167.50,359.46 168.03,361.24 168.55,363.06 169.08,364.92 169.61,366.83 170.13,368.76 170.66,370.73 171.18,372.73 171.71,374.75 172.24,376.79 172.76,378.84 173.29,380.91 173.81,382.98 174.34,385.06 174.87,387.13 175.39,389.20 175.92,391.25 176.44,393.28 176.97,395.30 177.50,397.29 178.02,399.26 178.55,401.19 179.07,403.08 179.60,404.94" fill="none" stroke="#1030c0" stroke-width="1.3"/>
<path d="M52.93 319.92 L52.93 323.43 M51.33 319.92 L54.53 319.92 M51.33 323.43 L54.53 323.43" stroke="#f0902a" stroke-width="0.9" fill="none"/>
<path d="M52.93 319.15 L55.23 321.68 L52.93 324.21 L50.63 321.68 Z" fill="#f0902a"/>
<path d="M68.76 319.04 L68.76 322.56 M67.16 319.04 L70.36 319.04 M67.16 322.56 L70.36 322.56" stroke="#f0902a" stroke-width="0.9" fill="none"/>
<path d="M68.76 318.27 L71.06 320.80 L68.76 323.33 L66.46 320.80 Z" fill="#f0902a"/>
<path d="M84.59 322.56 L84.59 327.82 M82.99 322.56 L86.19 322.56 M82.99 327.82 L86.19 327.82" stroke="#f0902a" stroke-width="0.9" fill="none"/>
<path d="M84.59 322.66 L86.89 325.19 L84.59 327.72 L82.29 325.19 Z" fill="#f0902a"/>
<path d="M100.43 326.95 L100.43 330.46 M98.83 326.95 L102.03 326.95 M98.83 330.46 L102.03 330.46" stroke="#f0902a" stroke-width="0.9" fill="none"/>
<path d="M100.43 326.17 L102.73 328.70 L100.43 331.23 L98.13 328.70 Z" fill="#f0902a"/>
<path d="M116.26 341.87 L116.26 345.38 M114.66 341.87 L117.86 341.87 M114.66 345.38 L117.86 345.38" stroke="#f0902a" stroke-width="0.9" fill="none"/>
<path d="M116.26 341.10 L118.56 343.63 L116.26 346.16 L113.96 343.63 Z" fill="#f0902a"/>
<path d="M132.10 368.21 L132.10 373.48 M130.50 368.21 L133.70 368.21 M130.50 373.48 L133.70 373.48" stroke="#f0902a" stroke-width="0.9" fill="none"/>
<path d="M132.10 368.32 L134.40 370.85 L132.10 373.38 L129.80 370.85 Z" fill="#f0902a"/>
<path d="M147.93 399.82 L147.93 403.33 M146.33 399.82 L149.53 399.82 M146.33 403.33 L149.53 403.33" stroke="#f0902a" stroke-width="0.9" fill="none"/>
<path d="M147.93 399.05 L150.23 401.58 L147.93 404.11 L145.63 401.58 Z" fill="#f0902a"/>
<path d="M163.77 408.60 L163.77 410.36 M162.17 408.60 L165.37 408.60 M162.17 410.36 L165.37 410.36" stroke="#f0902a" stroke-width="0.9" fill="none"/>
<path d="M163.77 406.95 L166.07 409.48 L163.77 412.01 L161.47 409.48 Z" fill="#f0902a"/>
<path d="M179.60 407.72 L179.60 409.48 M178.00 407.72 L181.20 407.72 M178.00 409.48 L181.20 409.48" stroke="#f0902a" stroke-width="0.9" fill="none"/>
<path d="M179.60 406.07 L181.90 408.60 L179.60 411.13 L177.30 408.60 Z" fill="#f0902a"/>
<path d="M52.93 318.17 L52.93 323.43 M51.33 318.17 L54.53 318.17 M51.33 323.43 L54.53 323.43" stroke="#9a1ed0" stroke-width="0.9" fill="none"/>
<path d="M52.93 323.33 L55.46 318.73 L50.40 318.73 Z" fill="#9a1ed0"/>
<path d="M68.76 320.80 L68.76 326.07 M67.16 320.80 L70.36 320.80 M67.16 326.07 L70.36 326.07" stroke="#9a1ed0" stroke-width="0.9" fill="none"/>
<path d="M68.76 325.96 L71.29 321.36 L66.23 321.36 Z" fill="#9a1ed0"/>
<path d="M84.59 322.56 L84.59 326.07 M82.99 322.56 L86.19 322.56 M82.99 326.07 L86.19 326.07" stroke="#9a1ed0" stroke-width="0.9" fill="none"/>
<path d="M84.59 326.84 L87.12 322.24 L82.06 322.24 Z" fill="#9a1ed0"/>
<path d="M100.43 329.58 L100.43 336.60 M98.83 329.58 L102.03 329.58 M98.83 336.60 L102.03 336.60" stroke="#9a1ed0" stroke-width="0.9" fill="none"/>
<path d="M100.43 335.62 L102.96 331.02 L97.90 331.02 Z" fill="#9a1ed0"/>
<path d="M116.26 348.90 L116.26 357.68 M114.66 348.90 L117.86 348.90 M114.66 357.68 L117.86 357.68" stroke="#9a1ed0" stroke-width="0.9" fill="none"/>
<path d="M116.26 355.82 L118.79 351.22 L113.73 351.22 Z" fill="#9a1ed0"/>
<path d="M132.10 373.48 L132.10 378.75 M130.50 373.48 L133.70 373.48 M130.50 378.75 L133.70 378.75" stroke="#9a1ed0" stroke-width="0.9" fill="none"/>
<path d="M132.10 378.64 L134.63 374.04 L129.57 374.04 Z" fill="#9a1ed0"/>
<path d="M147.93 398.06 L147.93 401.58 M146.33 398.06 L149.53 398.06 M146.33 401.58 L149.53 401.58" stroke="#9a1ed0" stroke-width="0.9" fill="none"/>
<path d="M147.93 402.35 L150.46 397.75 L145.40 397.75 Z" fill="#9a1ed0"/>
<path d="M163.77 405.97 L163.77 407.72 M162.17 405.97 L165.37 405.97 M162.17 407.72 L165.37 407.72" stroke="#9a1ed0" stroke-width="0.9" fill="none"/>
<path d="M163.77 409.37 L166.30 404.77 L161.24 404.77 Z" fill="#9a1ed0"/>
<path d="M179.60 407.72 L179.60 409.48 M178.00 407.72 L181.20 407.72 M178.00 409.48 L181.20 409.48" stroke="#9a1ed0" stroke-width="0.9" fill="none"/>
<path d="M179.60 411.13 L182.13 406.53 L177.07 406.53 Z" fill="#9a1ed0"/>
<path d="M52.93 317.29 L52.93 322.56 M51.33 317.29 L54.53 317.29 M51.33 322.56 L54.53 322.56" stroke="#e8405a" stroke-width="0.9" fill="none"/>
<path d="M52.93 317.39 L55.46 321.99 L50.40 321.99 Z" fill="#e8405a"/>
<path d="M68.76 319.04 L68.76 322.56 M67.16 319.04 L70.36 319.04 M67.16 322.56 L70.36 322.56" stroke="#e8405a" stroke-width="0.9" fill="none"/>
<path d="M68.76 318.27 L71.29 322.87 L66.23 322.87 Z" fill="#e8405a"/>
<path d="M84.59 321.68 L84.59 325.19 M82.99 321.68 L86.19 321.68 M82.99 325.19 L86.19 325.19" stroke="#e8405a" stroke-width="0.9" fill="none"/>
<path d="M84.59 320.90 L87.12 325.50 L82.06 325.50 Z" fill="#e8405a"/>
<path d="M100.43 326.95 L100.43 332.21 M98.83 326.95 L102.03 326.95 M98.83 332.21 L102.03 332.21" stroke="#e8405a" stroke-width="0.9" fill="none"/>
<path d="M100.43 327.05 L102.96 331.65 L97.90 331.65 Z" fill="#e8405a"/>
<path d="M116.26 362.07 L116.26 367.33 M114.66 362.07 L117.86 362.07 M114.66 367.33 L117.86 367.33" stroke="#e8405a" stroke-width="0.9" fill="none"/>
<path d="M116.26 362.17 L118.79 366.77 L113.73 366.77 Z" fill="#e8405a"/>
<path d="M132.10 381.38 L132.10 384.89 M130.50 381.38 L133.70 381.38 M130.50 384.89 L133.70 384.89" stroke="#e8405a" stroke-width="0.9" fill="none"/>
<path d="M132.10 380.61 L134.63 385.21 L129.57 385.21 Z" fill="#e8405a"/>
<path d="M147.93 398.06 L147.93 401.58 M146.33 398.06 L149.53 398.06 M146.33 401.58 L149.53 401.58" stroke="#e8405a" stroke-width="0.9" fill="none"/>
<path d="M147.93 397.29 L150.46 401.89 L145.40 401.89 Z" fill="#e8405a"/>
<path d="M163.77 398.94 L163.77 402.45 M162.17 398.94 L165.37 398.94 M162.17 402.45 L165.37 402.45" stroke="#e8405a" stroke-width="0.9" fill="none"/>
<path d="M163.77 398.17 L166.30 402.77 L161.24 402.77 Z" fill="#e8405a"/>
<path d="M179.60 406.84 L179.60 408.60 M178.00 406.84 L181.20 406.84 M178.00 408.60 L181.20 408.60" stroke="#e8405a" stroke-width="0.9" fill="none"/>
<path d="M179.60 405.19 L182.13 409.79 L177.07 409.79 Z" fill="#e8405a"/>
<path d="M52.93 321.68 L52.93 325.19 M51.33 321.68 L54.53 321.68 M51.33 325.19 L54.53 325.19" stroke="#22b522" stroke-width="0.9" fill="none"/>
<rect x="50.63" y="321.13" width="4.60" height="4.60" fill="#22b522"/>
<path d="M68.76 318.17 L68.76 325.19 M67.16 318.17 L70.36 318.17 M67.16 325.19 L70.36 325.19" stroke="#22b522" stroke-width="0.9" fill="none"/>
<rect x="66.46" y="319.38" width="4.60" height="4.60" fill="#22b522"/>
<path d="M84.59 319.04 L84.59 324.31 M82.99 319.04 L86.19 319.04 M82.99 324.31 L86.19 324.31" stroke="#22b522" stroke-width="0.9" fill="none"/>
<rect x="82.29" y="319.38" width="4.60" height="4.60" fill="#22b522"/>
<path d="M100.43 319.04 L100.43 324.31 M98.83 319.04 L102.03 319.04 M98.83 324.31 L102.03 324.31" stroke="#22b522" stroke-width="0.9" fill="none"/>
<rect x="98.13" y="319.38" width="4.60" height="4.60" fill="#22b522"/>
<path d="M116.26 318.17 L116.26 325.19 M114.66 318.17 L117.86 318.17 M114.66 325.19 L117.86 325.19" stroke="#22b522" stroke-width="0.9" fill="none"/>
<rect x="113.96" y="319.38" width="4.60" height="4.60" fill="#22b522"/>
<path d="M132.10 320.80 L132.10 324.31 M130.50 320.80 L133.70 320.80 M130.50 324.31 L133.70 324.31" stroke="#22b522" stroke-width="0.9" fill="none"/>
<rect x="129.80" y="320.26" width="4.60" height="4.60" fill="#22b522"/>
<path d="M147.93 321.68 L147.93 326.95 M146.33 321.68 L149.53 321.68 M146.33 326.95 L149.53 326.95" stroke="#22b522" stroke-width="0.9" fill="none"/>
<rect x="145.63" y="322.01" width="4.60" height="4.60" fill="#22b522"/>
<path d="M163.77 326.95 L163.77 330.46 M162.17 326.95 L165.37 326.95 M162.17 330.46 L165.37 330.46" stroke="#22b522" stroke-width="0.9" fill="none"/>
<rect x="161.47" y="326.40" width="4.60" height="4.60" fill="#22b522"/>
<path d="M179.60 404.21 L179.60 407.72 M178.00 404.21 L181.20 404.21 M178.00 407.72 L181.20 407.72" stroke="#22b522" stroke-width="0.9" fill="none"/>
<rect x="177.30" y="403.67" width="4.60" height="4.60" fill="#22b522"/>
<path d="M52.93 319.92 L52.93 325.19 M51.33 319.92 L54.53 319.92 M51.33 325.19 L54.53 325.19" stroke="#1428c8" stroke-width="0.9" fill="none"/>
<circle cx="52.93" cy="322.56" r="2.3" fill="#1428c8"/>
<path d="M68.76 321.68 L68.76 328.70 M67.16 321.68 L70.36 321.68 M67.16 328.70 L70.36 328.70" stroke="#1428c8" stroke-width="0.9" fill="none"/>
<circle cx="68.76" cy="325.19" r="2.3" fill="#1428c8"/>
<path d="M84.59 321.68 L84.59 326.95 M82.99 321.68 L86.19 321.68 M82.99 326.95 L86.19 326.95" stroke="#1428c8" stroke-width="0.9" fill="none"/>
<circle cx="84.59" cy="324.31" r="2.3" fill="#1428c8"/>
<path d="M100.43 321.68 L100.43 325.19 M98.83 321.68 L102.03 321.68 M98.83 325.19 L102.03 325.19" stroke="#1428c8" stroke-width="0.9" fill="none"/>
<circle cx="100.43" cy="323.43" r="2.3" fill="#1428c8"/>
<path d="M116.26 320.80 L116.26 324.31 M114.66 320.80 L117.86 320.80 M114.66 324.31 L117.86 324.31" stroke="#1428c8" stroke-width="0.9" fill="none"/>
<circle cx="116.26" cy="322.56" r="2.3" fill="#1428c8"/>
<path d="M132.10 320.80 L132.10 324.31 M130.50 320.80 L133.70 320.80 M130.50 324.31 L133.70 324.31" stroke="#1428c8" stroke-width="0.9" fill="none"/>
<circle cx="132.10" cy="322.56" r="2.3" fill="#1428c8"/>
<path d="M147.93 322.56 L147.93 326.07 M146.33 322.56 L149.53 322.56 M146.33 326.07 L149.53 326.07" stroke="#1428c8" stroke-width="0.9" fill="none"/>
<circle cx="147.93" cy="324.31" r="2.3" fill="#1428c8"/>
<path d="M163.77 347.14 L163.77 352.41 M162.17 347.14 L165.37 347.14 M162.17 352.41 L165.37 352.41" stroke="#1428c8" stroke-width="0.9" fill="none"/>
<circle cx="163.77" cy="349.77" r="2.3" fill="#1428c8"/>
<path d="M179.60 403.33 L179.60 406.84 M178.00 403.33 L181.20 403.33 M178.00 406.84 L181.20 406.84" stroke="#1428c8" stroke-width="0.9" fill="none"/>
<circle cx="179.60" cy="405.09" r="2.3" fill="#1428c8"/>
<path d="M47.8 303 L47.8 408.6 L180.79999999999998 408.6" fill="none" stroke="#111" stroke-width="1.2"/>
<line x1="44.8" y1="408.60" x2="47.8" y2="408.60" stroke="#111" stroke-width="1.1"/>
<text x="44.0" y="411.3" font-size="7.6" text-anchor="end" font-weight="bold" fill="#111" stroke="#111" stroke-width="0.12">0</text>
<line x1="44.8" y1="364.70" x2="47.8" y2="364.70" stroke="#111" stroke-width="1.1"/>
<text x="44.0" y="367.40000000000003" font-size="7.6" text-anchor="end" font-weight="bold" fill="#111" stroke="#111" stroke-width="0.12">50</text>
<line x1="44.8" y1="320.80" x2="47.8" y2="320.80" stroke="#111" stroke-width="1.1"/>
<text x="44.0" y="323.5" font-size="7.6" text-anchor="end" font-weight="bold" fill="#111" stroke="#111" stroke-width="0.12">100</text>
<line x1="56.02" y1="408.6" x2="56.02" y2="410.1" stroke="#111" stroke-width="0.8"/>
<line x1="60.65" y1="408.6" x2="60.65" y2="410.1" stroke="#111" stroke-width="0.8"/>
<line x1="63.93" y1="408.6" x2="63.93" y2="410.1" stroke="#111" stroke-width="0.8"/>
<line x1="66.48" y1="408.6" x2="66.48" y2="410.1" stroke="#111" stroke-width="0.8"/>
<line x1="68.57" y1="408.6" x2="68.57" y2="410.1" stroke="#111" stroke-width="0.8"/>
<line x1="70.33" y1="408.6" x2="70.33" y2="410.1" stroke="#111" stroke-width="0.8"/>
<line x1="71.85" y1="408.6" x2="71.85" y2="410.1" stroke="#111" stroke-width="0.8"/>
<line x1="73.20" y1="408.6" x2="73.20" y2="410.1" stroke="#111" stroke-width="0.8"/>
<line x1="74.40" y1="408.6" x2="74.40" y2="411.20000000000005" stroke="#111" stroke-width="0.8"/>
<line x1="82.32" y1="408.6" x2="82.32" y2="410.1" stroke="#111" stroke-width="0.8"/>
<line x1="86.95" y1="408.6" x2="86.95" y2="410.1" stroke="#111" stroke-width="0.8"/>
<line x1="90.23" y1="408.6" x2="90.23" y2="410.1" stroke="#111" stroke-width="0.8"/>
<line x1="92.78" y1="408.6" x2="92.78" y2="410.1" stroke="#111" stroke-width="0.8"/>
<line x1="94.87" y1="408.6" x2="94.87" y2="410.1" stroke="#111" stroke-width="0.8"/>
<line x1="96.63" y1="408.6" x2="96.63" y2="410.1" stroke="#111" stroke-width="0.8"/>
<line x1="98.15" y1="408.6" x2="98.15" y2="410.1" stroke="#111" stroke-width="0.8"/>
<line x1="99.50" y1="408.6" x2="99.50" y2="410.1" stroke="#111" stroke-width="0.8"/>
<line x1="100.70" y1="408.6" x2="100.70" y2="411.20000000000005" stroke="#111" stroke-width="0.8"/>
<line x1="108.62" y1="408.6" x2="108.62" y2="410.1" stroke="#111" stroke-width="0.8"/>
<line x1="113.25" y1="408.6" x2="113.25" y2="410.1" stroke="#111" stroke-width="0.8"/>
<line x1="116.53" y1="408.6" x2="116.53" y2="410.1" stroke="#111" stroke-width="0.8"/>
<line x1="119.08" y1="408.6" x2="119.08" y2="410.1" stroke="#111" stroke-width="0.8"/>
<line x1="121.17" y1="408.6" x2="121.17" y2="410.1" stroke="#111" stroke-width="0.8"/>
<line x1="122.93" y1="408.6" x2="122.93" y2="410.1" stroke="#111" stroke-width="0.8"/>
<line x1="124.45" y1="408.6" x2="124.45" y2="410.1" stroke="#111" stroke-width="0.8"/>
<line x1="125.80" y1="408.6" x2="125.80" y2="410.1" stroke="#111" stroke-width="0.8"/>
<line x1="127.00" y1="408.6" x2="127.00" y2="411.20000000000005" stroke="#111" stroke-width="0.8"/>
<line x1="134.92" y1="408.6" x2="134.92" y2="410.1" stroke="#111" stroke-width="0.8"/>
<line x1="139.55" y1="408.6" x2="139.55" y2="410.1" stroke="#111" stroke-width="0.8"/>
<line x1="142.83" y1="408.6" x2="142.83" y2="410.1" stroke="#111" stroke-width="0.8"/>
<line x1="145.38" y1="408.6" x2="145.38" y2="410.1" stroke="#111" stroke-width="0.8"/>
<line x1="147.47" y1="408.6" x2="147.47" y2="410.1" stroke="#111" stroke-width="0.8"/>
<line x1="149.23" y1="408.6" x2="149.23" y2="410.1" stroke="#111" stroke-width="0.8"/>
<line x1="150.75" y1="408.6" x2="150.75" y2="410.1" stroke="#111" stroke-width="0.8"/>
<line x1="152.10" y1="408.6" x2="152.10" y2="410.1" stroke="#111" stroke-width="0.8"/>
<line x1="153.30" y1="408.6" x2="153.30" y2="411.20000000000005" stroke="#111" stroke-width="0.8"/>
<line x1="161.22" y1="408.6" x2="161.22" y2="410.1" stroke="#111" stroke-width="0.8"/>
<line x1="165.85" y1="408.6" x2="165.85" y2="410.1" stroke="#111" stroke-width="0.8"/>
<line x1="169.13" y1="408.6" x2="169.13" y2="410.1" stroke="#111" stroke-width="0.8"/>
<line x1="171.68" y1="408.6" x2="171.68" y2="410.1" stroke="#111" stroke-width="0.8"/>
<line x1="173.77" y1="408.6" x2="173.77" y2="410.1" stroke="#111" stroke-width="0.8"/>
<line x1="175.53" y1="408.6" x2="175.53" y2="410.1" stroke="#111" stroke-width="0.8"/>
<line x1="177.05" y1="408.6" x2="177.05" y2="410.1" stroke="#111" stroke-width="0.8"/>
<line x1="178.40" y1="408.6" x2="178.40" y2="410.1" stroke="#111" stroke-width="0.8"/>
<line x1="179.60" y1="408.6" x2="179.60" y2="411.20000000000005" stroke="#111" stroke-width="0.8"/>
<text x="75.19999999999999" y="420.0" font-size="7.5" text-anchor="middle" font-weight="bold" fill="#111" stroke="#111" stroke-width="0.12">0.001</text>
<text x="101.49999999999999" y="420.0" font-size="7.5" text-anchor="middle" font-weight="bold" fill="#111" stroke="#111" stroke-width="0.12">0.01</text>
<text x="127.8" y="420.0" font-size="7.5" text-anchor="middle" font-weight="bold" fill="#111" stroke="#111" stroke-width="0.12">0.1</text>
<text x="154.1" y="420.0" font-size="7.5" text-anchor="middle" font-weight="bold" fill="#111" stroke="#111" stroke-width="0.12">1</text>
<text x="180.4" y="420.0" font-size="7.5" text-anchor="middle" font-weight="bold" fill="#111" stroke="#111" stroke-width="0.12">10</text>
<text x="116.2" y="432.20000000000005" font-size="7.6" text-anchor="middle" font-weight="bold" fill="#111" stroke="#111" stroke-width="0.12">Crizotinib (µmol/L)</text>
<text x="26.80" y="355.80" font-size="8.0" fill="#111" font-weight="bold" stroke="#111" stroke-width="0.12" text-anchor="middle" transform="rotate(-90 26.80 355.80)">Relative cell growth (%)</text>
<polyline points="219.10,325.80 219.62,325.81 220.14,325.82 220.67,325.82 221.19,325.83 221.71,325.84 222.23,325.85 222.75,325.86 223.28,325.87 223.80,325.88 224.32,325.89 224.84,325.90 225.36,325.91 225.89,325.92 226.41,325.94 226.93,325.95 227.45,325.97 227.97,325.98 228.50,326.00 229.02,326.02 229.54,326.04 230.06,326.06 230.58,326.08 231.11,326.10 231.63,326.13 232.15,326.15 232.67,326.18 233.19,326.21 233.72,326.24 234.24,326.27 234.76,326.30 235.28,326.34 235.80,326.37 236.33,326.41 236.85,326.46 237.37,326.50 237.89,326.55 238.41,326.60 238.94,326.65 239.46,326.71 239.98,326.77 240.50,326.83 241.02,326.89 241.55,326.96 242.07,327.04 242.59,327.12 243.11,327.20 243.63,327.29 244.16,327.38 244.68,327.48 245.20,327.58 245.72,327.69 246.24,327.80 246.77,327.92 247.29,328.05 247.81,328.19 248.33,328.33 248.85,328.48 249.38,328.64 249.90,328.81 250.42,328.98 250.94,329.17 251.46,329.37 251.99,329.58 252.51,329.79 253.03,330.02 253.55,330.27 254.07,330.52 254.60,330.79 255.12,331.07 255.64,331.37 256.16,331.68 256.68,332.00 257.21,332.35 257.73,332.71 258.25,333.09 258.77,333.48 259.29,333.90 259.82,334.33 260.34,334.78 260.86,335.26 261.38,335.76 261.90,336.27 262.43,336.82 262.95,337.38 263.47,337.97 263.99,338.58 264.51,339.22 265.04,339.88 265.56,340.56 266.08,341.28 266.60,342.01 267.12,342.78 267.65,343.57 268.17,344.38 268.69,345.22 269.21,346.09 269.73,346.98 270.26,347.90 270.78,348.84 271.30,349.81 271.82,350.79 272.34,351.80 272.87,352.83 273.39,353.88 273.91,354.95 274.43,356.04 274.95,357.14 275.48,358.26 276.00,359.39 276.52,360.53 277.04,361.68 277.56,362.84 278.09,364.00 278.61,365.17 279.13,366.34 279.65,367.51 280.17,368.67 280.70,369.84 281.22,371.00 281.74,372.15 282.26,373.29 282.78,374.42 283.31,375.53 283.83,376.64 284.35,377.72 284.87,378.79 285.39,379.84 285.92,380.87 286.44,381.88 286.96,382.87 287.48,383.83 288.00,384.77 288.53,385.69 289.05,386.58 289.57,387.45 290.09,388.29 290.61,389.11 291.14,389.90 291.66,390.66 292.18,391.40 292.70,392.11 293.22,392.80 293.75,393.46 294.27,394.09 294.79,394.71 295.31,395.29 295.83,395.86 296.36,396.40 296.88,396.92 297.40,397.41 297.92,397.89 298.44,398.34 298.97,398.78 299.49,399.19 300.01,399.59 300.53,399.97 301.05,400.33 301.58,400.67 302.10,401.00 302.62,401.31 303.14,401.60 303.66,401.89 304.19,402.15 304.71,402.41 305.23,402.65 305.75,402.88 306.27,403.10 306.80,403.31 307.32,403.50 307.84,403.69 308.36,403.87 308.88,404.03 309.41,404.19 309.93,404.34 310.45,404.49 310.97,404.62 311.49,404.75 312.02,404.87 312.54,404.99 313.06,405.10 313.58,405.20 314.10,405.30 314.63,405.39 315.15,405.48 315.67,405.56 316.19,405.64 316.71,405.71 317.24,405.78 317.76,405.85 318.28,405.91 318.80,405.97 319.32,406.02 319.85,406.08 320.37,406.13 320.89,406.17 321.41,406.22 321.93,406.26 322.46,406.30 322.98,406.34 323.50,406.37 324.02,406.41 324.54,406.44 325.07,406.47 325.59,406.50 326.11,406.52 326.63,406.55 327.15,406.57 327.68,406.60 328.20,406.62 328.72,406.64 329.24,406.66 329.76,406.67 330.29,406.69 330.81,406.71 331.33,406.72 331.85,406.74 332.37,406.75 332.90,406.76 333.42,406.77 333.94,406.79 334.46,406.80 334.98,406.81 335.51,406.82 336.03,406.83 336.55,406.83 337.07,406.84 337.59,406.85 338.12,406.86 338.64,406.86 339.16,406.87 339.68,406.88 340.20,406.88 340.73,406.89 341.25,406.89 341.77,406.90 342.29,406.90 342.81,406.91 343.34,406.91 343.86,406.91 344.38,406.92 344.90,406.92 345.42,406.92 345.95,406.93 346.47,406.93 346.99,406.93 347.51,406.93 348.03,406.94 348.56,406.94 349.08,406.94 349.60,406.94" fill="none" stroke="#f09030" stroke-width="1.3"/>
<polyline points="219.10,325.74 219.62,325.74 220.14,325.75 220.67,325.75 221.19,325.75 221.71,325.76 222.23,325.76 222.75,325.77 223.28,325.77 223.80,325.77 224.32,325.78 224.84,325.78 225.36,325.79 225.89,325.80 226.41,325.80 226.93,325.81 227.45,325.82 227.97,325.82 228.50,325.83 229.02,325.84 229.54,325.85 230.06,325.86 230.58,325.87 231.11,325.88 231.63,325.89 232.15,325.90 232.67,325.91 233.19,325.93 233.72,325.94 234.24,325.96 234.76,325.97 235.28,325.99 235.80,326.01 236.33,326.03 236.85,326.05 237.37,326.07 237.89,326.09 238.41,326.11 238.94,326.14 239.46,326.17 239.98,326.20 240.50,326.23 241.02,326.26 241.55,326.29 242.07,326.33 242.59,326.37 243.11,326.41 243.63,326.45 244.16,326.50 244.68,326.55 245.20,326.60 245.72,326.66 246.24,326.72 246.77,326.78 247.29,326.84 247.81,326.91 248.33,326.99 248.85,327.06 249.38,327.15 249.90,327.24 250.42,327.33 250.94,327.43 251.46,327.53 251.99,327.64 252.51,327.76 253.03,327.88 253.55,328.01 254.07,328.15 254.60,328.30 255.12,328.45 255.64,328.62 256.16,328.79 256.68,328.97 257.21,329.17 257.73,329.37 258.25,329.59 258.77,329.82 259.29,330.06 259.82,330.31 260.34,330.58 260.86,330.86 261.38,331.16 261.90,331.47 262.43,331.80 262.95,332.14 263.47,332.51 263.99,332.89 264.51,333.29 265.04,333.72 265.56,334.16 266.08,334.62 266.60,335.11 267.12,335.62 267.65,336.15 268.17,336.71 268.69,337.29 269.21,337.90 269.73,338.53 270.26,339.19 270.78,339.87 271.30,340.59 271.82,341.33 272.34,342.09 272.87,342.89 273.39,343.71 273.91,344.56 274.43,345.44 274.95,346.35 275.48,347.28 276.00,348.24 276.52,349.22 277.04,350.23 277.56,351.26 278.09,352.32 278.61,353.39 279.13,354.49 279.65,355.60 280.17,356.74 280.70,357.89 281.22,359.05 281.74,360.22 282.26,361.41 282.78,362.60 283.31,363.80 283.83,365.00 284.35,366.20 284.87,367.40 285.39,368.60 285.92,369.80 286.44,370.99 286.96,372.17 287.48,373.34 288.00,374.49 288.53,375.63 289.05,376.76 289.57,377.86 290.09,378.95 290.61,380.02 291.14,381.06 291.66,382.08 292.18,383.08 292.70,384.05 293.22,384.99 293.75,385.91 294.27,386.80 294.79,387.67 295.31,388.50 295.83,389.31 296.36,390.09 296.88,390.85 297.40,391.57 297.92,392.27 298.44,392.95 298.97,393.59 299.49,394.21 300.01,394.81 300.53,395.37 301.05,395.92 301.58,396.44 302.10,396.94 302.62,397.41 303.14,397.87 303.66,398.30 304.19,398.71 304.71,399.10 305.23,399.48 305.75,399.83 306.27,400.17 306.80,400.49 307.32,400.79 307.84,401.08 308.36,401.36 308.88,401.62 309.41,401.86 309.93,402.10 310.45,402.32 310.97,402.53 311.49,402.73 312.02,402.92 312.54,403.10 313.06,403.26 313.58,403.42 314.10,403.58 314.63,403.72 315.15,403.85 315.67,403.98 316.19,404.10 316.71,404.21 317.24,404.32 317.76,404.42 318.28,404.52 318.80,404.61 319.32,404.69 319.85,404.77 320.37,404.85 320.89,404.92 321.41,404.99 321.93,405.05 322.46,405.11 322.98,405.17 323.50,405.22 324.02,405.28 324.54,405.32 325.07,405.37 325.59,405.41 326.11,405.45 326.63,405.49 327.15,405.52 327.68,405.56 328.20,405.59 328.72,405.62 329.24,405.65 329.76,405.67 330.29,405.70 330.81,405.72 331.33,405.74 331.85,405.76 332.37,405.78 332.90,405.80 333.42,405.82 333.94,405.84 334.46,405.85 334.98,405.87 335.51,405.88 336.03,405.89 336.55,405.91 337.07,405.92 337.59,405.93 338.12,405.94 338.64,405.95 339.16,405.96 339.68,405.97 340.20,405.97 340.73,405.98 341.25,405.99 341.77,405.99 342.29,406.00 342.81,406.01 343.34,406.01 343.86,406.02 344.38,406.02 344.90,406.03 345.42,406.03 345.95,406.04 346.47,406.04 346.99,406.04 347.51,406.05 348.03,406.05 348.56,406.05 349.08,406.06 349.60,406.06" fill="none" stroke="#9020c8" stroke-width="1.3"/>
<polyline points="219.10,325.71 219.62,325.71 220.14,325.72 220.67,325.72 221.19,325.72 221.71,325.72 222.23,325.72 222.75,325.72 223.28,325.72 223.80,325.73 224.32,325.73 224.84,325.73 225.36,325.73 225.89,325.73 226.41,325.73 226.93,325.74 227.45,325.74 227.97,325.74 228.50,325.75 229.02,325.75 229.54,325.75 230.06,325.75 230.58,325.76 231.11,325.76 231.63,325.77 232.15,325.77 232.67,325.77 233.19,325.78 233.72,325.78 234.24,325.79 234.76,325.79 235.28,325.80 235.80,325.81 236.33,325.81 236.85,325.82 237.37,325.83 237.89,325.83 238.41,325.84 238.94,325.85 239.46,325.86 239.98,325.87 240.50,325.88 241.02,325.89 241.55,325.90 242.07,325.91 242.59,325.93 243.11,325.94 243.63,325.96 244.16,325.97 244.68,325.99 245.20,326.00 245.72,326.02 246.24,326.04 246.77,326.06 247.29,326.08 247.81,326.11 248.33,326.13 248.85,326.16 249.38,326.18 249.90,326.21 250.42,326.24 250.94,326.27 251.46,326.31 251.99,326.35 252.51,326.38 253.03,326.42 253.55,326.47 254.07,326.51 254.60,326.56 255.12,326.61 255.64,326.66 256.16,326.72 256.68,326.78 257.21,326.84 257.73,326.91 258.25,326.98 258.77,327.06 259.29,327.13 259.82,327.22 260.34,327.31 260.86,327.40 261.38,327.50 261.90,327.60 262.43,327.71 262.95,327.83 263.47,327.95 263.99,328.08 264.51,328.22 265.04,328.36 265.56,328.51 266.08,328.67 266.60,328.84 267.12,329.02 267.65,329.21 268.17,329.41 268.69,329.62 269.21,329.84 269.73,330.07 270.26,330.31 270.78,330.57 271.30,330.84 271.82,331.12 272.34,331.42 272.87,331.73 273.39,332.06 273.91,332.41 274.43,332.77 274.95,333.15 275.48,333.54 276.00,333.96 276.52,334.39 277.04,334.85 277.56,335.32 278.09,335.82 278.61,336.34 279.13,336.88 279.65,337.44 280.17,338.03 280.70,338.63 281.22,339.27 281.74,339.92 282.26,340.61 282.78,341.31 283.31,342.04 283.83,342.80 284.35,343.58 284.87,344.38 285.39,345.21 285.92,346.07 286.44,346.94 286.96,347.85 287.48,348.77 288.00,349.71 288.53,350.68 289.05,351.67 289.57,352.67 290.09,353.69 290.61,354.73 291.14,355.79 291.66,356.86 292.18,357.94 292.70,359.03 293.22,360.13 293.75,361.24 294.27,362.35 294.79,363.47 295.31,364.59 295.83,365.71 296.36,366.83 296.88,367.94 297.40,369.05 297.92,370.15 298.44,371.24 298.97,372.32 299.49,373.39 300.01,374.44 300.53,375.48 301.05,376.51 301.58,377.51 302.10,378.50 302.62,379.46 303.14,380.41 303.66,381.33 304.19,382.23 304.71,383.11 305.23,383.96 305.75,384.79 306.27,385.60 306.80,386.38 307.32,387.13 307.84,387.87 308.36,388.57 308.88,389.25 309.41,389.91 309.93,390.54 310.45,391.15 310.97,391.74 311.49,392.30 312.02,392.84 312.54,393.36 313.06,393.85 313.58,394.33 314.10,394.78 314.63,395.22 315.15,395.63 315.67,396.03 316.19,396.41 316.71,396.77 317.24,397.12 317.76,397.45 318.28,397.76 318.80,398.06 319.32,398.34 319.85,398.61 320.37,398.87 320.89,399.11 321.41,399.34 321.93,399.56 322.46,399.77 322.98,399.97 323.50,400.16 324.02,400.33 324.54,400.50 325.07,400.66 325.59,400.82 326.11,400.96 326.63,401.10 327.15,401.23 327.68,401.35 328.20,401.47 328.72,401.58 329.24,401.68 329.76,401.78 330.29,401.87 330.81,401.96 331.33,402.04 331.85,402.12 332.37,402.20 332.90,402.27 333.42,402.34 333.94,402.40 334.46,402.46 334.98,402.51 335.51,402.57 336.03,402.62 336.55,402.67 337.07,402.71 337.59,402.75 338.12,402.79 338.64,402.83 339.16,402.87 339.68,402.90 340.20,402.94 340.73,402.97 341.25,402.99 341.77,403.02 342.29,403.05 342.81,403.07 343.34,403.09 343.86,403.12 344.38,403.14 344.90,403.16 345.42,403.17 345.95,403.19 346.47,403.21 346.99,403.22 347.51,403.24 348.03,403.25 348.56,403.26 349.08,403.28 349.60,403.29" fill="none" stroke="#e04858" stroke-width="1.3"/>
<polyline points="219.10,325.35 219.62,325.35 220.14,325.35 220.67,325.35 221.19,325.35 221.71,325.35 222.23,325.35 222.75,325.35 223.28,325.35 223.80,325.35 224.32,325.35 224.84,325.35 225.36,325.35 225.89,325.35 226.41,325.35 226.93,325.35 227.45,325.35 227.97,325.35 228.50,325.35 229.02,325.35 229.54,325.35 230.06,325.35 230.58,325.35 231.11,325.35 231.63,325.35 232.15,325.35 232.67,325.35 233.19,325.35 233.72,325.35 234.24,325.35 234.76,325.35 235.28,325.35 235.80,325.35 236.33,325.35 236.85,325.35 237.37,325.35 237.89,325.35 238.41,325.35 238.94,325.35 239.46,325.35 239.98,325.35 240.50,325.35 241.02,325.35 241.55,325.35 242.07,325.35 242.59,325.35 243.11,325.35 243.63,325.35 244.16,325.35 244.68,325.35 245.20,325.35 245.72,325.35 246.24,325.35 246.77,325.35 247.29,325.35 247.81,325.35 248.33,325.35 248.85,325.35 249.38,325.35 249.90,325.35 250.42,325.35 250.94,325.35 251.46,325.35 251.99,325.35 252.51,325.35 253.03,325.35 253.55,325.35 254.07,325.35 254.60,325.35 255.12,325.35 255.64,325.35 256.16,325.35 256.68,325.35 257.21,325.35 257.73,325.35 258.25,325.35 258.77,325.35 259.29,325.35 259.82,325.35 260.34,325.35 260.86,325.35 261.38,325.35 261.90,325.35 262.43,325.35 262.95,325.35 263.47,325.35 263.99,325.35 264.51,325.35 265.04,325.35 265.56,325.35 266.08,325.35 266.60,325.35 267.12,325.35 267.65,325.35 268.17,325.35 268.69,325.35 269.21,325.35 269.73,325.35 270.26,325.35 270.78,325.35 271.30,325.35 271.82,325.35 272.34,325.35 272.87,325.35 273.39,325.35 273.91,325.35 274.43,325.35 274.95,325.35 275.48,325.36 276.00,325.36 276.52,325.36 277.04,325.36 277.56,325.36 278.09,325.36 278.61,325.36 279.13,325.36 279.65,325.36 280.17,325.36 280.70,325.36 281.22,325.37 281.74,325.37 282.26,325.37 282.78,325.37 283.31,325.37 283.83,325.37 284.35,325.38 284.87,325.38 285.39,325.38 285.92,325.38 286.44,325.39 286.96,325.39 287.48,325.39 288.00,325.40 288.53,325.40 289.05,325.40 289.57,325.41 290.09,325.41 290.61,325.42 291.14,325.42 291.66,325.43 292.18,325.43 292.70,325.44 293.22,325.44 293.75,325.45 294.27,325.46 294.79,325.47 295.31,325.48 295.83,325.49 296.36,325.50 296.88,325.51 297.40,325.52 297.92,325.53 298.44,325.54 298.97,325.56 299.49,325.57 300.01,325.59 300.53,325.61 301.05,325.63 301.58,325.65 302.10,325.67 302.62,325.69 303.14,325.72 303.66,325.74 304.19,325.77 304.71,325.80 305.23,325.84 305.75,325.87 306.27,325.91 306.80,325.95 307.32,325.99 307.84,326.04 308.36,326.09 308.88,326.14 309.41,326.20 309.93,326.26 310.45,326.33 310.97,326.40 311.49,326.47 312.02,326.55 312.54,326.64 313.06,326.73 313.58,326.83 314.10,326.94 314.63,327.05 315.15,327.17 315.67,327.31 316.19,327.44 316.71,327.59 317.24,327.75 317.76,327.92 318.28,328.11 318.80,328.30 319.32,328.51 319.85,328.73 320.37,328.97 320.89,329.23 321.41,329.50 321.93,329.79 322.46,330.10 322.98,330.43 323.50,330.78 324.02,331.16 324.54,331.56 325.07,331.98 325.59,332.43 326.11,332.92 326.63,333.43 327.15,333.97 327.68,334.55 328.20,335.16 328.72,335.81 329.24,336.50 329.76,337.23 330.29,338.01 330.81,338.82 331.33,339.68 331.85,340.59 332.37,341.55 332.90,342.56 333.42,343.62 333.94,344.73 334.46,345.90 334.98,347.12 335.51,348.40 336.03,349.73 336.55,351.13 337.07,352.58 337.59,354.08 338.12,355.64 338.64,357.26 339.16,358.94 339.68,360.66 340.20,362.44 340.73,364.26 341.25,366.14 341.77,368.05 342.29,370.01 342.81,372.00 343.34,374.02 343.86,376.08 344.38,378.15 344.90,380.25 345.42,382.36 345.95,384.47 346.47,386.59 346.99,388.71 347.51,390.83 348.03,392.93 348.56,395.01 349.08,397.07 349.60,399.11" fill="none" stroke="#30b030" stroke-width="1.3"/>
<polyline points="219.10,323.39 219.62,323.39 220.14,323.39 220.67,323.39 221.19,323.39 221.71,323.39 222.23,323.39 222.75,323.39 223.28,323.39 223.80,323.39 224.32,323.39 224.84,323.39 225.36,323.39 225.89,323.39 226.41,323.39 226.93,323.39 227.45,323.39 227.97,323.39 228.50,323.39 229.02,323.39 229.54,323.39 230.06,323.39 230.58,323.39 231.11,323.39 231.63,323.39 232.15,323.39 232.67,323.39 233.19,323.39 233.72,323.39 234.24,323.39 234.76,323.39 235.28,323.39 235.80,323.39 236.33,323.39 236.85,323.39 237.37,323.39 237.89,323.39 238.41,323.39 238.94,323.39 239.46,323.39 239.98,323.39 240.50,323.39 241.02,323.39 241.55,323.39 242.07,323.39 242.59,323.39 243.11,323.39 243.63,323.39 244.16,323.39 244.68,323.39 245.20,323.39 245.72,323.39 246.24,323.39 246.77,323.39 247.29,323.39 247.81,323.39 248.33,323.39 248.85,323.39 249.38,323.39 249.90,323.39 250.42,323.39 250.94,323.39 251.46,323.39 251.99,323.39 252.51,323.39 253.03,323.39 253.55,323.39 254.07,323.39 254.60,323.39 255.12,323.39 255.64,323.39 256.16,323.39 256.68,323.39 257.21,323.39 257.73,323.39 258.25,323.39 258.77,323.39 259.29,323.39 259.82,323.39 260.34,323.39 260.86,323.39 261.38,323.40 261.90,323.40 262.43,323.40 262.95,323.40 263.47,323.40 263.99,323.40 264.51,323.40 265.04,323.40 265.56,323.40 266.08,323.40 266.60,323.40 267.12,323.40 267.65,323.40 268.17,323.40 268.69,323.40 269.21,323.41 269.73,323.41 270.26,323.41 270.78,323.41 271.30,323.41 271.82,323.41 272.34,323.41 272.87,323.41 273.39,323.42 273.91,323.42 274.43,323.42 274.95,323.42 275.48,323.42 276.00,323.43 276.52,323.43 277.04,323.43 277.56,323.43 278.09,323.44 278.61,323.44 279.13,323.44 279.65,323.45 280.17,323.45 280.70,323.45 281.22,323.46 281.74,323.46 282.26,323.47 282.78,323.47 283.31,323.48 283.83,323.48 284.35,323.49 284.87,323.50 285.39,323.50 285.92,323.51 286.44,323.52 286.96,323.53 287.48,323.53 288.00,323.54 288.53,323.55 289.05,323.57 289.57,323.58 290.09,323.59 290.61,323.60 291.14,323.62 291.66,323.63 292.18,323.65 292.70,323.66 293.22,323.68 293.75,323.70 294.27,323.72 294.79,323.74 295.31,323.76 295.83,323.79 296.36,323.81 296.88,323.84 297.40,323.87 297.92,323.90 298.44,323.93 298.97,323.97 299.49,324.00 300.01,324.04 300.53,324.08 301.05,324.13 301.58,324.18 302.10,324.23 302.62,324.28 303.14,324.34 303.66,324.40 304.19,324.46 304.71,324.53 305.23,324.60 305.75,324.68 306.27,324.76 306.80,324.85 307.32,324.94 307.84,325.04 308.36,325.15 308.88,325.26 309.41,325.38 309.93,325.50 310.45,325.64 310.97,325.78 311.49,325.93 312.02,326.09 312.54,326.26 313.06,326.44 313.58,326.63 314.10,326.84 314.63,327.05 315.15,327.28 315.67,327.52 316.19,327.78 316.71,328.05 317.24,328.34 317.76,328.65 318.28,328.97 318.80,329.31 319.32,329.67 319.85,330.06 320.37,330.46 320.89,330.89 321.41,331.34 321.93,331.82 322.46,332.32 322.98,332.86 323.50,333.42 324.02,334.01 324.54,334.63 325.07,335.28 325.59,335.97 326.11,336.69 326.63,337.45 327.15,338.25 327.68,339.08 328.20,339.95 328.72,340.87 329.24,341.82 329.76,342.82 330.29,343.87 330.81,344.95 331.33,346.08 331.85,347.26 332.37,348.48 332.90,349.75 333.42,351.06 333.94,352.42 334.46,353.82 334.98,355.27 335.51,356.76 336.03,358.30 336.55,359.87 337.07,361.49 337.59,363.14 338.12,364.83 338.64,366.55 339.16,368.31 339.68,370.09 340.20,371.90 340.73,373.73 341.25,375.59 341.77,377.46 342.29,379.34 342.81,381.23 343.34,383.13 343.86,385.03 344.38,386.92 344.90,388.81 345.42,390.70 345.95,392.57 346.47,394.42 346.99,396.26 347.51,398.07 348.03,399.86 348.56,401.61 349.08,403.34 349.60,405.03" fill="none" stroke="#1030c0" stroke-width="1.3"/>
<path d="M223.89 323.07 L223.89 326.57 M222.29 323.07 L225.49 323.07 M222.29 326.57 L225.49 326.57" stroke="#f0902a" stroke-width="0.9" fill="none"/>
<path d="M223.89 322.29 L226.19 324.82 L223.89 327.35 L221.59 324.82 Z" fill="#f0902a"/>
<path d="M239.60 324.82 L239.60 328.32 M238.00 324.82 L241.20 324.82 M238.00 328.32 L241.20 328.32" stroke="#f0902a" stroke-width="0.9" fill="none"/>
<path d="M239.60 324.04 L241.90 326.57 L239.60 329.10 L237.30 326.57 Z" fill="#f0902a"/>
<path d="M255.32 335.31 L255.32 344.05 M253.72 335.31 L256.92 335.31 M253.72 344.05 L256.92 344.05" stroke="#f0902a" stroke-width="0.9" fill="none"/>
<path d="M255.32 337.15 L257.62 339.68 L255.32 342.21 L253.02 339.68 Z" fill="#f0902a"/>
<path d="M271.03 358.91 L271.03 362.40 M269.43 358.91 L272.63 358.91 M269.43 362.40 L272.63 362.40" stroke="#f0902a" stroke-width="0.9" fill="none"/>
<path d="M271.03 358.13 L273.33 360.66 L271.03 363.19 L268.73 360.66 Z" fill="#f0902a"/>
<path d="M286.74 366.77 L286.74 370.27 M285.14 366.77 L288.34 366.77 M285.14 370.27 L288.34 370.27" stroke="#f0902a" stroke-width="0.9" fill="none"/>
<path d="M286.74 365.99 L289.04 368.52 L286.74 371.05 L284.44 368.52 Z" fill="#f0902a"/>
<path d="M302.46 394.74 L302.46 398.24 M300.86 394.74 L304.06 394.74 M300.86 398.24 L304.06 398.24" stroke="#f0902a" stroke-width="0.9" fill="none"/>
<path d="M302.46 393.96 L304.76 396.49 L302.46 399.02 L300.16 396.49 Z" fill="#f0902a"/>
<path d="M318.17 400.86 L318.17 404.36 M316.57 400.86 L319.77 400.86 M316.57 404.36 L319.77 404.36" stroke="#f0902a" stroke-width="0.9" fill="none"/>
<path d="M318.17 400.08 L320.47 402.61 L318.17 405.14 L315.87 402.61 Z" fill="#f0902a"/>
<path d="M333.89 403.48 L333.89 405.23 M332.29 403.48 L335.49 403.48 M332.29 405.23 L335.49 405.23" stroke="#f0902a" stroke-width="0.9" fill="none"/>
<path d="M333.89 401.83 L336.19 404.36 L333.89 406.89 L331.59 404.36 Z" fill="#f0902a"/>
<path d="M349.60 404.36 L349.60 406.10 M348.00 404.36 L351.20 404.36 M348.00 406.10 L351.20 406.10" stroke="#f0902a" stroke-width="0.9" fill="none"/>
<path d="M349.60 402.70 L351.90 405.23 L349.60 407.76 L347.30 405.23 Z" fill="#f0902a"/>
<path d="M223.89 321.33 L223.89 324.82 M222.29 321.33 L225.49 321.33 M222.29 324.82 L225.49 324.82" stroke="#9a1ed0" stroke-width="0.9" fill="none"/>
<path d="M223.89 325.60 L226.42 321.00 L221.36 321.00 Z" fill="#9a1ed0"/>
<path d="M239.60 323.95 L239.60 327.44 M238.00 323.95 L241.20 323.95 M238.00 327.44 L241.20 327.44" stroke="#9a1ed0" stroke-width="0.9" fill="none"/>
<path d="M239.60 328.23 L242.13 323.63 L237.07 323.63 Z" fill="#9a1ed0"/>
<path d="M255.32 328.32 L255.32 333.56 M253.72 328.32 L256.92 328.32 M253.72 333.56 L256.92 333.56" stroke="#9a1ed0" stroke-width="0.9" fill="none"/>
<path d="M255.32 333.47 L257.85 328.87 L252.79 328.87 Z" fill="#9a1ed0"/>
<path d="M271.03 339.68 L271.03 344.92 M269.43 339.68 L272.63 339.68 M269.43 344.92 L272.63 344.92" stroke="#9a1ed0" stroke-width="0.9" fill="none"/>
<path d="M271.03 344.83 L273.56 340.23 L268.50 340.23 Z" fill="#9a1ed0"/>
<path d="M286.74 371.14 L286.74 376.39 M285.14 371.14 L288.34 371.14 M285.14 376.39 L288.34 376.39" stroke="#9a1ed0" stroke-width="0.9" fill="none"/>
<path d="M286.74 376.30 L289.27 371.70 L284.21 371.70 Z" fill="#9a1ed0"/>
<path d="M302.46 386.00 L302.46 389.50 M300.86 386.00 L304.06 386.00 M300.86 389.50 L304.06 389.50" stroke="#9a1ed0" stroke-width="0.9" fill="none"/>
<path d="M302.46 390.28 L304.99 385.68 L299.93 385.68 Z" fill="#9a1ed0"/>
<path d="M318.17 395.62 L318.17 399.11 M316.57 395.62 L319.77 395.62 M316.57 399.11 L319.77 399.11" stroke="#9a1ed0" stroke-width="0.9" fill="none"/>
<path d="M318.17 399.89 L320.70 395.29 L315.64 395.29 Z" fill="#9a1ed0"/>
<path d="M333.89 405.23 L333.89 408.73 M332.29 405.23 L335.49 405.23 M332.29 408.73 L335.49 408.73" stroke="#9a1ed0" stroke-width="0.9" fill="none"/>
<path d="M333.89 409.51 L336.42 404.91 L331.36 404.91 Z" fill="#9a1ed0"/>
<path d="M349.60 406.98 L349.60 408.73 M348.00 406.98 L351.20 406.98 M348.00 408.73 L351.20 408.73" stroke="#9a1ed0" stroke-width="0.9" fill="none"/>
<path d="M349.60 410.38 L352.13 405.78 L347.07 405.78 Z" fill="#9a1ed0"/>
<path d="M223.89 321.33 L223.89 324.82 M222.29 321.33 L225.49 321.33 M222.29 324.82 L225.49 324.82" stroke="#e8405a" stroke-width="0.9" fill="none"/>
<path d="M223.89 320.54 L226.42 325.14 L221.36 325.14 Z" fill="#e8405a"/>
<path d="M239.60 323.07 L239.60 326.57 M238.00 323.07 L241.20 323.07 M238.00 326.57 L241.20 326.57" stroke="#e8405a" stroke-width="0.9" fill="none"/>
<path d="M239.60 322.29 L242.13 326.89 L237.07 326.89 Z" fill="#e8405a"/>
<path d="M255.32 325.70 L255.32 330.94 M253.72 325.70 L256.92 325.70 M253.72 330.94 L256.92 330.94" stroke="#e8405a" stroke-width="0.9" fill="none"/>
<path d="M255.32 325.79 L257.85 330.39 L252.79 330.39 Z" fill="#e8405a"/>
<path d="M271.03 332.69 L271.03 337.93 M269.43 332.69 L272.63 332.69 M269.43 337.93 L272.63 337.93" stroke="#e8405a" stroke-width="0.9" fill="none"/>
<path d="M271.03 332.78 L273.56 337.38 L268.50 337.38 Z" fill="#e8405a"/>
<path d="M286.74 350.17 L286.74 355.41 M285.14 350.17 L288.34 350.17 M285.14 355.41 L288.34 355.41" stroke="#e8405a" stroke-width="0.9" fill="none"/>
<path d="M286.74 350.26 L289.27 354.86 L284.21 354.86 Z" fill="#e8405a"/>
<path d="M302.46 378.14 L302.46 383.38 M300.86 378.14 L304.06 378.14 M300.86 383.38 L304.06 383.38" stroke="#e8405a" stroke-width="0.9" fill="none"/>
<path d="M302.46 378.23 L304.99 382.83 L299.93 382.83 Z" fill="#e8405a"/>
<path d="M318.17 388.62 L318.17 392.12 M316.57 388.62 L319.77 388.62 M316.57 392.12 L319.77 392.12" stroke="#e8405a" stroke-width="0.9" fill="none"/>
<path d="M318.17 387.84 L320.70 392.44 L315.64 392.44 Z" fill="#e8405a"/>
<path d="M333.89 399.99 L333.89 401.73 M332.29 399.99 L335.49 399.99 M332.29 401.73 L335.49 401.73" stroke="#e8405a" stroke-width="0.9" fill="none"/>
<path d="M333.89 398.33 L336.42 402.93 L331.36 402.93 Z" fill="#e8405a"/>
<path d="M349.60 409.60 L349.60 411.35 M348.00 409.60 L351.20 409.60 M348.00 411.35 L351.20 411.35" stroke="#e8405a" stroke-width="0.9" fill="none"/>
<path d="M349.60 407.94 L352.13 412.54 L347.07 412.54 Z" fill="#e8405a"/>
<path d="M223.89 322.20 L223.89 327.44 M222.29 322.20 L225.49 322.20 M222.29 327.44 L225.49 327.44" stroke="#22b522" stroke-width="0.9" fill="none"/>
<rect x="221.59" y="322.52" width="4.60" height="4.60" fill="#22b522"/>
<path d="M239.60 317.83 L239.60 330.07 M238.00 317.83 L241.20 317.83 M238.00 330.07 L241.20 330.07" stroke="#22b522" stroke-width="0.9" fill="none"/>
<rect x="237.30" y="321.65" width="4.60" height="4.60" fill="#22b522"/>
<path d="M255.32 323.07 L255.32 330.07 M253.72 323.07 L256.92 323.07 M253.72 330.07 L256.92 330.07" stroke="#22b522" stroke-width="0.9" fill="none"/>
<rect x="253.02" y="324.27" width="4.60" height="4.60" fill="#22b522"/>
<path d="M271.03 322.20 L271.03 330.94 M269.43 322.20 L272.63 322.20 M269.43 330.94 L272.63 330.94" stroke="#22b522" stroke-width="0.9" fill="none"/>
<rect x="268.73" y="324.27" width="4.60" height="4.60" fill="#22b522"/>
<path d="M286.74 324.82 L286.74 331.81 M285.14 324.82 L288.34 324.82 M285.14 331.81 L288.34 331.81" stroke="#22b522" stroke-width="0.9" fill="none"/>
<rect x="284.44" y="326.02" width="4.60" height="4.60" fill="#22b522"/>
<path d="M302.46 325.70 L302.46 332.69 M300.86 325.70 L304.06 325.70 M300.86 332.69 L304.06 332.69" stroke="#22b522" stroke-width="0.9" fill="none"/>
<rect x="300.16" y="326.89" width="4.60" height="4.60" fill="#22b522"/>
<path d="M318.17 331.81 L318.17 338.81 M316.57 331.81 L319.77 331.81 M316.57 338.81 L319.77 338.81" stroke="#22b522" stroke-width="0.9" fill="none"/>
<rect x="315.87" y="333.01" width="4.60" height="4.60" fill="#22b522"/>
<path d="M333.89 325.70 L333.89 332.69 M332.29 325.70 L335.49 325.70 M332.29 332.69 L335.49 332.69" stroke="#22b522" stroke-width="0.9" fill="none"/>
<rect x="331.59" y="326.89" width="4.60" height="4.60" fill="#22b522"/>
<path d="M349.60 396.49 L349.60 401.73 M348.00 396.49 L351.20 396.49 M348.00 401.73 L351.20 401.73" stroke="#22b522" stroke-width="0.9" fill="none"/>
<rect x="347.30" y="396.81" width="4.60" height="4.60" fill="#22b522"/>
<path d="M223.89 321.33 L223.89 324.82 M222.29 321.33 L225.49 321.33 M222.29 324.82 L225.49 324.82" stroke="#1428c8" stroke-width="0.9" fill="none"/>
<circle cx="223.89" cy="323.07" r="2.3" fill="#1428c8"/>
<path d="M239.60 320.45 L239.60 325.70 M238.00 320.45 L241.20 320.45 M238.00 325.70 L241.20 325.70" stroke="#1428c8" stroke-width="0.9" fill="none"/>
<circle cx="239.60" cy="323.07" r="2.3" fill="#1428c8"/>
<path d="M255.32 322.20 L255.32 325.70 M253.72 322.20 L256.92 322.20 M253.72 325.70 L256.92 325.70" stroke="#1428c8" stroke-width="0.9" fill="none"/>
<circle cx="255.32" cy="323.95" r="2.3" fill="#1428c8"/>
<path d="M271.03 322.20 L271.03 325.70 M269.43 322.20 L272.63 322.20 M269.43 325.70 L272.63 325.70" stroke="#1428c8" stroke-width="0.9" fill="none"/>
<circle cx="271.03" cy="323.95" r="2.3" fill="#1428c8"/>
<path d="M286.74 322.20 L286.74 325.70 M285.14 322.20 L288.34 322.20 M285.14 325.70 L288.34 325.70" stroke="#1428c8" stroke-width="0.9" fill="none"/>
<circle cx="286.74" cy="323.95" r="2.3" fill="#1428c8"/>
<path d="M302.46 322.20 L302.46 325.70 M300.86 322.20 L304.06 322.20 M300.86 325.70 L304.06 325.70" stroke="#1428c8" stroke-width="0.9" fill="none"/>
<circle cx="302.46" cy="323.95" r="2.3" fill="#1428c8"/>
<path d="M318.17 324.82 L318.17 328.32 M316.57 324.82 L319.77 324.82 M316.57 328.32 L319.77 328.32" stroke="#1428c8" stroke-width="0.9" fill="none"/>
<circle cx="318.17" cy="326.57" r="2.3" fill="#1428c8"/>
<path d="M333.89 349.29 L333.89 352.79 M332.29 349.29 L335.49 349.29 M332.29 352.79 L335.49 352.79" stroke="#1428c8" stroke-width="0.9" fill="none"/>
<circle cx="333.89" cy="351.04" r="2.3" fill="#1428c8"/>
<path d="M349.60 403.48 L349.60 406.98 M348.00 403.48 L351.20 403.48 M348.00 406.98 L351.20 406.98" stroke="#1428c8" stroke-width="0.9" fill="none"/>
<circle cx="349.60" cy="405.23" r="2.3" fill="#1428c8"/>
<path d="M217.8 304.5 L217.8 409.6 L350.8 409.6" fill="none" stroke="#111" stroke-width="1.2"/>
<line x1="214.8" y1="409.60" x2="217.8" y2="409.60" stroke="#111" stroke-width="1.1"/>
<text x="214.0" y="412.3" font-size="7.6" text-anchor="end" font-weight="bold" fill="#111" stroke="#111" stroke-width="0.12">0</text>
<line x1="214.8" y1="365.90" x2="217.8" y2="365.90" stroke="#111" stroke-width="1.1"/>
<text x="214.0" y="368.59999999999997" font-size="7.6" text-anchor="end" font-weight="bold" fill="#111" stroke="#111" stroke-width="0.12">50</text>
<line x1="214.8" y1="322.20" x2="217.8" y2="322.20" stroke="#111" stroke-width="1.1"/>
<text x="214.0" y="324.9" font-size="7.6" text-anchor="end" font-weight="bold" fill="#111" stroke="#111" stroke-width="0.12">100</text>
<line x1="219.10" y1="409.6" x2="219.10" y2="412.20000000000005" stroke="#111" stroke-width="0.8"/>
<line x1="226.96" y1="409.6" x2="226.96" y2="411.1" stroke="#111" stroke-width="0.8"/>
<line x1="231.55" y1="409.6" x2="231.55" y2="411.1" stroke="#111" stroke-width="0.8"/>
<line x1="234.81" y1="409.6" x2="234.81" y2="411.1" stroke="#111" stroke-width="0.8"/>
<line x1="237.34" y1="409.6" x2="237.34" y2="411.1" stroke="#111" stroke-width="0.8"/>
<line x1="239.41" y1="409.6" x2="239.41" y2="411.1" stroke="#111" stroke-width="0.8"/>
<line x1="241.16" y1="409.6" x2="241.16" y2="411.1" stroke="#111" stroke-width="0.8"/>
<line x1="242.67" y1="409.6" x2="242.67" y2="411.1" stroke="#111" stroke-width="0.8"/>
<line x1="244.01" y1="409.6" x2="244.01" y2="411.1" stroke="#111" stroke-width="0.8"/>
<line x1="245.20" y1="409.6" x2="245.20" y2="412.20000000000005" stroke="#111" stroke-width="0.8"/>
<line x1="253.06" y1="409.6" x2="253.06" y2="411.1" stroke="#111" stroke-width="0.8"/>
<line x1="257.65" y1="409.6" x2="257.65" y2="411.1" stroke="#111" stroke-width="0.8"/>
<line x1="260.91" y1="409.6" x2="260.91" y2="411.1" stroke="#111" stroke-width="0.8"/>
<line x1="263.44" y1="409.6" x2="263.44" y2="411.1" stroke="#111" stroke-width="0.8"/>
<line x1="265.51" y1="409.6" x2="265.51" y2="411.1" stroke="#111" stroke-width="0.8"/>
<line x1="267.26" y1="409.6" x2="267.26" y2="411.1" stroke="#111" stroke-width="0.8"/>
<line x1="268.77" y1="409.6" x2="268.77" y2="411.1" stroke="#111" stroke-width="0.8"/>
<line x1="270.11" y1="409.6" x2="270.11" y2="411.1" stroke="#111" stroke-width="0.8"/>
<line x1="271.30" y1="409.6" x2="271.30" y2="412.20000000000005" stroke="#111" stroke-width="0.8"/>
<line x1="279.16" y1="409.6" x2="279.16" y2="411.1" stroke="#111" stroke-width="0.8"/>
<line x1="283.75" y1="409.6" x2="283.75" y2="411.1" stroke="#111" stroke-width="0.8"/>
<line x1="287.01" y1="409.6" x2="287.01" y2="411.1" stroke="#111" stroke-width="0.8"/>
<line x1="289.54" y1="409.6" x2="289.54" y2="411.1" stroke="#111" stroke-width="0.8"/>
<line x1="291.61" y1="409.6" x2="291.61" y2="411.1" stroke="#111" stroke-width="0.8"/>
<line x1="293.36" y1="409.6" x2="293.36" y2="411.1" stroke="#111" stroke-width="0.8"/>
<line x1="294.87" y1="409.6" x2="294.87" y2="411.1" stroke="#111" stroke-width="0.8"/>
<line x1="296.21" y1="409.6" x2="296.21" y2="411.1" stroke="#111" stroke-width="0.8"/>
<line x1="297.40" y1="409.6" x2="297.40" y2="412.20000000000005" stroke="#111" stroke-width="0.8"/>
<line x1="305.26" y1="409.6" x2="305.26" y2="411.1" stroke="#111" stroke-width="0.8"/>
<line x1="309.85" y1="409.6" x2="309.85" y2="411.1" stroke="#111" stroke-width="0.8"/>
<line x1="313.11" y1="409.6" x2="313.11" y2="411.1" stroke="#111" stroke-width="0.8"/>
<line x1="315.64" y1="409.6" x2="315.64" y2="411.1" stroke="#111" stroke-width="0.8"/>
<line x1="317.71" y1="409.6" x2="317.71" y2="411.1" stroke="#111" stroke-width="0.8"/>
<line x1="319.46" y1="409.6" x2="319.46" y2="411.1" stroke="#111" stroke-width="0.8"/>
<line x1="320.97" y1="409.6" x2="320.97" y2="411.1" stroke="#111" stroke-width="0.8"/>
<line x1="322.31" y1="409.6" x2="322.31" y2="411.1" stroke="#111" stroke-width="0.8"/>
<line x1="323.50" y1="409.6" x2="323.50" y2="412.20000000000005" stroke="#111" stroke-width="0.8"/>
<line x1="331.36" y1="409.6" x2="331.36" y2="411.1" stroke="#111" stroke-width="0.8"/>
<line x1="335.95" y1="409.6" x2="335.95" y2="411.1" stroke="#111" stroke-width="0.8"/>
<line x1="339.21" y1="409.6" x2="339.21" y2="411.1" stroke="#111" stroke-width="0.8"/>
<line x1="341.74" y1="409.6" x2="341.74" y2="411.1" stroke="#111" stroke-width="0.8"/>
<line x1="343.81" y1="409.6" x2="343.81" y2="411.1" stroke="#111" stroke-width="0.8"/>
<line x1="345.56" y1="409.6" x2="345.56" y2="411.1" stroke="#111" stroke-width="0.8"/>
<line x1="347.07" y1="409.6" x2="347.07" y2="411.1" stroke="#111" stroke-width="0.8"/>
<line x1="348.41" y1="409.6" x2="348.41" y2="411.1" stroke="#111" stroke-width="0.8"/>
<line x1="349.60" y1="409.6" x2="349.60" y2="412.20000000000005" stroke="#111" stroke-width="0.8"/>
<text x="246.00000000000003" y="421.0" font-size="7.5" text-anchor="middle" font-weight="bold" fill="#111" stroke="#111" stroke-width="0.12">0.001</text>
<text x="272.1" y="421.0" font-size="7.5" text-anchor="middle" font-weight="bold" fill="#111" stroke="#111" stroke-width="0.12">0.01</text>
<text x="298.20000000000005" y="421.0" font-size="7.5" text-anchor="middle" font-weight="bold" fill="#111" stroke="#111" stroke-width="0.12">0.1</text>
<text x="324.3" y="421.0" font-size="7.5" text-anchor="middle" font-weight="bold" fill="#111" stroke="#111" stroke-width="0.12">1</text>
<text x="350.40000000000003" y="421.0" font-size="7.5" text-anchor="middle" font-weight="bold" fill="#111" stroke="#111" stroke-width="0.12">10</text>
<text x="285.4" y="433.20000000000005" font-size="7.6" text-anchor="middle" font-weight="bold" fill="#111" stroke="#111" stroke-width="0.12">Cabozantinib (µmol/L)</text>
<text x="196.80" y="357.05" font-size="8.0" fill="#111" font-weight="bold" stroke="#111" stroke-width="0.12" text-anchor="middle" transform="rotate(-90 196.80 357.05)">Relative cell growth (%)</text>
<line x1="366.6" y1="357.8" x2="376.2" y2="357.8" stroke="#1030c0" stroke-width="1.2"/>
<circle cx="371.40" cy="357.80" r="1.8" fill="#1428c8"/>
<text x="379.0" y="360.1" font-size="6.4" text-anchor="start" font-weight="bold" fill="#111" stroke="#111" stroke-width="0.12">HBECp53</text>
<line x1="366.6" y1="369.7" x2="376.2" y2="369.7" stroke="#30b030" stroke-width="1.2"/>
<rect x="369.60" y="367.90" width="3.60" height="3.60" fill="#22b522"/>
<text x="379.0" y="372.0" font-size="6.4" text-anchor="start" font-weight="bold" fill="#111" stroke="#111" stroke-width="0.12">NIH3T3</text>
<line x1="366.6" y1="381.6" x2="376.2" y2="381.6" stroke="#e04858" stroke-width="1.2"/>
<path d="M371.40 379.62 L373.38 383.22 L369.42 383.22 Z" fill="#e8405a"/>
<text x="379.0" y="383.90000000000003" font-size="6.4" text-anchor="start" font-weight="bold" fill="#111" stroke="#111" stroke-width="0.12">HBEC-ER1</text>
<line x1="366.6" y1="393.5" x2="376.2" y2="393.5" stroke="#9020c8" stroke-width="1.2"/>
<path d="M371.40 395.48 L373.38 391.88 L369.42 391.88 Z" fill="#9a1ed0"/>
<text x="379.0" y="395.8" font-size="6.4" text-anchor="start" font-weight="bold" fill="#111" stroke="#111" stroke-width="0.12">3T3+SLC34A2/ROS1</text>
<line x1="366.6" y1="405.40000000000003" x2="376.2" y2="405.40000000000003" stroke="#f09030" stroke-width="1.2"/>
<path d="M371.40 403.42 L373.20 405.40 L371.40 407.38 L369.60 405.40 Z" fill="#f0902a"/>
<text x="379.0" y="407.70000000000005" font-size="6.4" text-anchor="start" font-weight="bold" fill="#111" stroke="#111" stroke-width="0.12">3T3+CD74/ROS1</text>
<g id="F">
<text x="96.3" y="457.7" font-size="7.35" text-anchor="middle" fill="#1a1a1a" stroke="#1a1a1a" stroke-width="0.18">HBECp53</text>
<line x1="56.5" y1="461.8" x2="131.8" y2="461.8" stroke="#333" stroke-width="1.3"/>
<text x="66.64" y="489.30" font-size="7.6" fill="#1a1a1a" stroke="#1a1a1a" stroke-width="0.3" letter-spacing="-0.45" text-anchor="start" transform="rotate(-90 66.64 489.30)">0</text>
<text x="78.69" y="489.30" font-size="7.6" fill="#1a1a1a" stroke="#1a1a1a" stroke-width="0.3" letter-spacing="-0.45" text-anchor="start" transform="rotate(-90 78.69 489.30)">1</text>
<text x="90.74" y="489.30" font-size="7.6" fill="#1a1a1a" stroke="#1a1a1a" stroke-width="0.3" letter-spacing="-0.45" text-anchor="start" transform="rotate(-90 90.74 489.30)">10</text>
<text x="102.79" y="489.30" font-size="7.6" fill="#1a1a1a" stroke="#1a1a1a" stroke-width="0.3" letter-spacing="-0.45" text-anchor="start" transform="rotate(-90 102.79 489.30)">100</text>
<text x="114.84" y="489.30" font-size="7.6" fill="#1a1a1a" stroke="#1a1a1a" stroke-width="0.3" letter-spacing="-0.45" text-anchor="start" transform="rotate(-90 114.84 489.30)">1,000</text>
<text x="126.89" y="489.30" font-size="7.6" fill="#1a1a1a" stroke="#1a1a1a" stroke-width="0.3" letter-spacing="-0.45" text-anchor="start" transform="rotate(-90 126.89 489.30)">10,000</text>
<text x="172.4" y="457.7" font-size="7.35" text-anchor="middle" fill="#1a1a1a" stroke="#1a1a1a" stroke-width="0.18">HBEC-ER1</text>
<line x1="135.2" y1="461.8" x2="209.6" y2="461.8" stroke="#333" stroke-width="1.3"/>
<text x="145.34" y="489.30" font-size="7.6" fill="#1a1a1a" stroke="#1a1a1a" stroke-width="0.3" letter-spacing="-0.45" text-anchor="start" transform="rotate(-90 145.34 489.30)">0</text>
<text x="157.39" y="489.30" font-size="7.6" fill="#1a1a1a" stroke="#1a1a1a" stroke-width="0.3" letter-spacing="-0.45" text-anchor="start" transform="rotate(-90 157.39 489.30)">1</text>
<text x="169.44" y="489.30" font-size="7.6" fill="#1a1a1a" stroke="#1a1a1a" stroke-width="0.3" letter-spacing="-0.45" text-anchor="start" transform="rotate(-90 169.44 489.30)">10</text>
<text x="181.49" y="489.30" font-size="7.6" fill="#1a1a1a" stroke="#1a1a1a" stroke-width="0.3" letter-spacing="-0.45" text-anchor="start" transform="rotate(-90 181.49 489.30)">100</text>
<text x="193.54" y="489.30" font-size="7.6" fill="#1a1a1a" stroke="#1a1a1a" stroke-width="0.3" letter-spacing="-0.45" text-anchor="start" transform="rotate(-90 193.54 489.30)">1,000</text>
<text x="205.59" y="489.30" font-size="7.6" fill="#1a1a1a" stroke="#1a1a1a" stroke-width="0.3" letter-spacing="-0.45" text-anchor="start" transform="rotate(-90 205.59 489.30)">10,000</text>
<text x="276.8" y="457.7" font-size="7.35" text-anchor="middle" fill="#1a1a1a" stroke="#1a1a1a" stroke-width="0.18">NIH3T3</text>
<line x1="238" y1="461.8" x2="313.8" y2="461.8" stroke="#333" stroke-width="1.3"/>
<text x="248.14" y="489.30" font-size="7.6" fill="#1a1a1a" stroke="#1a1a1a" stroke-width="0.3" letter-spacing="-0.45" text-anchor="start" transform="rotate(-90 248.14 489.30)">0</text>
<text x="260.19" y="489.30" font-size="7.6" fill="#1a1a1a" stroke="#1a1a1a" stroke-width="0.3" letter-spacing="-0.45" text-anchor="start" transform="rotate(-90 260.19 489.30)">1</text>
<text x="272.24" y="489.30" font-size="7.6" fill="#1a1a1a" stroke="#1a1a1a" stroke-width="0.3" letter-spacing="-0.45" text-anchor="start" transform="rotate(-90 272.24 489.30)">10</text>
<text x="284.29" y="489.30" font-size="7.6" fill="#1a1a1a" stroke="#1a1a1a" stroke-width="0.3" letter-spacing="-0.45" text-anchor="start" transform="rotate(-90 284.29 489.30)">100</text>
<text x="296.34" y="489.30" font-size="7.6" fill="#1a1a1a" stroke="#1a1a1a" stroke-width="0.3" letter-spacing="-0.45" text-anchor="start" transform="rotate(-90 296.34 489.30)">1,000</text>
<text x="308.39" y="489.30" font-size="7.6" fill="#1a1a1a" stroke="#1a1a1a" stroke-width="0.3" letter-spacing="-0.45" text-anchor="start" transform="rotate(-90 308.39 489.30)">10,000</text>
<text x="352.6" y="457.7" font-size="7.35" text-anchor="middle" fill="#1a1a1a" stroke="#1a1a1a" stroke-width="0.18">3T3+SLC34A2/ROS1</text>
<line x1="315.9" y1="461.8" x2="390.2" y2="461.8" stroke="#333" stroke-width="1.3"/>
<text x="326.04" y="489.30" font-size="7.6" fill="#1a1a1a" stroke="#1a1a1a" stroke-width="0.3" letter-spacing="-0.45" text-anchor="start" transform="rotate(-90 326.04 489.30)">0</text>
<text x="338.09" y="489.30" font-size="7.6" fill="#1a1a1a" stroke="#1a1a1a" stroke-width="0.3" letter-spacing="-0.45" text-anchor="start" transform="rotate(-90 338.09 489.30)">1</text>
<text x="350.14" y="489.30" font-size="7.6" fill="#1a1a1a" stroke="#1a1a1a" stroke-width="0.3" letter-spacing="-0.45" text-anchor="start" transform="rotate(-90 350.14 489.30)">10</text>
<text x="362.19" y="489.30" font-size="7.6" fill="#1a1a1a" stroke="#1a1a1a" stroke-width="0.3" letter-spacing="-0.45" text-anchor="start" transform="rotate(-90 362.19 489.30)">100</text>
<text x="374.24" y="489.30" font-size="7.6" fill="#1a1a1a" stroke="#1a1a1a" stroke-width="0.3" letter-spacing="-0.45" text-anchor="start" transform="rotate(-90 374.24 489.30)">1,000</text>
<text x="386.29" y="489.30" font-size="7.6" fill="#1a1a1a" stroke="#1a1a1a" stroke-width="0.3" letter-spacing="-0.45" text-anchor="start" transform="rotate(-90 386.29 489.30)">10,000</text>
<text x="52.4" y="480.8" font-size="7.3" text-anchor="end" fill="#1a1a1a" stroke="#1a1a1a" stroke-width="0.18">Crizotinib</text>
<text x="52.6" y="489.3" font-size="7.3" text-anchor="end" fill="#1a1a1a" textLength="24.8" lengthAdjust="spacingAndGlyphs" stroke="#1a1a1a" stroke-width="0.18">(nmol/L)</text>
<text x="53.2" y="505.59999999999997" font-size="7.0" text-anchor="end" fill="#1a1a1a" stroke="#1a1a1a" stroke-width="0.18">ROS1</text>
<text x="53.2" y="532.4999999999999" font-size="7.0" text-anchor="end" fill="#1a1a1a" stroke="#1a1a1a" stroke-width="0.18">p-ROS1</text>
<text x="53.2" y="553.9" font-size="7.0" text-anchor="end" fill="#1a1a1a" stroke="#1a1a1a" stroke-width="0.18">MEK1/2</text>
<text x="53.2" y="568.15" font-size="7.0" text-anchor="end" fill="#1a1a1a" stroke="#1a1a1a" stroke-width="0.18">p-MEK1/2</text>
<text x="53.2" y="583.3" font-size="7.0" text-anchor="end" fill="#1a1a1a" stroke="#1a1a1a" stroke-width="0.18">ERK</text>
<text x="53.2" y="597.85" font-size="7.0" text-anchor="end" fill="#1a1a1a" stroke="#1a1a1a" stroke-width="0.18">p-ERK</text>
<text x="53.2" y="613.0500000000001" font-size="7.0" text-anchor="end" fill="#1a1a1a" stroke="#1a1a1a" stroke-width="0.18">AKT</text>
<text x="53.2" y="627.9" font-size="7.0" text-anchor="end" fill="#1a1a1a" stroke="#1a1a1a" stroke-width="0.18">p-AKT</text>
<text x="53.2" y="642.6" font-size="7.0" text-anchor="end" fill="#1a1a1a" stroke="#1a1a1a" stroke-width="0.18">p70S6K</text>
<text x="53.2" y="657.4499999999999" font-size="7.0" text-anchor="end" fill="#1a1a1a" stroke="#1a1a1a" stroke-width="0.18">p-p70S6K</text>
<text x="53.2" y="672.5" font-size="7.0" text-anchor="end" fill="#1a1a1a" stroke="#1a1a1a" stroke-width="0.18">S6</text>
<text x="53.2" y="687.0" font-size="7.0" text-anchor="end" fill="#1a1a1a" stroke="#1a1a1a" stroke-width="0.18">p-S6</text>
<text x="53.2" y="701.65" font-size="7.0" text-anchor="end" fill="#1a1a1a" stroke="#1a1a1a" stroke-width="0.18">GAPDH</text>
<rect x="56.5" y="492.3" width="75.30" height="24.20" fill="#9f9f9f" stroke="#5e5e5e" stroke-width="0.85"/>
<rect x="56.5" y="519.4" width="75.30" height="23.80" fill="#9f9f9f" stroke="#5e5e5e" stroke-width="0.85"/>
<rect x="56.5" y="545.5" width="75.30" height="12.00" fill="#9f9f9f" stroke="#5e5e5e" stroke-width="0.85"/>
<rect x="56.5" y="559.5" width="75.30" height="12.50" fill="#9f9f9f" stroke="#5e5e5e" stroke-width="0.85"/>
<rect x="56.5" y="574.4" width="75.30" height="13.00" fill="#9f9f9f" stroke="#5e5e5e" stroke-width="0.85"/>
<rect x="56.5" y="589.2" width="75.30" height="12.50" fill="#9f9f9f" stroke="#5e5e5e" stroke-width="0.85"/>
<rect x="56.5" y="604.6" width="75.30" height="12.10" fill="#9f9f9f" stroke="#5e5e5e" stroke-width="0.85"/>
<rect x="56.5" y="619" width="75.30" height="13.00" fill="#9f9f9f" stroke="#5e5e5e" stroke-width="0.85"/>
<rect x="56.5" y="634" width="75.30" height="12.40" fill="#9f9f9f" stroke="#5e5e5e" stroke-width="0.85"/>
<rect x="56.5" y="648.4" width="75.30" height="13.30" fill="#9f9f9f" stroke="#5e5e5e" stroke-width="0.85"/>
<rect x="56.5" y="664" width="75.30" height="12.20" fill="#9f9f9f" stroke="#5e5e5e" stroke-width="0.85"/>
<rect x="56.5" y="678" width="75.30" height="13.20" fill="#9f9f9f" stroke="#5e5e5e" stroke-width="0.85"/>
<rect x="56.5" y="693" width="75.30" height="12.50" fill="#9f9f9f" stroke="#5e5e5e" stroke-width="0.85"/>
<rect x="135.2" y="492.3" width="74.40" height="24.20" fill="#9f9f9f" stroke="#5e5e5e" stroke-width="0.85"/>
<rect x="135.2" y="519.4" width="74.40" height="23.80" fill="#9f9f9f" stroke="#5e5e5e" stroke-width="0.85"/>
<rect x="135.2" y="545.5" width="74.40" height="12.00" fill="#9f9f9f" stroke="#5e5e5e" stroke-width="0.85"/>
<rect x="135.2" y="559.5" width="74.40" height="12.50" fill="#9f9f9f" stroke="#5e5e5e" stroke-width="0.85"/>
<rect x="135.2" y="574.4" width="74.40" height="13.00" fill="#9f9f9f" stroke="#5e5e5e" stroke-width="0.85"/>
<rect x="135.2" y="589.2" width="74.40" height="12.50" fill="#9f9f9f" stroke="#5e5e5e" stroke-width="0.85"/>
<rect x="135.2" y="604.6" width="74.40" height="12.10" fill="#9f9f9f" stroke="#5e5e5e" stroke-width="0.85"/>
<rect x="135.2" y="619" width="74.40" height="13.00" fill="#9f9f9f" stroke="#5e5e5e" stroke-width="0.85"/>
<rect x="135.2" y="634" width="74.40" height="12.40" fill="#9f9f9f" stroke="#5e5e5e" stroke-width="0.85"/>
<rect x="135.2" y="648.4" width="74.40" height="13.30" fill="#9f9f9f" stroke="#5e5e5e" stroke-width="0.85"/>
<rect x="135.2" y="664" width="74.40" height="12.20" fill="#9f9f9f" stroke="#5e5e5e" stroke-width="0.85"/>
<rect x="135.2" y="678" width="74.40" height="13.20" fill="#9f9f9f" stroke="#5e5e5e" stroke-width="0.85"/>
<rect x="135.2" y="693" width="74.40" height="12.50" fill="#9f9f9f" stroke="#5e5e5e" stroke-width="0.85"/>
<rect x="238" y="492.3" width="75.80" height="24.20" fill="#9f9f9f" stroke="#5e5e5e" stroke-width="0.85"/>
<rect x="238" y="519.4" width="75.80" height="23.80" fill="#9f9f9f" stroke="#5e5e5e" stroke-width="0.85"/>
<rect x="238" y="545.5" width="75.80" height="12.00" fill="#9f9f9f" stroke="#5e5e5e" stroke-width="0.85"/>
<rect x="238" y="559.5" width="75.80" height="12.50" fill="#9f9f9f" stroke="#5e5e5e" stroke-width="0.85"/>
<rect x="238" y="574.4" width="75.80" height="13.00" fill="#9f9f9f" stroke="#5e5e5e" stroke-width="0.85"/>
<rect x="238" y="589.2" width="75.80" height="12.50" fill="#9f9f9f" stroke="#5e5e5e" stroke-width="0.85"/>
<rect x="238" y="604.6" width="75.80" height="12.10" fill="#9f9f9f" stroke="#5e5e5e" stroke-width="0.85"/>
<rect x="238" y="619" width="75.80" height="13.00" fill="#9f9f9f" stroke="#5e5e5e" stroke-width="0.85"/>
<rect x="238" y="634" width="75.80" height="12.40" fill="#9f9f9f" stroke="#5e5e5e" stroke-width="0.85"/>
<rect x="238" y="648.4" width="75.80" height="13.30" fill="#9f9f9f" stroke="#5e5e5e" stroke-width="0.85"/>
<rect x="238" y="664" width="75.80" height="12.20" fill="#9f9f9f" stroke="#5e5e5e" stroke-width="0.85"/>
<rect x="238" y="678" width="75.80" height="13.20" fill="#9f9f9f" stroke="#222" stroke-width="1.1"/>
<rect x="238" y="693" width="75.80" height="12.50" fill="#9f9f9f" stroke="#5e5e5e" stroke-width="0.85"/>
<rect x="315.9" y="492.3" width="74.30" height="24.20" fill="#9f9f9f" stroke="#5e5e5e" stroke-width="0.85"/>
<rect x="315.9" y="519.4" width="74.30" height="23.80" fill="#9f9f9f" stroke="#5e5e5e" stroke-width="0.85"/>
<rect x="315.9" y="545.5" width="74.30" height="12.00" fill="#9f9f9f" stroke="#5e5e5e" stroke-width="0.85"/>
<rect x="315.9" y="559.5" width="74.30" height="12.50" fill="#9f9f9f" stroke="#5e5e5e" stroke-width="0.85"/>
<rect x="315.9" y="574.4" width="74.30" height="13.00" fill="#9f9f9f" stroke="#5e5e5e" stroke-width="0.85"/>
<rect x="315.9" y="589.2" width="74.30" height="12.50" fill="#9f9f9f" stroke="#5e5e5e" stroke-width="0.85"/>
<rect x="315.9" y="604.6" width="74.30" height="12.10" fill="#9f9f9f" stroke="#5e5e5e" stroke-width="0.85"/>
<rect x="315.9" y="619" width="74.30" height="13.00" fill="#9f9f9f" stroke="#5e5e5e" stroke-width="0.85"/>
<rect x="315.9" y="634" width="74.30" height="12.40" fill="#9f9f9f" stroke="#5e5e5e" stroke-width="0.85"/>
<rect x="315.9" y="648.4" width="74.30" height="13.30" fill="#9f9f9f" stroke="#5e5e5e" stroke-width="0.85"/>
<rect x="315.9" y="664" width="74.30" height="12.20" fill="#9f9f9f" stroke="#5e5e5e" stroke-width="0.85"/>
<rect x="315.9" y="678" width="74.30" height="13.20" fill="#9f9f9f" stroke="#5e5e5e" stroke-width="0.85"/>
<rect x="315.9" y="693" width="74.30" height="12.50" fill="#9f9f9f" stroke="#5e5e5e" stroke-width="0.85"/>
<ellipse cx="65.00" cy="551.50" rx="4.04" ry="3.68" fill="url(#bandg)" opacity="1" filter="url(#bb2)"/>
<ellipse cx="76.55" cy="551.50" rx="4.46" ry="3.68" fill="url(#bandg)" opacity="1" filter="url(#bb2)"/>
<ellipse cx="88.10" cy="551.50" rx="4.04" ry="3.41" fill="url(#bandg)" opacity="1" filter="url(#bb2)"/>
<ellipse cx="99.65" cy="551.50" rx="2.84" ry="2.36" fill="url(#bandg)" opacity="1" filter="url(#bb2)"/>
<ellipse cx="111.20" cy="551.50" rx="4.04" ry="3.41" fill="url(#bandg)" opacity="1" filter="url(#bb2)"/>
<ellipse cx="122.75" cy="551.50" rx="4.73" ry="3.68" fill="url(#bandg)" opacity="1" filter="url(#bb2)"/>
<ellipse cx="65.00" cy="565.75" rx="5.51" ry="3.78" fill="url(#bandg)" opacity="1" filter="url(#bb2)"/>
<ellipse cx="76.55" cy="565.75" rx="5.51" ry="3.78" fill="url(#bandg)" opacity="1" filter="url(#bb2)"/>
<ellipse cx="88.10" cy="565.75" rx="5.51" ry="3.78" fill="url(#bandg)" opacity="1" filter="url(#bb2)"/>
<ellipse cx="99.65" cy="565.75" rx="5.51" ry="3.78" fill="url(#bandg)" opacity="1" filter="url(#bb2)"/>
<ellipse cx="111.20" cy="565.75" rx="4.20" ry="3.15" fill="url(#bandg)" opacity="1" filter="url(#bb2)"/>
<ellipse cx="122.75" cy="565.75" rx="1.58" ry="1.05" fill="url(#bandg)" opacity="0.15" filter="url(#bb2)"/>
<ellipse cx="65.00" cy="578.60" rx="3.30" ry="2.40" fill="url(#bandg)" opacity="1.0" filter="url(#bb2)"/>
<ellipse cx="65.00" cy="583.20" rx="3.80" ry="2.40" fill="url(#bandg)" opacity="1.0" filter="url(#bb2)"/>
<ellipse cx="76.55" cy="578.60" rx="3.30" ry="2.40" fill="url(#bandg)" opacity="1.0" filter="url(#bb2)"/>
<ellipse cx="76.55" cy="583.20" rx="3.80" ry="2.40" fill="url(#bandg)" opacity="1.0" filter="url(#bb2)"/>
<ellipse cx="88.10" cy="578.60" rx="3.30" ry="2.40" fill="url(#bandg)" opacity="1.0" filter="url(#bb2)"/>
<ellipse cx="88.10" cy="583.20" rx="3.80" ry="2.40" fill="url(#bandg)" opacity="1.0" filter="url(#bb2)"/>
<ellipse cx="99.65" cy="578.60" rx="3.30" ry="2.40" fill="url(#bandg)" opacity="1.0" filter="url(#bb2)"/>
<ellipse cx="99.65" cy="583.20" rx="3.80" ry="2.40" fill="url(#bandg)" opacity="1.0" filter="url(#bb2)"/>
<ellipse cx="111.20" cy="578.60" rx="3.30" ry="2.40" fill="url(#bandg)" opacity="1.0" filter="url(#bb2)"/>
<ellipse cx="111.20" cy="583.20" rx="3.80" ry="2.40" fill="url(#bandg)" opacity="1.0" filter="url(#bb2)"/>
<ellipse cx="122.75" cy="578.60" rx="3.30" ry="2.40" fill="url(#bandg)" opacity="1.0" filter="url(#bb2)"/>
<ellipse cx="122.75" cy="583.20" rx="3.80" ry="2.40" fill="url(#bandg)" opacity="1.0" filter="url(#bb2)"/>
<ellipse cx="65.00" cy="595.45" rx="5.25" ry="4.73" fill="url(#bandg)" opacity="1" filter="url(#bb2)"/>
<ellipse cx="76.55" cy="595.45" rx="5.25" ry="4.73" fill="url(#bandg)" opacity="1" filter="url(#bb2)"/>
<ellipse cx="88.10" cy="595.45" rx="4.99" ry="4.73" fill="url(#bandg)" opacity="1" filter="url(#bb2)"/>
<ellipse cx="99.65" cy="595.45" rx="4.73" ry="4.73" fill="url(#bandg)" opacity="1" filter="url(#bb2)"/>
<ellipse cx="111.20" cy="595.45" rx="4.20" ry="3.94" fill="url(#bandg)" opacity="1" filter="url(#bb2)"/>
<ellipse cx="65.00" cy="610.65" rx="2.62" ry="1.31" fill="url(#bandg)" opacity="1" filter="url(#bb2)"/>
<ellipse cx="76.55" cy="610.65" rx="2.62" ry="1.31" fill="url(#bandg)" opacity="1" filter="url(#bb2)"/>
<ellipse cx="88.10" cy="610.65" rx="2.62" ry="1.31" fill="url(#bandg)" opacity="1" filter="url(#bb2)"/>
<ellipse cx="99.65" cy="610.65" rx="2.62" ry="1.31" fill="url(#bandg)" opacity="1" filter="url(#bb2)"/>
<ellipse cx="111.20" cy="610.65" rx="2.62" ry="1.31" fill="url(#bandg)" opacity="1" filter="url(#bb2)"/>
<ellipse cx="122.75" cy="610.65" rx="2.62" ry="1.31" fill="url(#bandg)" opacity="1" filter="url(#bb2)"/>
<ellipse cx="65.00" cy="625.50" rx="4.99" ry="3.94" fill="url(#bandg)" opacity="1" filter="url(#bb2)"/>
<ellipse cx="76.55" cy="625.50" rx="4.99" ry="3.94" fill="url(#bandg)" opacity="1" filter="url(#bb2)"/>
<ellipse cx="88.10" cy="625.50" rx="4.99" ry="3.94" fill="url(#bandg)" opacity="1" filter="url(#bb2)"/>
<ellipse cx="99.65" cy="625.50" rx="4.99" ry="3.94" fill="url(#bandg)" opacity="1" filter="url(#bb2)"/>
<ellipse cx="111.20" cy="625.50" rx="3.94" ry="3.15" fill="url(#bandg)" opacity="1" filter="url(#bb2)"/>
<ellipse cx="65.00" cy="641.00" rx="3.94" ry="2.36" fill="url(#bandg)" opacity="1" filter="url(#bb2)"/>
<ellipse cx="76.55" cy="641.00" rx="3.94" ry="2.36" fill="url(#bandg)" opacity="1" filter="url(#bb2)"/>
<ellipse cx="88.10" cy="641.00" rx="3.94" ry="2.36" fill="url(#bandg)" opacity="1" filter="url(#bb2)"/>
<ellipse cx="99.65" cy="641.00" rx="3.94" ry="2.36" fill="url(#bandg)" opacity="1" filter="url(#bb2)"/>
<ellipse cx="111.20" cy="641.00" rx="3.94" ry="2.36" fill="url(#bandg)" opacity="1" filter="url(#bb2)"/>
<ellipse cx="122.75" cy="641.00" rx="3.94" ry="2.36" fill="url(#bandg)" opacity="1" filter="url(#bb2)"/>
<ellipse cx="65.00" cy="637.20" rx="2.75" ry="1.00" fill="url(#bandg)" opacity="0.4" filter="url(#bb2)"/>
<ellipse cx="76.55" cy="637.20" rx="2.75" ry="1.00" fill="url(#bandg)" opacity="0.4" filter="url(#bb2)"/>
<ellipse cx="88.10" cy="637.20" rx="2.75" ry="1.00" fill="url(#bandg)" opacity="0.4" filter="url(#bb2)"/>
<ellipse cx="99.65" cy="637.20" rx="2.75" ry="1.00" fill="url(#bandg)" opacity="0.4" filter="url(#bb2)"/>
<ellipse cx="111.20" cy="637.20" rx="2.75" ry="1.00" fill="url(#bandg)" opacity="0.4" filter="url(#bb2)"/>
<ellipse cx="122.75" cy="637.20" rx="2.75" ry="1.00" fill="url(#bandg)" opacity="0.4" filter="url(#bb2)"/>
<ellipse cx="65.00" cy="652.75" rx="3.30" ry="2.40" fill="url(#bandg)" opacity="1.0" filter="url(#bb2)"/>
<ellipse cx="65.00" cy="657.35" rx="3.80" ry="2.40" fill="url(#bandg)" opacity="1.0" filter="url(#bb2)"/>
<ellipse cx="76.55" cy="652.75" rx="3.30" ry="2.40" fill="url(#bandg)" opacity="1.0" filter="url(#bb2)"/>
<ellipse cx="76.55" cy="657.35" rx="3.80" ry="2.40" fill="url(#bandg)" opacity="1.0" filter="url(#bb2)"/>
<ellipse cx="88.10" cy="652.75" rx="3.30" ry="2.40" fill="url(#bandg)" opacity="1.0" filter="url(#bb2)"/>
<ellipse cx="88.10" cy="657.35" rx="3.80" ry="2.40" fill="url(#bandg)" opacity="1.0" filter="url(#bb2)"/>
<ellipse cx="99.65" cy="652.75" rx="3.30" ry="2.40" fill="url(#bandg)" opacity="1.0" filter="url(#bb2)"/>
<ellipse cx="99.65" cy="657.35" rx="3.80" ry="2.40" fill="url(#bandg)" opacity="1.0" filter="url(#bb2)"/>
<ellipse cx="111.20" cy="652.85" rx="2.50" ry="1.50" fill="url(#bandg)" opacity="0.3" filter="url(#bb2)"/>
<ellipse cx="111.20" cy="657.25" rx="2.50" ry="1.50" fill="url(#bandg)" opacity="0.3" filter="url(#bb2)"/>
<ellipse cx="65.00" cy="670.10" rx="5.51" ry="2.73" fill="url(#bandg)" opacity="1" filter="url(#bb2)"/>
<ellipse cx="76.55" cy="670.10" rx="5.51" ry="2.73" fill="url(#bandg)" opacity="1" filter="url(#bb2)"/>
<ellipse cx="88.10" cy="670.10" rx="5.51" ry="2.73" fill="url(#bandg)" opacity="1" filter="url(#bb2)"/>
<ellipse cx="99.65" cy="670.10" rx="5.51" ry="2.73" fill="url(#bandg)" opacity="1" filter="url(#bb2)"/>
<ellipse cx="111.20" cy="670.10" rx="5.51" ry="2.73" fill="url(#bandg)" opacity="1" filter="url(#bb2)"/>
<ellipse cx="122.75" cy="670.10" rx="5.51" ry="2.73" fill="url(#bandg)" opacity="1" filter="url(#bb2)"/>
<ellipse cx="65.00" cy="684.60" rx="4.83" ry="3.41" fill="url(#bandg)" opacity="1" filter="url(#bb2)"/>
<ellipse cx="76.55" cy="684.60" rx="4.83" ry="3.41" fill="url(#bandg)" opacity="1" filter="url(#bb2)"/>
<ellipse cx="88.10" cy="684.60" rx="4.83" ry="3.41" fill="url(#bandg)" opacity="1" filter="url(#bb2)"/>
<ellipse cx="99.65" cy="684.60" rx="4.83" ry="3.41" fill="url(#bandg)" opacity="1" filter="url(#bb2)"/>
<ellipse cx="111.20" cy="684.60" rx="4.83" ry="3.41" fill="url(#bandg)" opacity="1" filter="url(#bb2)"/>
<ellipse cx="122.75" cy="684.60" rx="2.10" ry="1.05" fill="url(#bandg)" opacity="0.12" filter="url(#bb2)"/>
<ellipse cx="65.00" cy="699.25" rx="5.15" ry="2.52" fill="url(#bandg)" opacity="1" filter="url(#bb2)"/>
<ellipse cx="76.55" cy="699.25" rx="5.15" ry="2.52" fill="url(#bandg)" opacity="1" filter="url(#bb2)"/>
<ellipse cx="88.10" cy="699.25" rx="5.15" ry="2.52" fill="url(#bandg)" opacity="1" filter="url(#bb2)"/>
<ellipse cx="99.65" cy="699.25" rx="5.15" ry="2.52" fill="url(#bandg)" opacity="1" filter="url(#bb2)"/>
<ellipse cx="111.20" cy="699.25" rx="5.15" ry="2.52" fill="url(#bandg)" opacity="1" filter="url(#bb2)"/>
<ellipse cx="122.75" cy="699.25" rx="5.15" ry="2.52" fill="url(#bandg)" opacity="1" filter="url(#bb2)"/>
<ellipse cx="143.70" cy="505.30" rx="4.04" ry="3.04" fill="url(#bandg)" opacity="1" filter="url(#bb2)"/>
<ellipse cx="155.25" cy="505.30" rx="4.04" ry="3.04" fill="url(#bandg)" opacity="1" filter="url(#bb2)"/>
<ellipse cx="166.80" cy="505.30" rx="4.04" ry="3.04" fill="url(#bandg)" opacity="1" filter="url(#bb2)"/>
<ellipse cx="178.35" cy="505.30" rx="4.04" ry="3.04" fill="url(#bandg)" opacity="1" filter="url(#bb2)"/>
<ellipse cx="189.90" cy="505.30" rx="4.04" ry="3.04" fill="url(#bandg)" opacity="1" filter="url(#bb2)"/>
<ellipse cx="201.45" cy="505.30" rx="4.04" ry="3.04" fill="url(#bandg)" opacity="1" filter="url(#bb2)"/>
<ellipse cx="143.70" cy="532.50" rx="4.46" ry="3.15" fill="url(#bandg)" opacity="1" filter="url(#bb2)"/>
<ellipse cx="155.25" cy="532.50" rx="4.46" ry="3.15" fill="url(#bandg)" opacity="1" filter="url(#bb2)"/>
<ellipse cx="166.80" cy="532.50" rx="2.62" ry="1.31" fill="url(#bandg)" opacity="1" filter="url(#bb2)"/>
<ellipse cx="178.35" cy="532.50" rx="3.15" ry="1.05" fill="url(#bandg)" opacity="0.25" filter="url(#bb2)"/>
<ellipse cx="143.70" cy="551.50" rx="4.73" ry="3.68" fill="url(#bandg)" opacity="1" filter="url(#bb2)"/>
<ellipse cx="155.25" cy="551.50" rx="4.73" ry="3.68" fill="url(#bandg)" opacity="1" filter="url(#bb2)"/>
<ellipse cx="166.80" cy="551.50" rx="4.73" ry="3.68" fill="url(#bandg)" opacity="1" filter="url(#bb2)"/>
<ellipse cx="178.35" cy="551.50" rx="4.73" ry="3.68" fill="url(#bandg)" opacity="1" filter="url(#bb2)"/>
<ellipse cx="189.90" cy="551.50" rx="4.73" ry="3.68" fill="url(#bandg)" opacity="1" filter="url(#bb2)"/>
<ellipse cx="201.45" cy="551.50" rx="4.73" ry="3.68" fill="url(#bandg)" opacity="1" filter="url(#bb2)"/>
<ellipse cx="143.70" cy="565.75" rx="6.04" ry="4.20" fill="url(#bandg)" opacity="1" filter="url(#bb2)"/>
<ellipse cx="155.25" cy="565.75" rx="6.04" ry="4.20" fill="url(#bandg)" opacity="1" filter="url(#bb2)"/>
<ellipse cx="166.80" cy="565.75" rx="6.04" ry="4.20" fill="url(#bandg)" opacity="1" filter="url(#bb2)"/>
<ellipse cx="178.35" cy="565.75" rx="4.20" ry="2.62" fill="url(#bandg)" opacity="1" filter="url(#bb2)"/>
<ellipse cx="189.90" cy="565.75" rx="2.10" ry="1.05" fill="url(#bandg)" opacity="0.8" filter="url(#bb2)"/>
<ellipse cx="143.70" cy="578.70" rx="4.10" ry="1.70" fill="url(#bandg)" opacity="1.0" filter="url(#bb2)"/>
<ellipse cx="143.70" cy="583.10" rx="4.30" ry="1.80" fill="url(#bandg)" opacity="1.0" filter="url(#bb2)"/>
<ellipse cx="155.25" cy="578.70" rx="4.10" ry="1.70" fill="url(#bandg)" opacity="1.0" filter="url(#bb2)"/>
<ellipse cx="155.25" cy="583.10" rx="4.30" ry="1.80" fill="url(#bandg)" opacity="1.0" filter="url(#bb2)"/>
<ellipse cx="166.80" cy="578.70" rx="4.10" ry="1.70" fill="url(#bandg)" opacity="1.0" filter="url(#bb2)"/>
<ellipse cx="166.80" cy="583.10" rx="4.30" ry="1.80" fill="url(#bandg)" opacity="1.0" filter="url(#bb2)"/>
<ellipse cx="178.35" cy="578.70" rx="4.10" ry="1.70" fill="url(#bandg)" opacity="1.0" filter="url(#bb2)"/>
<ellipse cx="178.35" cy="583.10" rx="4.30" ry="1.80" fill="url(#bandg)" opacity="1.0" filter="url(#bb2)"/>
<ellipse cx="189.90" cy="578.70" rx="4.10" ry="1.70" fill="url(#bandg)" opacity="1.0" filter="url(#bb2)"/>
<ellipse cx="189.90" cy="583.10" rx="4.30" ry="1.80" fill="url(#bandg)" opacity="1.0" filter="url(#bb2)"/>
<ellipse cx="201.45" cy="578.70" rx="4.10" ry="1.70" fill="url(#bandg)" opacity="1.0" filter="url(#bb2)"/>
<ellipse cx="201.45" cy="583.10" rx="4.30" ry="1.80" fill="url(#bandg)" opacity="1.0" filter="url(#bb2)"/>
<ellipse cx="143.70" cy="595.45" rx="5.51" ry="4.73" fill="url(#bandg)" opacity="1" filter="url(#bb2)"/>
<ellipse cx="155.25" cy="595.45" rx="5.51" ry="4.73" fill="url(#bandg)" opacity="1" filter="url(#bb2)"/>
<ellipse cx="166.80" cy="595.45" rx="5.25" ry="4.20" fill="url(#bandg)" opacity="1" filter="url(#bb2)"/>
<ellipse cx="178.35" cy="595.45" rx="4.73" ry="3.15" fill="url(#bandg)" opacity="1" filter="url(#bb2)"/>
<ellipse cx="189.90" cy="595.45" rx="3.15" ry="1.58" fill="url(#bandg)" opacity="1" filter="url(#bb2)"/>
<ellipse cx="201.45" cy="595.45" rx="1.58" ry="1.05" fill="url(#bandg)" opacity="0.15" filter="url(#bb2)"/>
<ellipse cx="143.70" cy="610.65" rx="4.46" ry="2.52" fill="url(#bandg)" opacity="1" filter="url(#bb2)"/>
<ellipse cx="155.25" cy="610.65" rx="4.46" ry="2.52" fill="url(#bandg)" opacity="1" filter="url(#bb2)"/>
<ellipse cx="166.80" cy="610.65" rx="4.46" ry="2.52" fill="url(#bandg)" opacity="1" filter="url(#bb2)"/>
<ellipse cx="178.35" cy="610.65" rx="4.46" ry="2.52" fill="url(#bandg)" opacity="1" filter="url(#bb2)"/>
<ellipse cx="189.90" cy="610.65" rx="3.94" ry="2.10" fill="url(#bandg)" opacity="1" filter="url(#bb2)"/>
<ellipse cx="201.45" cy="610.65" rx="3.94" ry="2.10" fill="url(#bandg)" opacity="1" filter="url(#bb2)"/>
<ellipse cx="143.70" cy="625.50" rx="5.51" ry="3.94" fill="url(#bandg)" opacity="1" filter="url(#bb2)"/>
<ellipse cx="155.25" cy="625.50" rx="5.51" ry="3.94" fill="url(#bandg)" opacity="1" filter="url(#bb2)"/>
<ellipse cx="166.80" cy="625.50" rx="5.51" ry="3.94" fill="url(#bandg)" opacity="1" filter="url(#bb2)"/>
<ellipse cx="178.35" cy="625.50" rx="4.46" ry="3.15" fill="url(#bandg)" opacity="1" filter="url(#bb2)"/>
<ellipse cx="189.90" cy="625.50" rx="3.15" ry="1.58" fill="url(#bandg)" opacity="1" filter="url(#bb2)"/>
<ellipse cx="201.45" cy="625.50" rx="2.62" ry="1.31" fill="url(#bandg)" opacity="1" filter="url(#bb2)"/>
<ellipse cx="143.70" cy="641.20" rx="4.46" ry="2.36" fill="url(#bandg)" opacity="1" filter="url(#bb2)"/>
<ellipse cx="155.25" cy="641.20" rx="4.46" ry="2.36" fill="url(#bandg)" opacity="1" filter="url(#bb2)"/>
<ellipse cx="166.80" cy="641.20" rx="4.46" ry="2.36" fill="url(#bandg)" opacity="1" filter="url(#bb2)"/>
<ellipse cx="178.35" cy="641.20" rx="4.46" ry="2.36" fill="url(#bandg)" opacity="1" filter="url(#bb2)"/>
<ellipse cx="189.90" cy="641.20" rx="4.46" ry="2.36" fill="url(#bandg)" opacity="1" filter="url(#bb2)"/>
<ellipse cx="201.45" cy="640.80" rx="5.25" ry="2.89" fill="url(#bandg)" opacity="1" filter="url(#bb2)"/>
<ellipse cx="143.70" cy="637.20" rx="2.75" ry="1.00" fill="url(#bandg)" opacity="0.4" filter="url(#bb2)"/>
<ellipse cx="155.25" cy="637.20" rx="2.75" ry="1.00" fill="url(#bandg)" opacity="0.4" filter="url(#bb2)"/>
<ellipse cx="166.80" cy="637.20" rx="2.75" ry="1.00" fill="url(#bandg)" opacity="0.4" filter="url(#bb2)"/>
<ellipse cx="178.35" cy="637.20" rx="2.75" ry="1.00" fill="url(#bandg)" opacity="0.4" filter="url(#bb2)"/>
<ellipse cx="189.90" cy="637.20" rx="2.75" ry="1.00" fill="url(#bandg)" opacity="0.4" filter="url(#bb2)"/>
<ellipse cx="201.45" cy="637.20" rx="2.75" ry="1.00" fill="url(#bandg)" opacity="0.4" filter="url(#bb2)"/>
<ellipse cx="143.70" cy="652.85" rx="3.00" ry="1.30" fill="url(#bandg)" opacity="0.6" filter="url(#bb2)"/>
<ellipse cx="143.70" cy="656.65" rx="3.75" ry="1.60" fill="url(#bandg)" opacity="1.0" filter="url(#bb2)"/>
<ellipse cx="155.25" cy="652.85" rx="4.00" ry="1.75" fill="url(#bandg)" opacity="1.0" filter="url(#bb2)"/>
<ellipse cx="155.25" cy="657.05" rx="4.25" ry="1.90" fill="url(#bandg)" opacity="1.0" filter="url(#bb2)"/>
<ellipse cx="166.80" cy="652.85" rx="4.00" ry="1.75" fill="url(#bandg)" opacity="1.0" filter="url(#bb2)"/>
<ellipse cx="166.80" cy="657.05" rx="4.25" ry="1.90" fill="url(#bandg)" opacity="1.0" filter="url(#bb2)"/>
<ellipse cx="178.35" cy="652.85" rx="4.00" ry="1.75" fill="url(#bandg)" opacity="1.0" filter="url(#bb2)"/>
<ellipse cx="178.35" cy="657.05" rx="4.25" ry="1.90" fill="url(#bandg)" opacity="1.0" filter="url(#bb2)"/>
<ellipse cx="189.90" cy="653.05" rx="3.00" ry="1.25" fill="url(#bandg)" opacity="0.7" filter="url(#bb2)"/>
<ellipse cx="189.90" cy="657.45" rx="2.50" ry="1.25" fill="url(#bandg)" opacity="0.35" filter="url(#bb2)"/>
<ellipse cx="201.45" cy="655.25" rx="3.25" ry="1.50" fill="url(#bandg)" opacity="1.0" filter="url(#bb2)"/>
<ellipse cx="143.70" cy="670.10" rx="5.51" ry="2.52" fill="url(#bandg)" opacity="1" filter="url(#bb2)"/>
<ellipse cx="155.25" cy="670.10" rx="5.51" ry="2.52" fill="url(#bandg)" opacity="1" filter="url(#bb2)"/>
<ellipse cx="166.80" cy="670.10" rx="5.51" ry="2.52" fill="url(#bandg)" opacity="1" filter="url(#bb2)"/>
<ellipse cx="178.35" cy="670.10" rx="5.51" ry="2.52" fill="url(#bandg)" opacity="1" filter="url(#bb2)"/>
<ellipse cx="189.90" cy="670.10" rx="5.51" ry="2.52" fill="url(#bandg)" opacity="1" filter="url(#bb2)"/>
<ellipse cx="201.45" cy="670.10" rx="5.51" ry="2.52" fill="url(#bandg)" opacity="1" filter="url(#bb2)"/>
<ellipse cx="143.70" cy="684.60" rx="4.99" ry="3.41" fill="url(#bandg)" opacity="1" filter="url(#bb2)"/>
<ellipse cx="155.25" cy="684.60" rx="4.99" ry="3.41" fill="url(#bandg)" opacity="1" filter="url(#bb2)"/>
<ellipse cx="166.80" cy="684.60" rx="4.99" ry="3.41" fill="url(#bandg)" opacity="1" filter="url(#bb2)"/>
<ellipse cx="178.35" cy="684.60" rx="4.99" ry="3.41" fill="url(#bandg)" opacity="1" filter="url(#bb2)"/>
<ellipse cx="189.90" cy="684.60" rx="4.99" ry="3.41" fill="url(#bandg)" opacity="1" filter="url(#bb2)"/>
<ellipse cx="201.45" cy="684.60" rx="3.41" ry="2.10" fill="url(#bandg)" opacity="1" filter="url(#bb2)"/>
<ellipse cx="143.70" cy="699.25" rx="5.51" ry="2.52" fill="url(#bandg)" opacity="1" filter="url(#bb2)"/>
<ellipse cx="155.25" cy="699.25" rx="5.51" ry="2.52" fill="url(#bandg)" opacity="1" filter="url(#bb2)"/>
<ellipse cx="166.80" cy="699.25" rx="5.51" ry="2.52" fill="url(#bandg)" opacity="1" filter="url(#bb2)"/>
<ellipse cx="178.35" cy="699.25" rx="5.51" ry="2.52" fill="url(#bandg)" opacity="1" filter="url(#bb2)"/>
<ellipse cx="189.90" cy="699.25" rx="5.51" ry="2.52" fill="url(#bandg)" opacity="1" filter="url(#bb2)"/>
<ellipse cx="201.45" cy="699.25" rx="5.51" ry="2.52" fill="url(#bandg)" opacity="1" filter="url(#bb2)"/>
<ellipse cx="246.50" cy="551.50" rx="4.46" ry="2.89" fill="url(#bandg)" opacity="1" filter="url(#bb2)"/>
<ellipse cx="258.05" cy="551.50" rx="4.46" ry="2.89" fill="url(#bandg)" opacity="1" filter="url(#bb2)"/>
<ellipse cx="269.60" cy="551.50" rx="4.46" ry="2.89" fill="url(#bandg)" opacity="1" filter="url(#bb2)"/>
<ellipse cx="281.15" cy="551.50" rx="4.46" ry="2.89" fill="url(#bandg)" opacity="1" filter="url(#bb2)"/>
<ellipse cx="292.70" cy="551.50" rx="4.46" ry="2.89" fill="url(#bandg)" opacity="1" filter="url(#bb2)"/>
<ellipse cx="304.25" cy="551.50" rx="4.46" ry="2.89" fill="url(#bandg)" opacity="1" filter="url(#bb2)"/>
<ellipse cx="246.50" cy="565.75" rx="4.46" ry="3.68" fill="url(#bandg)" opacity="1" filter="url(#bb2)"/>
<ellipse cx="258.05" cy="565.75" rx="4.46" ry="3.68" fill="url(#bandg)" opacity="1" filter="url(#bb2)"/>
<ellipse cx="269.60" cy="565.75" rx="4.46" ry="3.68" fill="url(#bandg)" opacity="1" filter="url(#bb2)"/>
<ellipse cx="281.15" cy="565.75" rx="3.94" ry="2.89" fill="url(#bandg)" opacity="1" filter="url(#bb2)"/>
<ellipse cx="292.70" cy="565.75" rx="3.94" ry="2.89" fill="url(#bandg)" opacity="1" filter="url(#bb2)"/>
<ellipse cx="304.25" cy="565.75" rx="2.10" ry="1.05" fill="url(#bandg)" opacity="0.4" filter="url(#bb2)"/>
<ellipse cx="246.50" cy="578.60" rx="3.30" ry="2.40" fill="url(#bandg)" opacity="1.0" filter="url(#bb2)"/>
<ellipse cx="246.50" cy="583.20" rx="3.80" ry="2.40" fill="url(#bandg)" opacity="1.0" filter="url(#bb2)"/>
<ellipse cx="258.05" cy="578.60" rx="3.30" ry="2.40" fill="url(#bandg)" opacity="1.0" filter="url(#bb2)"/>
<ellipse cx="258.05" cy="583.20" rx="3.80" ry="2.40" fill="url(#bandg)" opacity="1.0" filter="url(#bb2)"/>
<ellipse cx="269.60" cy="578.60" rx="3.30" ry="2.40" fill="url(#bandg)" opacity="1.0" filter="url(#bb2)"/>
<ellipse cx="269.60" cy="583.20" rx="3.80" ry="2.40" fill="url(#bandg)" opacity="1.0" filter="url(#bb2)"/>
<ellipse cx="281.15" cy="578.60" rx="3.30" ry="2.40" fill="url(#bandg)" opacity="1.0" filter="url(#bb2)"/>
<ellipse cx="281.15" cy="583.20" rx="3.80" ry="2.40" fill="url(#bandg)" opacity="1.0" filter="url(#bb2)"/>
<ellipse cx="292.70" cy="578.60" rx="3.30" ry="2.40" fill="url(#bandg)" opacity="1.0" filter="url(#bb2)"/>
<ellipse cx="292.70" cy="583.20" rx="3.80" ry="2.40" fill="url(#bandg)" opacity="1.0" filter="url(#bb2)"/>
<ellipse cx="304.25" cy="578.60" rx="3.30" ry="2.40" fill="url(#bandg)" opacity="1.0" filter="url(#bb2)"/>
<ellipse cx="304.25" cy="583.20" rx="3.80" ry="2.40" fill="url(#bandg)" opacity="1.0" filter="url(#bb2)"/>
<ellipse cx="246.50" cy="595.45" rx="4.83" ry="4.73" fill="url(#bandg)" opacity="1" filter="url(#bb2)"/>
<ellipse cx="258.05" cy="595.45" rx="4.83" ry="4.73" fill="url(#bandg)" opacity="1" filter="url(#bb2)"/>
<ellipse cx="269.60" cy="595.45" rx="4.83" ry="4.73" fill="url(#bandg)" opacity="1" filter="url(#bb2)"/>
<ellipse cx="281.15" cy="595.45" rx="4.83" ry="4.73" fill="url(#bandg)" opacity="1" filter="url(#bb2)"/>
<ellipse cx="292.70" cy="595.45" rx="4.83" ry="4.73" fill="url(#bandg)" opacity="1" filter="url(#bb2)"/>
<ellipse cx="304.25" cy="595.45" rx="3.15" ry="2.62" fill="url(#bandg)" opacity="1" filter="url(#bb2)"/>
<ellipse cx="246.50" cy="610.65" rx="3.68" ry="1.78" fill="url(#bandg)" opacity="1" filter="url(#bb2)"/>
<ellipse cx="258.05" cy="610.65" rx="3.68" ry="1.78" fill="url(#bandg)" opacity="1" filter="url(#bb2)"/>
<ellipse cx="269.60" cy="610.65" rx="3.68" ry="1.78" fill="url(#bandg)" opacity="1" filter="url(#bb2)"/>
<ellipse cx="281.15" cy="610.65" rx="3.68" ry="1.78" fill="url(#bandg)" opacity="1" filter="url(#bb2)"/>
<ellipse cx="292.70" cy="610.65" rx="3.68" ry="1.78" fill="url(#bandg)" opacity="1" filter="url(#bb2)"/>
<ellipse cx="304.25" cy="610.65" rx="3.68" ry="1.78" fill="url(#bandg)" opacity="1" filter="url(#bb2)"/>
<ellipse cx="246.50" cy="625.50" rx="4.46" ry="2.73" fill="url(#bandg)" opacity="1" filter="url(#bb2)"/>
<ellipse cx="258.05" cy="625.50" rx="4.46" ry="2.73" fill="url(#bandg)" opacity="1" filter="url(#bb2)"/>
<ellipse cx="269.60" cy="625.50" rx="4.46" ry="2.73" fill="url(#bandg)" opacity="1" filter="url(#bb2)"/>
<ellipse cx="281.15" cy="625.50" rx="4.46" ry="2.73" fill="url(#bandg)" opacity="1" filter="url(#bb2)"/>
<ellipse cx="292.70" cy="625.50" rx="4.46" ry="2.73" fill="url(#bandg)" opacity="1" filter="url(#bb2)"/>
<ellipse cx="246.50" cy="641.00" rx="5.51" ry="3.94" fill="url(#bandg)" opacity="1" filter="url(#bb2)"/>
<ellipse cx="258.05" cy="641.00" rx="5.51" ry="3.94" fill="url(#bandg)" opacity="1" filter="url(#bb2)"/>
<ellipse cx="269.60" cy="641.00" rx="5.51" ry="3.94" fill="url(#bandg)" opacity="1" filter="url(#bb2)"/>
<ellipse cx="281.15" cy="641.00" rx="5.51" ry="3.94" fill="url(#bandg)" opacity="1" filter="url(#bb2)"/>
<ellipse cx="292.70" cy="641.00" rx="5.51" ry="3.94" fill="url(#bandg)" opacity="1" filter="url(#bb2)"/>
<ellipse cx="304.25" cy="641.00" rx="4.73" ry="3.41" fill="url(#bandg)" opacity="1" filter="url(#bb2)"/>
<ellipse cx="246.50" cy="637.20" rx="2.75" ry="1.00" fill="url(#bandg)" opacity="0.4" filter="url(#bb2)"/>
<ellipse cx="258.05" cy="637.20" rx="2.75" ry="1.00" fill="url(#bandg)" opacity="0.4" filter="url(#bb2)"/>
<ellipse cx="269.60" cy="637.20" rx="2.75" ry="1.00" fill="url(#bandg)" opacity="0.4" filter="url(#bb2)"/>
<ellipse cx="281.15" cy="637.20" rx="2.75" ry="1.00" fill="url(#bandg)" opacity="0.4" filter="url(#bb2)"/>
<ellipse cx="292.70" cy="637.20" rx="2.75" ry="1.00" fill="url(#bandg)" opacity="0.4" filter="url(#bb2)"/>
<ellipse cx="304.25" cy="637.20" rx="2.75" ry="1.00" fill="url(#bandg)" opacity="0.4" filter="url(#bb2)"/>
<ellipse cx="246.50" cy="655.05" rx="4.46" ry="3.15" fill="url(#bandg)" opacity="1" filter="url(#bb2)"/>
<ellipse cx="258.05" cy="655.05" rx="4.46" ry="3.15" fill="url(#bandg)" opacity="1" filter="url(#bb2)"/>
<ellipse cx="269.60" cy="655.05" rx="4.46" ry="3.15" fill="url(#bandg)" opacity="1" filter="url(#bb2)"/>
<ellipse cx="281.15" cy="655.05" rx="4.46" ry="3.15" fill="url(#bandg)" opacity="1" filter="url(#bb2)"/>
<ellipse cx="292.70" cy="655.05" rx="4.46" ry="3.15" fill="url(#bandg)" opacity="1" filter="url(#bb2)"/>
<ellipse cx="246.50" cy="670.10" rx="5.78" ry="3.26" fill="url(#bandg)" opacity="1" filter="url(#bb2)"/>
<ellipse cx="258.05" cy="670.10" rx="5.78" ry="3.26" fill="url(#bandg)" opacity="1" filter="url(#bb2)"/>
<ellipse cx="269.60" cy="670.10" rx="5.78" ry="3.26" fill="url(#bandg)" opacity="1" filter="url(#bb2)"/>
<ellipse cx="281.15" cy="670.10" rx="5.78" ry="3.26" fill="url(#bandg)" opacity="1" filter="url(#bb2)"/>
<ellipse cx="292.70" cy="670.10" rx="5.78" ry="3.26" fill="url(#bandg)" opacity="1" filter="url(#bb2)"/>
<ellipse cx="304.25" cy="670.10" rx="5.78" ry="3.26" fill="url(#bandg)" opacity="1" filter="url(#bb2)"/>
<ellipse cx="246.50" cy="684.60" rx="4.83" ry="2.73" fill="url(#bandg)" opacity="1" filter="url(#bb2)"/>
<ellipse cx="258.05" cy="684.60" rx="4.83" ry="2.73" fill="url(#bandg)" opacity="1" filter="url(#bb2)"/>
<ellipse cx="269.60" cy="684.60" rx="4.83" ry="2.73" fill="url(#bandg)" opacity="1" filter="url(#bb2)"/>
<ellipse cx="281.15" cy="684.60" rx="4.83" ry="2.73" fill="url(#bandg)" opacity="1" filter="url(#bb2)"/>
<ellipse cx="292.70" cy="684.60" rx="3.68" ry="2.10" fill="url(#bandg)" opacity="1" filter="url(#bb2)"/>
<ellipse cx="304.25" cy="684.60" rx="2.10" ry="1.05" fill="url(#bandg)" opacity="0.3" filter="url(#bb2)"/>
<ellipse cx="246.50" cy="699.25" rx="5.78" ry="3.26" fill="url(#bandg)" opacity="1" filter="url(#bb2)"/>
<ellipse cx="258.05" cy="699.25" rx="5.78" ry="3.26" fill="url(#bandg)" opacity="1" filter="url(#bb2)"/>
<ellipse cx="269.60" cy="699.25" rx="5.78" ry="3.26" fill="url(#bandg)" opacity="1" filter="url(#bb2)"/>
<ellipse cx="281.15" cy="699.25" rx="5.78" ry="3.26" fill="url(#bandg)" opacity="1" filter="url(#bb2)"/>
<ellipse cx="292.70" cy="699.25" rx="5.78" ry="3.26" fill="url(#bandg)" opacity="1" filter="url(#bb2)"/>
<ellipse cx="304.25" cy="699.25" rx="5.78" ry="3.26" fill="url(#bandg)" opacity="1" filter="url(#bb2)"/>
<ellipse cx="324.50" cy="501.20" rx="5.90" ry="4.70" fill="url(#bandg)" opacity="1.0" filter="url(#bb2)"/>
<ellipse cx="324.50" cy="511.60" rx="4.70" ry="3.50" fill="url(#bandg)" opacity="1.0" filter="url(#bb2)"/>
<ellipse cx="335.80" cy="501.20" rx="5.90" ry="4.70" fill="url(#bandg)" opacity="1.0" filter="url(#bb2)"/>
<ellipse cx="335.80" cy="511.60" rx="4.70" ry="3.50" fill="url(#bandg)" opacity="1.0" filter="url(#bb2)"/>
<ellipse cx="346.80" cy="501.20" rx="5.90" ry="4.70" fill="url(#bandg)" opacity="1.0" filter="url(#bb2)"/>
<ellipse cx="346.80" cy="511.60" rx="4.70" ry="3.50" fill="url(#bandg)" opacity="1.0" filter="url(#bb2)"/>
<ellipse cx="358.20" cy="501.20" rx="5.90" ry="4.70" fill="url(#bandg)" opacity="1.0" filter="url(#bb2)"/>
<ellipse cx="358.20" cy="511.60" rx="4.70" ry="3.50" fill="url(#bandg)" opacity="1.0" filter="url(#bb2)"/>
<ellipse cx="369.80" cy="501.20" rx="5.90" ry="4.70" fill="url(#bandg)" opacity="1.0" filter="url(#bb2)"/>
<ellipse cx="369.80" cy="511.60" rx="4.70" ry="3.50" fill="url(#bandg)" opacity="1.0" filter="url(#bb2)"/>
<ellipse cx="381.50" cy="501.20" rx="5.90" ry="4.70" fill="url(#bandg)" opacity="1.0" filter="url(#bb2)"/>
<ellipse cx="381.50" cy="511.60" rx="4.70" ry="3.50" fill="url(#bandg)" opacity="1.0" filter="url(#bb2)"/>
<ellipse cx="323.00" cy="524.60" rx="3.10" ry="2.80" fill="url(#bandg)" opacity="1" filter="url(#bb2)"/>
<ellipse cx="323.50" cy="538.00" rx="3.10" ry="2.80" fill="url(#bandg)" opacity="1" filter="url(#bb2)"/>
<ellipse cx="334.50" cy="524.60" rx="3.10" ry="2.80" fill="url(#bandg)" opacity="1" filter="url(#bb2)"/>
<ellipse cx="335.00" cy="538.00" rx="3.10" ry="2.80" fill="url(#bandg)" opacity="1" filter="url(#bb2)"/>
<ellipse cx="348.00" cy="524.60" rx="3.10" ry="2.80" fill="url(#bandg)" opacity="1" filter="url(#bb2)"/>
<ellipse cx="348.50" cy="538.00" rx="3.10" ry="2.80" fill="url(#bandg)" opacity="1" filter="url(#bb2)"/>
<ellipse cx="359.50" cy="524.60" rx="2.00" ry="1.60" fill="url(#bandg)" opacity="0.9" filter="url(#bb2)"/>
<ellipse cx="360.00" cy="538.00" rx="2.00" ry="1.60" fill="url(#bandg)" opacity="0.9" filter="url(#bb2)"/>
<ellipse cx="371.00" cy="524.60" rx="1.90" ry="1.40" fill="url(#bandg)" opacity="0.4" filter="url(#bb2)"/>
<ellipse cx="371.50" cy="538.00" rx="1.90" ry="1.40" fill="url(#bandg)" opacity="0.4" filter="url(#bb2)"/>
<ellipse cx="324.40" cy="551.50" rx="4.62" ry="2.89" fill="url(#bandg)" opacity="1" filter="url(#bb2)"/>
<ellipse cx="335.95" cy="551.50" rx="4.62" ry="2.89" fill="url(#bandg)" opacity="1" filter="url(#bb2)"/>
<ellipse cx="347.50" cy="551.50" rx="4.62" ry="2.89" fill="url(#bandg)" opacity="1" filter="url(#bb2)"/>
<ellipse cx="359.05" cy="551.50" rx="4.62" ry="2.89" fill="url(#bandg)" opacity="1" filter="url(#bb2)"/>
<ellipse cx="370.60" cy="551.50" rx="4.62" ry="2.89" fill="url(#bandg)" opacity="1" filter="url(#bb2)"/>
<ellipse cx="382.15" cy="551.50" rx="4.62" ry="2.89" fill="url(#bandg)" opacity="1" filter="url(#bb2)"/>
<ellipse cx="324.40" cy="565.75" rx="3.94" ry="3.41" fill="url(#bandg)" opacity="1" filter="url(#bb2)"/>
<ellipse cx="335.95" cy="565.75" rx="3.68" ry="3.15" fill="url(#bandg)" opacity="1" filter="url(#bb2)"/>
<ellipse cx="347.50" cy="565.75" rx="3.68" ry="3.15" fill="url(#bandg)" opacity="1" filter="url(#bb2)"/>
<ellipse cx="359.05" cy="565.75" rx="3.68" ry="2.89" fill="url(#bandg)" opacity="1" filter="url(#bb2)"/>
<ellipse cx="370.60" cy="565.75" rx="2.62" ry="1.58" fill="url(#bandg)" opacity="0.6" filter="url(#bb2)"/>
<ellipse cx="324.40" cy="578.60" rx="3.30" ry="2.40" fill="url(#bandg)" opacity="1.0" filter="url(#bb2)"/>
<ellipse cx="324.40" cy="583.20" rx="3.80" ry="2.40" fill="url(#bandg)" opacity="1.0" filter="url(#bb2)"/>
<ellipse cx="335.95" cy="578.60" rx="3.30" ry="2.40" fill="url(#bandg)" opacity="1.0" filter="url(#bb2)"/>
<ellipse cx="335.95" cy="583.20" rx="3.80" ry="2.40" fill="url(#bandg)" opacity="1.0" filter="url(#bb2)"/>
<ellipse cx="347.50" cy="578.60" rx="3.30" ry="2.40" fill="url(#bandg)" opacity="1.0" filter="url(#bb2)"/>
<ellipse cx="347.50" cy="583.20" rx="3.80" ry="2.40" fill="url(#bandg)" opacity="1.0" filter="url(#bb2)"/>
<ellipse cx="359.05" cy="578.60" rx="3.30" ry="2.40" fill="url(#bandg)" opacity="1.0" filter="url(#bb2)"/>
<ellipse cx="359.05" cy="583.20" rx="3.80" ry="2.40" fill="url(#bandg)" opacity="1.0" filter="url(#bb2)"/>
<ellipse cx="370.60" cy="578.60" rx="3.30" ry="2.40" fill="url(#bandg)" opacity="1.0" filter="url(#bb2)"/>
<ellipse cx="370.60" cy="583.20" rx="3.80" ry="2.40" fill="url(#bandg)" opacity="1.0" filter="url(#bb2)"/>
<ellipse cx="382.15" cy="578.60" rx="3.30" ry="2.40" fill="url(#bandg)" opacity="1.0" filter="url(#bb2)"/>
<ellipse cx="382.15" cy="583.20" rx="3.80" ry="2.40" fill="url(#bandg)" opacity="1.0" filter="url(#bb2)"/>
<ellipse cx="324.40" cy="595.45" rx="6.04" ry="5.25" fill="url(#bandg)" opacity="1" filter="url(#bb2)"/>
<ellipse cx="335.95" cy="595.45" rx="6.04" ry="5.25" fill="url(#bandg)" opacity="1" filter="url(#bb2)"/>
<ellipse cx="347.50" cy="595.45" rx="6.04" ry="5.25" fill="url(#bandg)" opacity="1" filter="url(#bb2)"/>
<ellipse cx="359.05" cy="595.45" rx="3.68" ry="1.58" fill="url(#bandg)" opacity="1" filter="url(#bb2)"/>
<ellipse cx="370.60" cy="595.45" rx="1.58" ry="1.05" fill="url(#bandg)" opacity="1" filter="url(#bb2)"/>
<ellipse cx="382.15" cy="595.45" rx="1.58" ry="1.05" fill="url(#bandg)" opacity="1" filter="url(#bb2)"/>
<ellipse cx="324.40" cy="610.65" rx="4.20" ry="2.10" fill="url(#bandg)" opacity="1" filter="url(#bb2)"/>
<ellipse cx="335.95" cy="610.65" rx="4.20" ry="2.10" fill="url(#bandg)" opacity="1" filter="url(#bb2)"/>
<ellipse cx="347.50" cy="610.65" rx="4.20" ry="2.10" fill="url(#bandg)" opacity="1" filter="url(#bb2)"/>
<ellipse cx="359.05" cy="610.65" rx="4.20" ry="2.10" fill="url(#bandg)" opacity="1" filter="url(#bb2)"/>
<ellipse cx="370.60" cy="610.65" rx="4.20" ry="2.10" fill="url(#bandg)" opacity="1" filter="url(#bb2)"/>
<ellipse cx="382.15" cy="610.65" rx="4.20" ry="2.10" fill="url(#bandg)" opacity="1" filter="url(#bb2)"/>
<ellipse cx="324.40" cy="625.50" rx="4.46" ry="2.73" fill="url(#bandg)" opacity="1" filter="url(#bb2)"/>
<ellipse cx="335.95" cy="625.50" rx="4.46" ry="2.73" fill="url(#bandg)" opacity="1" filter="url(#bb2)"/>
<ellipse cx="347.50" cy="625.50" rx="4.46" ry="2.73" fill="url(#bandg)" opacity="1" filter="url(#bb2)"/>
<ellipse cx="359.05" cy="625.50" rx="4.46" ry="2.73" fill="url(#bandg)" opacity="1" filter="url(#bb2)"/>
<ellipse cx="370.60" cy="625.50" rx="1.58" ry="1.31" fill="url(#bandg)" opacity="1" filter="url(#bb2)"/>
<ellipse cx="324.40" cy="641.00" rx="5.51" ry="3.94" fill="url(#bandg)" opacity="1" filter="url(#bb2)"/>
<ellipse cx="335.95" cy="641.00" rx="5.51" ry="3.94" fill="url(#bandg)" opacity="1" filter="url(#bb2)"/>
<ellipse cx="347.50" cy="641.00" rx="5.51" ry="3.94" fill="url(#bandg)" opacity="1" filter="url(#bb2)"/>
<ellipse cx="359.05" cy="641.00" rx="5.51" ry="3.94" fill="url(#bandg)" opacity="1" filter="url(#bb2)"/>
<ellipse cx="370.60" cy="641.00" rx="5.51" ry="3.94" fill="url(#bandg)" opacity="1" filter="url(#bb2)"/>
<ellipse cx="382.15" cy="641.00" rx="5.51" ry="3.94" fill="url(#bandg)" opacity="1" filter="url(#bb2)"/>
<ellipse cx="324.40" cy="637.20" rx="2.75" ry="1.00" fill="url(#bandg)" opacity="0.4" filter="url(#bb2)"/>
<ellipse cx="335.95" cy="637.20" rx="2.75" ry="1.00" fill="url(#bandg)" opacity="0.4" filter="url(#bb2)"/>
<ellipse cx="347.50" cy="637.20" rx="2.75" ry="1.00" fill="url(#bandg)" opacity="0.4" filter="url(#bb2)"/>
<ellipse cx="359.05" cy="637.20" rx="2.75" ry="1.00" fill="url(#bandg)" opacity="0.4" filter="url(#bb2)"/>
<ellipse cx="370.60" cy="637.20" rx="2.75" ry="1.00" fill="url(#bandg)" opacity="0.4" filter="url(#bb2)"/>
<ellipse cx="382.15" cy="637.20" rx="2.75" ry="1.00" fill="url(#bandg)" opacity="0.4" filter="url(#bb2)"/>
<ellipse cx="324.40" cy="655.05" rx="3.94" ry="2.52" fill="url(#bandg)" opacity="1" filter="url(#bb2)"/>
<ellipse cx="335.95" cy="655.05" rx="3.94" ry="2.52" fill="url(#bandg)" opacity="1" filter="url(#bb2)"/>
<ellipse cx="347.50" cy="655.05" rx="3.94" ry="2.52" fill="url(#bandg)" opacity="1" filter="url(#bb2)"/>
<ellipse cx="359.05" cy="655.05" rx="3.94" ry="2.52" fill="url(#bandg)" opacity="1" filter="url(#bb2)"/>
<ellipse cx="370.60" cy="655.05" rx="4.73" ry="3.15" fill="url(#bandg)" opacity="1" filter="url(#bb2)"/>
<ellipse cx="382.15" cy="655.55" rx="4.20" ry="2.10" fill="url(#bandg)" opacity="1" filter="url(#bb2)"/>
<ellipse cx="324.40" cy="670.10" rx="5.51" ry="2.42" fill="url(#bandg)" opacity="1" filter="url(#bb2)"/>
<ellipse cx="335.95" cy="670.10" rx="5.51" ry="2.42" fill="url(#bandg)" opacity="1" filter="url(#bb2)"/>
<ellipse cx="347.50" cy="670.10" rx="5.51" ry="2.42" fill="url(#bandg)" opacity="1" filter="url(#bb2)"/>
<ellipse cx="359.05" cy="670.10" rx="5.51" ry="2.42" fill="url(#bandg)" opacity="1" filter="url(#bb2)"/>
<ellipse cx="370.60" cy="670.10" rx="5.51" ry="2.42" fill="url(#bandg)" opacity="1" filter="url(#bb2)"/>
<ellipse cx="382.15" cy="670.10" rx="5.51" ry="2.42" fill="url(#bandg)" opacity="1" filter="url(#bb2)"/>
<ellipse cx="324.40" cy="684.60" rx="5.51" ry="3.68" fill="url(#bandg)" opacity="1" filter="url(#bb2)"/>
<ellipse cx="335.95" cy="684.60" rx="5.51" ry="3.68" fill="url(#bandg)" opacity="1" filter="url(#bb2)"/>
<ellipse cx="347.50" cy="684.60" rx="5.51" ry="3.68" fill="url(#bandg)" opacity="1" filter="url(#bb2)"/>
<ellipse cx="359.05" cy="684.60" rx="5.51" ry="3.68" fill="url(#bandg)" opacity="1" filter="url(#bb2)"/>
<ellipse cx="370.60" cy="684.60" rx="3.41" ry="2.10" fill="url(#bandg)" opacity="1" filter="url(#bb2)"/>
<ellipse cx="324.40" cy="699.25" rx="4.83" ry="2.42" fill="url(#bandg)" opacity="1" filter="url(#bb2)"/>
<ellipse cx="335.95" cy="699.25" rx="4.83" ry="2.42" fill="url(#bandg)" opacity="1" filter="url(#bb2)"/>
<ellipse cx="347.50" cy="699.25" rx="4.83" ry="2.42" fill="url(#bandg)" opacity="1" filter="url(#bb2)"/>
<ellipse cx="359.05" cy="699.25" rx="4.83" ry="2.42" fill="url(#bandg)" opacity="1" filter="url(#bb2)"/>
<ellipse cx="370.60" cy="699.25" rx="4.83" ry="2.42" fill="url(#bandg)" opacity="1" filter="url(#bb2)"/>
<ellipse cx="382.15" cy="699.25" rx="4.83" ry="2.42" fill="url(#bandg)" opacity="1" filter="url(#bb2)"/>
<line x1="210.4" y1="505.2" x2="214" y2="505.2" stroke="#111" stroke-width="1.1"/>
<text x="215.0" y="507.6" font-size="6.1" fill="#1a1a1a" stroke="#1a1a1a" stroke-width="0.18" letter-spacing="-0.1">100 <tspan font-size="5.0">kDa</tspan></text>
<line x1="390.8" y1="495.6" x2="395" y2="495.6" stroke="#111" stroke-width="1.1"/>
<text x="395.8" y="497.8" font-size="5.9" fill="#1a1a1a" stroke="#1a1a1a" stroke-width="0.18" letter-spacing="-0.12">100 kDa</text>
<line x1="390.8" y1="514.6" x2="395" y2="514.6" stroke="#111" stroke-width="1.1"/>
<text x="395.8" y="516.6" font-size="5.9" fill="#1a1a1a" stroke="#1a1a1a" stroke-width="0.18" letter-spacing="-0.12">75 kDa</text>
</g>
</svg></body></html>
